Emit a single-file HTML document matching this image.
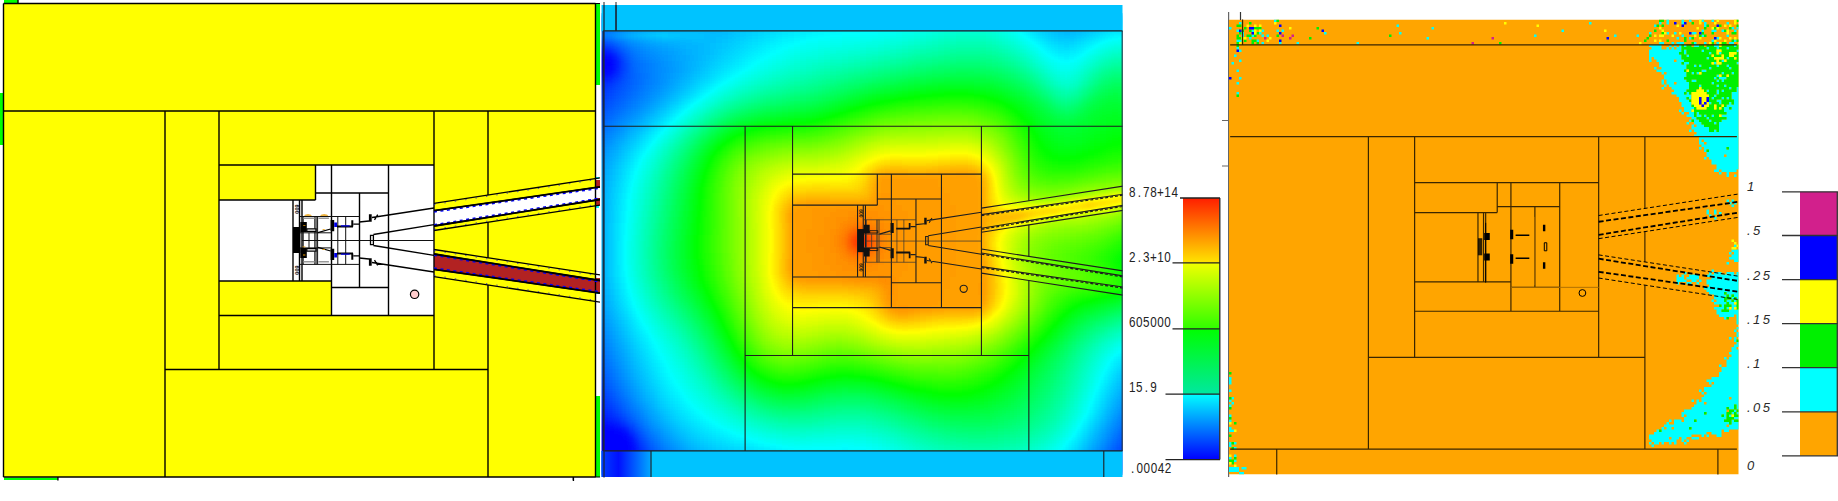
<!DOCTYPE html><html><head><meta charset="utf-8"><style>html,body{margin:0;padding:0;background:#fff;overflow:hidden}svg{display:block}.t{font-family:"Liberation Sans",sans-serif;font-size:14.6px;fill:#222}.i{font-family:"Liberation Sans",sans-serif;font-style:italic;font-size:13px;letter-spacing:2.4px;fill:#2a2a2a}.nv{vector-effect:non-scaling-stroke}</style></head><body>
<svg width="1838" height="501" viewBox="0 0 1838 501">
<defs>
<path id="gM" class="nv" d="M3.5,3.5H595.5 M3.5,111H595.5 M165,111V477 M219,111V369.5 M434,111V369.5 M488,111V195.1 M488,222.2V257.8 M488,284.9V477 M165,369.5H488 M219,165H434 M219,315.5H434 M315.5,165V200 M219,200H315.5 M219,281H331.5 M331.5,165V315.5 M388.5,165V315.5 M315.5,193H388.5 M359.5,193V287.5 M331.5,287.5H388.5 M293,200V281 M299.5,200V281 M302,200V281 M3.5,477H595.5 M18,-40V3.5 M57.9,477V520 M573.3,477V520"/>
<path id="gF" class="nv" d="M3.5,3.5V477M595.5,3.5V477"/>
<path id="gC" class="nv" d="M300,216.5H359.5 M300,264.4H359.5 M300,232.8H331.5 M300,247.9H331.5 M302,240.5H434 M337.8,216.5V264.4 M345.7,216.5V264.4 M314.8,216.5V264.4 M316.1,216.5V264.4 M317.6,216.5V264.4 M309,232.8V247.9 M303.2,216.5V264.4"/>
<path id="gT" class="nv" d="M434,249.5L600,274.89 M434,230.5L600,205.11 M434,254L600,280.52 M434,226L600,199.48 M434,269.3L600,293.04 M434,210.7L600,186.96 M434,276.6L600,302.19 M434,203.4L600,177.81"/>
<path id="gTw" class="nv" d="M434,254L600,280.52 M434,226L600,199.48 M434,269.3L600,293.04 M434,210.7L600,186.96"/>
<path id="gTb" class="nv" d="M434,249.5L600,274.89 M434,230.5L600,205.11 M434,276.6L600,302.19 M434,203.4L600,177.81"/>
<path id="gB" class="nv" d="M317.9,232.7L330.6,229 M317.9,247.3L330.6,251.0 M353.3,224.2H359.3 M353.3,255.8H359.3 M359.3,222L369,221 M359.3,258.0L369,259.0 M372,217.5L434,208 M372,262.5L434,272.0 M373.4,234.5L434,224.7 M373.4,245.5L434,255.3 M370.5,235.3V244.7H373.4V235.3Z M370.5,244.7V235.3H373.4V244.7Z M374.5,219.8L377.7,214.6 M374.5,260.2L377.7,265.4"/>
<g id="gK"><rect x="293" y="227" width="7.3" height="26" fill="#000"/><path d="M300.3,222H306.8V232H300.3Z M300.3,248H306.8V258H300.3Z" fill="#000"/><path d="M306.8,228.8H316V231.4H306.8Z M306.8,248.6H316V251.2H306.8Z" fill="#fff" stroke="#000" stroke-width="1.3"/><path d="M330.6,220H334.2V231.3H330.6Z M330.6,248.7H334.2V260H330.6Z M337,225.6H353V227.6H337Z M337,252.4H353V254.4H337Z M351.3,220.2H353.3V226.5H351.3Z M351.3,253.5H353.3V259.8H351.3Z M368.9,214.2H371.7V221.8H368.9Z M368.9,258.2H371.7V265.8H368.9Z" fill="#000"/><path d="M334.2,222.6H337V227H334.2Z M334.2,253H337V257.4H334.2Z M341,225.3H349.7V226.5H341Z M341,253.5H349.7V254.7H341Z" fill="#0000e8"/><path d="M303.4,217.6h11.2v1.4h-11.2z M318.4,217.6h10.5v1.4h-10.5z M303.4,261h11.2v1.4h-11.2z M318.4,261h10.5v1.4h-10.5z" fill="#999"/><path d="M304.3,215.8a3.7,1.6 0 0 1 7.4,0z M320.3,215.8a3.9,1.6 0 0 1 7.8,0z" fill="#e89a00"/><path d="M303.2,224.9h2.2v0.8h-2.2z M302.5,246.5h2.9v0.8h-2.9z M303,254.6h2.4v0.8h-2.4z M322.6,229.2h2.2v0.9h-2.2z M322.6,249h2.2v0.9h-2.2z" fill="#e89a00"/><text transform="translate(295.2,204.5) rotate(90)" style="font-family:Liberation Sans,sans-serif;font-size:5.6px;font-weight:bold" fill="#111">600</text><text transform="translate(295.2,265.5) rotate(90)" style="font-family:Liberation Sans,sans-serif;font-size:5.6px;font-weight:bold" fill="#111">600</text></g>
<g id="gKb"><rect x="293" y="227" width="7.3" height="26" fill="#111"/><path d="M300.3,222H306.8V232H300.3Z M300.3,248H306.8V258H300.3Z" fill="#111"/><path d="M306.8,228.8H316V231.4H306.8Z M306.8,248.6H316V251.2H306.8Z" fill="none" stroke="#111" stroke-width="1"/><path d="M330.6,220H334.2V231.3H330.6Z M330.6,248.7H334.2V260H330.6Z M337,225.6H353V227.6H337Z M337,252.4H353V254.4H337Z M351.3,220.2H353.3V226.5H351.3Z M351.3,253.5H353.3V259.8H351.3Z M368.9,214.2H371.7V221.8H368.9Z M368.9,258.2H371.7V265.8H368.9Z" fill="#111"/><text transform="translate(295.2,204.5) rotate(90)" style="font-family:Liberation Sans,sans-serif;font-size:5.6px;font-weight:bold" fill="#111">600</text><text transform="translate(295.2,265.5) rotate(90)" style="font-family:Liberation Sans,sans-serif;font-size:5.6px;font-weight:bold" fill="#111">600</text></g>
<clipPath id="cL"><rect x="0" y="0" width="600" height="480.5"/></clipPath>
<clipPath id="cM"><rect x="601.5" y="5" width="521" height="472"/></clipPath>
<clipPath id="cR"><rect x="1229" y="19.5" width="509.5" height="455"/></clipPath>
<filter id="cmap" x="0" y="0" width="1" height="1" color-interpolation-filters="sRGB"><feGaussianBlur stdDeviation="3"/><feComponentTransfer><feFuncR type="table" tableValues="0 0 0 1 1"/><feFuncG type="table" tableValues="0 1 1 1 0"/><feFuncB type="table" tableValues="1 1 0 0 0"/></feComponentTransfer></filter>
</defs>
<g clip-path="url(#cL)">
<rect x="3.5" y="3.5" width="592" height="473.5" fill="#ff0"/>
<rect x="4" y="0" width="14" height="3.5" fill="#0f0"/>
<rect x="0" y="93" width="3.5" height="52" fill="#0f0"/>
<rect x="596" y="4" width="4" height="81" fill="#0f0"/>
<rect x="596" y="396" width="4" height="81" fill="#0f0"/>
<rect x="4" y="477.5" width="53.5" height="2.5" fill="#0f0"/>
<path d="M315.5,165H434V315.5H331.5V281H219V200H315.5Z" fill="#fff"/>
<path d="M434,226L600,199.48L600,186.96L434,210.7Z" fill="#fff"/>
<path d="M434,254L600,280.52L600,293.04L434,269.3Z" fill="#b22222"/>
<rect x="596" y="180" width="4" height="8" fill="#b22222"/><rect x="596" y="198" width="4" height="7" fill="#b22222"/>
<rect x="596" y="177" width="3" height="2" fill="#0ff"/><rect x="596" y="206" width="3" height="2" fill="#0ff"/>
<rect x="596" y="278" width="4" height="13" fill="#b22222"/><rect x="596" y="292" width="3" height="2" fill="#0ff"/>
<use href="#gM" fill="none" stroke="#000" stroke-width="1.4"/>
<use href="#gF" fill="none" stroke="#000" stroke-width="1.4"/>
<use href="#gC" fill="none" stroke="#111" stroke-width="1"/>
<use href="#gT" fill="none" stroke="#000" stroke-width="1.3"/>
<path d="M434,212.00L600,188.26 M434,224.70L600,198.18 M434,255.30L600,281.82 M434,268.00L600,291.74" fill="none" stroke="#0000ff" stroke-width="1.5" stroke-dasharray="3 3.5"/>
<path d="M434,204.60L600,179.01 M434,229.30L600,203.91 M434,250.70L600,276.09 M434,275.40L600,300.99" fill="none" stroke="#0000ff" stroke-width="1" stroke-dasharray="1.5 9" opacity="0.6"/>
<path d="M434,210.70L600,186.96 M434,226.00L600,199.48 M434,254.00L600,280.52 M434,269.30L600,293.04" fill="none" stroke="#000" stroke-width="1.8"/>
<use href="#gB" fill="none" stroke="#000" stroke-width="1.3"/>
<use href="#gK"/>
<circle cx="414.6" cy="294.3" r="4.2" fill="#fcc" stroke="#000" stroke-width="1.2"/>
</g>
<path d="M573.5,477V481M595,3.5H600M595,477H600" stroke="#000" stroke-width="1.2"/>
<g clip-path="url(#cM)">
<g filter="url(#cmap)">
<path fill="#000000" d="M596 55h12v6h-12zM590 61h24v6h-24zM596 67h12v6h-12zM584 415h6v6h-6zM584 421h12v6h-12zM584 427h30v6h-30zM584 433h42v6h-42zM584 439h48v6h-48zM584 445h48v6h-48zM584 451h48v6h-48zM584 457h48v6h-48zM584 463h48v6h-48zM584 469h54v6h-54zM1136 469h6v6h-6z"/>
<path fill="#010101" d="M608 55h6v6h-6zM590 67h6v6h-6zM608 67h6v6h-6zM584 409h6v6h-6zM590 415h6v6h-6zM596 421h6v6h-6zM614 427h6v6h-6zM1136 463h6v6h-6z"/>
<path fill="#020202" d="M590 55h6v6h-6zM584 61h6v6h-6zM602 421h6v6h-6zM632 463h6v6h-6z"/>
<path fill="#030303" d="M584 67h6v6h-6zM596 73h12v6h-12zM584 403h6v6h-6zM590 409h6v6h-6zM620 427h6v6h-6zM626 433h6v6h-6zM632 451h6v6h-6zM632 457h6v6h-6zM1136 457h6v6h-6zM638 469h6v6h-6zM1130 469h6v6h-6z"/>
<path fill="#040404" d="M584 55h6v6h-6zM584 73h12v6h-12zM596 415h6v6h-6zM632 445h6v6h-6z"/>
<path fill="#050505" d="M596 49h12v6h-12zM584 397h6v6h-6zM608 421h6v6h-6zM1136 451h6v6h-6zM1130 463h6v6h-6z"/>
<path fill="#060606" d="M590 49h6v6h-6zM614 61h6v6h-6zM608 73h6v6h-6zM584 79h6v6h-6zM590 403h6v6h-6zM596 409h6v6h-6zM638 463h6v6h-6z"/>
<path fill="#070707" d="M584 49h6v6h-6zM590 79h6v6h-6zM584 85h6v6h-6zM584 391h6v6h-6zM602 415h6v6h-6zM614 421h6v6h-6zM632 439h6v6h-6zM1136 445h6v6h-6zM1130 457h6v6h-6zM644 469h6v6h-6zM1124 469h6v6h-6z"/>
<path fill="#080808" d="M614 67h6v6h-6zM596 79h6v6h-6zM590 397h6v6h-6zM638 457h6v6h-6z"/>
<path fill="#090909" d="M608 49h6v6h-6zM614 55h6v6h-6zM602 79h6v6h-6zM590 85h6v6h-6zM584 91h6v6h-6zM584 385h6v6h-6zM596 403h6v6h-6zM1130 451h6v6h-6zM1124 463h6v6h-6z"/>
<path fill="#0a0a0a" d="M584 97h6v6h-6zM590 391h6v6h-6zM602 409h6v6h-6zM608 415h6v6h-6zM626 427h6v6h-6zM1136 439h6v6h-6zM638 451h6v6h-6zM644 463h6v6h-6z"/>
<path fill="#0b0b0b" d="M596 85h6v6h-6zM590 91h6v6h-6zM584 379h6v6h-6zM596 397h6v6h-6zM1130 445h6v6h-6zM1124 457h6v6h-6zM650 469h6v6h-6zM1118 469h6v6h-6z"/>
<path fill="#0c0c0c" d="M590 43h6v6h-6zM614 73h6v6h-6zM608 79h6v6h-6zM584 103h6v6h-6zM620 421h6v6h-6zM632 433h6v6h-6zM1136 433h6v6h-6z"/>
<path fill="#0d0d0d" d="M584 43h6v6h-6zM596 43h6v6h-6zM602 85h6v6h-6zM596 91h6v6h-6zM590 97h6v6h-6zM584 373h6v6h-6zM590 385h6v6h-6zM602 403h6v6h-6zM608 409h6v6h-6zM614 415h6v6h-6zM638 445h6v6h-6zM1124 451h6v6h-6zM644 457h6v6h-6zM1118 463h6v6h-6z"/>
<path fill="#0e0e0e" d="M584 109h6v6h-6zM596 391h6v6h-6zM1130 439h6v6h-6zM650 463h6v6h-6zM656 469h6v6h-6z"/>
<path fill="#0f0f0f" d="M584 19h6v6h-6zM584 25h6v6h-6zM602 43h6v6h-6zM614 49h6v6h-6zM620 61h6v6h-6zM596 97h6v6h-6zM590 103h6v6h-6zM584 367h6v6h-6zM590 379h6v6h-6zM602 397h6v6h-6zM1136 427h6v6h-6zM1118 457h6v6h-6zM1112 469h6v6h-6z"/>
<path fill="#101010" d="M584 13h6v6h-6zM590 25h6v6h-6zM620 67h6v6h-6zM614 79h6v6h-6zM608 85h6v6h-6zM602 91h6v6h-6zM584 115h6v6h-6zM590 373h6v6h-6zM596 385h6v6h-6zM608 403h6v6h-6zM1130 433h6v6h-6zM638 439h6v6h-6zM1124 445h6v6h-6zM644 451h6v6h-6z"/>
<path fill="#111111" d="M590 13h6v6h-6zM590 19h6v6h-6zM596 103h6v6h-6zM590 109h6v6h-6zM584 361h6v6h-6zM602 391h6v6h-6zM614 409h6v6h-6zM620 415h6v6h-6zM626 421h6v6h-6zM632 427h6v6h-6zM650 457h6v6h-6zM1112 463h6v6h-6z"/>
<path fill="#121212" d="M596 19h6v6h-6zM596 25h6v6h-6zM608 43h6v6h-6zM620 55h6v6h-6zM620 73h6v6h-6zM608 91h6v6h-6zM602 97h6v6h-6zM584 121h6v6h-6zM584 355h6v6h-6zM590 367h6v6h-6zM596 379h6v6h-6zM1136 421h6v6h-6zM1124 439h6v6h-6zM1118 451h6v6h-6zM656 463h6v6h-6zM662 469h6v6h-6z"/>
<path fill="#131313" d="M596 13h6v6h-6zM602 25h6v6h-6zM614 85h6v6h-6zM596 109h6v6h-6zM590 115h6v6h-6zM608 397h6v6h-6zM1130 427h6v6h-6zM644 445h6v6h-6zM1112 457h6v6h-6zM1106 469h6v6h-6z"/>
<path fill="#141414" d="M602 13h6v6h-6zM602 19h12v6h-12zM608 25h6v6h-6zM584 37h6v6h-6zM620 79h6v6h-6zM608 97h6v6h-6zM602 103h6v6h-6zM584 127h6v6h-6zM584 349h6v6h-6zM590 361h6v6h-6zM596 373h6v6h-6zM602 385h6v6h-6zM614 403h6v6h-6zM638 433h6v6h-6zM1118 445h6v6h-6zM650 451h6v6h-6z"/>
<path fill="#151515" d="M608 13h12v6h-12zM590 37h12v6h-12zM614 91h6v6h-6zM590 121h6v6h-6zM584 343h6v6h-6zM608 391h6v6h-6zM620 409h6v6h-6zM1136 415h6v6h-6zM1124 433h6v6h-6zM656 457h6v6h-6zM662 463h6v6h-6zM1106 463h6v6h-6zM668 469h6v6h-6z"/>
<path fill="#161616" d="M620 13h6v6h-6zM614 19h6v6h-6zM620 49h6v6h-6zM626 61h6v6h-6zM626 67h6v6h-6zM626 73h6v6h-6zM620 85h6v6h-6zM608 103h6v6h-6zM602 109h6v6h-6zM596 115h6v6h-6zM590 355h6v6h-6zM596 367h6v6h-6zM602 379h6v6h-6zM626 415h6v6h-6zM1130 421h6v6h-6zM644 439h6v6h-6zM1112 451h6v6h-6z"/>
<path fill="#171717" d="M614 25h6v6h-6zM614 43h6v6h-6zM626 79h6v6h-6zM620 91h6v6h-6zM614 97h6v6h-6zM590 127h6v6h-6zM584 133h6v6h-6zM584 337h6v6h-6zM590 349h6v6h-6zM596 361h6v6h-6zM614 397h6v6h-6zM1136 409h6v6h-6zM632 421h6v6h-6zM1124 427h6v6h-6zM1118 439h6v6h-6zM1100 469h6v6h-6z"/>
<path fill="#181818" d="M626 13h6v6h-6zM620 19h6v6h-6zM602 37h6v6h-6zM626 55h6v6h-6zM626 85h6v6h-6zM602 115h6v6h-6zM596 121h6v6h-6zM584 139h6v6h-6zM584 331h6v6h-6zM602 373h6v6h-6zM608 385h6v6h-6zM620 403h6v6h-6zM638 427h6v6h-6zM650 445h6v6h-6zM1112 445h6v6h-6zM656 451h6v6h-6zM1106 457h6v6h-6zM674 469h6v6h-6z"/>
<path fill="#191919" d="M620 97h6v6h-6zM614 103h6v6h-6zM608 109h6v6h-6zM584 325h6v6h-6zM590 343h6v6h-6zM596 355h6v6h-6zM614 391h6v6h-6zM1130 415h6v6h-6zM1118 433h6v6h-6zM662 457h6v6h-6zM668 463h6v6h-6z"/>
<path fill="#1a1a1a" d="M632 13h6v6h-6zM620 25h6v6h-6zM632 67h6v6h-6zM632 73h6v6h-6zM632 79h6v6h-6zM626 91h6v6h-6zM596 127h6v6h-6zM590 133h6v6h-6zM584 145h6v6h-6zM590 337h6v6h-6zM602 367h6v6h-6zM608 379h6v6h-6zM1136 403h6v6h-6zM626 409h6v6h-6zM1124 421h6v6h-6zM644 433h6v6h-6zM1106 451h6v6h-6zM1100 463h6v6h-6z"/>
<path fill="#1b1b1b" d="M626 19h6v6h-6zM608 37h6v6h-6zM620 43h6v6h-6zM626 49h6v6h-6zM632 61h6v6h-6zM632 85h6v6h-6zM620 103h6v6h-6zM614 109h6v6h-6zM608 115h6v6h-6zM602 121h6v6h-6zM584 319h6v6h-6zM590 331h6v6h-6zM596 349h6v6h-6zM602 361h6v6h-6zM620 397h6v6h-6zM1130 409h6v6h-6zM632 415h6v6h-6zM650 439h6v6h-6zM1112 439h6v6h-6zM680 469h6v6h-6zM1094 469h6v6h-6z"/>
<path fill="#1c1c1c" d="M638 13h6v6h-6zM632 19h6v6h-6zM626 25h6v6h-6zM632 55h6v6h-6zM638 73h6v6h-6zM638 79h6v6h-6zM632 91h6v6h-6zM626 97h6v6h-6zM590 139h6v6h-6zM584 151h6v6h-6zM584 313h6v6h-6zM596 343h6v6h-6zM608 373h6v6h-6zM614 385h6v6h-6zM638 421h6v6h-6zM1118 427h6v6h-6zM656 445h6v6h-6zM662 451h6v6h-6zM668 457h6v6h-6zM1100 457h6v6h-6zM674 463h6v6h-6z"/>
<path fill="#1d1d1d" d="M644 13h6v6h-6zM638 61h6v6h-6zM638 67h6v6h-6zM638 85h6v6h-6zM602 127h6v6h-6zM596 133h6v6h-6zM590 145h6v6h-6zM584 157h6v6h-6zM584 307h6v6h-6zM590 325h6v6h-6zM602 355h6v6h-6zM608 367h6v6h-6zM1136 397h6v6h-6zM626 403h6v6h-6zM1124 415h6v6h-6zM644 427h6v6h-6zM1106 445h6v6h-6z"/>
<path fill="#1e1e1e" d="M650 13h6v6h-6zM638 19h6v6h-6zM632 25h6v6h-6zM644 73h6v6h-6zM632 97h6v6h-6zM626 103h6v6h-6zM620 109h6v6h-6zM614 115h6v6h-6zM608 121h6v6h-6zM584 163h6v6h-6zM584 301h6v6h-6zM590 319h6v6h-6zM596 337h6v6h-6zM602 349h6v6h-6zM614 379h6v6h-6zM620 391h6v6h-6zM1130 403h6v6h-6zM632 409h6v6h-6zM650 433h6v6h-6zM1112 433h6v6h-6zM1094 463h6v6h-6zM686 469h6v6h-6z"/>
<path fill="#1f1f1f" d="M644 19h6v6h-6zM638 25h6v6h-6zM614 37h6v6h-6zM626 43h6v6h-6zM632 49h6v6h-6zM638 55h6v6h-6zM644 61h6v6h-6zM644 67h6v6h-6zM644 79h6v6h-6zM638 91h6v6h-6zM596 139h6v6h-6zM590 151h6v6h-6zM584 169h6v6h-6zM584 295h6v6h-6zM590 313h6v6h-6zM596 331h6v6h-6zM608 361h6v6h-6zM626 397h6v6h-6zM638 415h6v6h-6zM1118 421h6v6h-6zM656 439h6v6h-6zM1100 451h6v6h-6zM680 463h6v6h-6zM1088 469h6v6h-6z"/>
<path fill="#202020" d="M656 13h12v6h-12zM584 31h6v6h-6zM644 85h6v6h-6zM632 103h6v6h-6zM608 127h6v6h-6zM602 133h6v6h-6zM584 175h6v6h-6zM584 283h6v6h-6zM584 289h6v6h-6zM596 325h6v6h-6zM602 343h6v6h-6zM614 373h6v6h-6zM620 385h6v6h-6zM1136 391h6v6h-6zM1124 409h6v6h-6zM1106 439h6v6h-6zM662 445h6v6h-6zM668 451h6v6h-6zM674 457h6v6h-6zM692 469h6v6h-6z"/>
<path fill="#212121" d="M668 13h6v6h-6zM650 19h6v6h-6zM644 25h6v6h-6zM590 31h6v6h-6zM638 49h6v6h-6zM644 55h6v6h-6zM650 61h6v6h-6zM650 67h6v6h-6zM650 73h6v6h-6zM650 79h6v6h-6zM644 91h6v6h-6zM638 97h6v6h-6zM626 109h6v6h-6zM620 115h6v6h-6zM614 121h6v6h-6zM596 145h6v6h-6zM590 157h6v6h-6zM584 181h6v6h-6zM584 187h6v6h-6zM584 193h6v6h-6zM584 199h6v6h-6zM584 265h6v6h-6zM584 271h6v6h-6zM584 277h6v6h-6zM590 307h6v6h-6zM602 337h6v6h-6zM608 355h6v6h-6zM614 367h6v6h-6zM1130 397h6v6h-6zM632 403h6v6h-6zM1118 415h6v6h-6zM644 421h6v6h-6zM1112 427h6v6h-6zM1094 457h6v6h-6z"/>
<path fill="#222222" d="M674 13h6v6h-6zM656 19h6v6h-6zM650 25h6v6h-6zM596 31h6v6h-6zM620 37h6v6h-6zM632 43h6v6h-6zM650 85h6v6h-6zM602 139h6v6h-6zM590 163h6v6h-6zM584 205h6v6h-6zM584 211h6v6h-6zM584 217h6v6h-6zM584 223h6v6h-6zM584 229h6v6h-6zM584 235h6v6h-6zM584 241h6v6h-6zM584 247h6v6h-6zM584 253h6v6h-6zM584 259h6v6h-6zM590 301h6v6h-6zM596 319h6v6h-6zM608 349h6v6h-6zM620 379h6v6h-6zM1136 385h6v6h-6zM626 391h6v6h-6zM1124 403h6v6h-6zM638 409h6v6h-6zM650 427h6v6h-6zM656 433h6v6h-6zM1100 445h6v6h-6zM686 463h6v6h-6zM1088 463h6v6h-6zM698 469h6v6h-6z"/>
<path fill="#232323" d="M680 13h6v6h-6zM662 19h6v6h-6zM656 25h6v6h-6zM602 31h6v6h-6zM644 49h6v6h-6zM650 55h6v6h-6zM656 61h6v6h-6zM656 67h6v6h-6zM656 73h6v6h-6zM656 79h6v6h-6zM644 97h6v6h-6zM638 103h6v6h-6zM632 109h6v6h-6zM626 115h6v6h-6zM614 127h6v6h-6zM608 133h6v6h-6zM596 151h6v6h-6zM590 169h6v6h-6zM590 295h6v6h-6zM596 313h6v6h-6zM602 331h6v6h-6zM614 361h6v6h-6zM1130 391h6v6h-6zM1112 421h6v6h-6zM1106 433h6v6h-6zM662 439h6v6h-6zM668 445h6v6h-6zM674 451h6v6h-6zM680 457h6v6h-6zM1082 469h6v6h-6z"/>
<path fill="#242424" d="M686 13h6v6h-6zM668 19h6v6h-6zM662 25h6v6h-6zM638 43h6v6h-6zM650 49h6v6h-6zM656 55h6v6h-6zM662 67h6v6h-6zM656 85h6v6h-6zM650 91h6v6h-6zM620 121h6v6h-6zM602 145h6v6h-6zM596 157h6v6h-6zM590 175h6v6h-6zM590 181h6v6h-6zM590 283h6v6h-6zM590 289h6v6h-6zM596 307h6v6h-6zM602 325h6v6h-6zM608 343h6v6h-6zM620 373h6v6h-6zM626 385h6v6h-6zM632 397h6v6h-6zM1118 409h6v6h-6zM644 415h6v6h-6zM1094 451h6v6h-6zM692 463h6v6h-6zM704 469h6v6h-6z"/>
<path fill="#252525" d="M692 13h6v6h-6zM1058 13h24v6h-24zM674 19h12v6h-12zM668 25h6v6h-6zM626 37h6v6h-6zM662 61h6v6h-6zM662 73h6v6h-6zM662 79h6v6h-6zM608 139h6v6h-6zM596 163h6v6h-6zM590 187h6v6h-6zM590 193h6v6h-6zM590 199h6v6h-6zM590 205h6v6h-6zM590 211h6v6h-6zM590 265h6v6h-6zM590 271h6v6h-6zM590 277h6v6h-6zM608 337h6v6h-6zM614 355h6v6h-6zM620 367h6v6h-6zM1136 379h6v6h-6zM1124 397h6v6h-6zM638 403h6v6h-6zM650 421h6v6h-6zM656 427h6v6h-6zM1106 427h6v6h-6zM1100 439h6v6h-6zM686 457h6v6h-6zM1088 457h6v6h-6zM710 469h6v6h-6z"/>
<path fill="#262626" d="M698 13h6v6h-6zM1082 13h6v6h-6zM686 19h6v6h-6zM674 25h6v6h-6zM608 31h6v6h-6zM644 43h6v6h-6zM656 49h6v6h-6zM662 55h6v6h-6zM668 61h6v6h-6zM668 67h6v6h-6zM656 91h6v6h-6zM650 97h6v6h-6zM644 103h6v6h-6zM638 109h6v6h-6zM632 115h6v6h-6zM620 127h6v6h-6zM614 133h6v6h-6zM602 151h6v6h-6zM596 169h6v6h-6zM590 217h6v6h-6zM590 223h6v6h-6zM590 229h6v6h-6zM590 235h6v6h-6zM590 241h6v6h-6zM590 247h6v6h-6zM590 253h6v6h-6zM590 259h6v6h-6zM596 301h6v6h-6zM602 319h6v6h-6zM614 349h6v6h-6zM626 379h6v6h-6zM1130 385h6v6h-6zM632 391h6v6h-6zM1112 415h6v6h-6zM662 433h6v6h-6zM668 439h6v6h-6zM674 445h6v6h-6zM680 451h6v6h-6zM698 463h6v6h-6zM1082 463h6v6h-6z"/>
<path fill="#272727" d="M704 13h6v6h-6zM1052 13h6v6h-6zM1088 13h6v6h-6zM692 19h6v6h-6zM680 25h6v6h-6zM632 37h6v6h-6zM650 43h6v6h-6zM662 49h6v6h-6zM668 55h6v6h-6zM668 73h6v6h-6zM662 85h6v6h-6zM626 121h6v6h-6zM596 175h6v6h-6zM596 295h6v6h-6zM602 313h6v6h-6zM608 331h6v6h-6zM620 361h6v6h-6zM1124 391h6v6h-6zM1118 403h6v6h-6zM644 409h6v6h-6zM1094 445h6v6h-6zM692 457h6v6h-6zM716 469h6v6h-6zM1076 469h6v6h-6z"/>
<path fill="#282828" d="M710 13h6v6h-6zM1046 13h6v6h-6zM1094 13h6v6h-6zM698 19h6v6h-6zM1064 19h12v6h-12zM686 25h6v6h-6zM656 43h6v6h-6zM668 49h6v6h-6zM674 61h6v6h-6zM674 67h6v6h-6zM668 79h6v6h-6zM608 145h6v6h-6zM602 157h6v6h-6zM596 181h6v6h-6zM596 187h6v6h-6zM596 283h6v6h-6zM596 289h6v6h-6zM608 325h6v6h-6zM614 343h6v6h-6zM620 355h6v6h-6zM626 373h6v6h-6zM1136 373h6v6h-6zM1130 379h6v6h-6zM632 385h6v6h-6zM638 397h6v6h-6zM650 415h6v6h-6zM1106 421h6v6h-6zM1100 433h6v6h-6zM1088 451h6v6h-6zM704 463h6v6h-6zM722 469h6v6h-6z"/>
<path fill="#292929" d="M716 13h6v6h-6zM1136 13h6v6h-6zM704 19h6v6h-6zM1058 19h6v6h-6zM1076 19h6v6h-6zM692 25h6v6h-6zM614 31h6v6h-6zM638 37h6v6h-6zM662 43h6v6h-6zM674 49h6v6h-6zM674 55h6v6h-6zM674 73h6v6h-6zM668 85h6v6h-6zM662 91h6v6h-6zM656 97h6v6h-6zM650 103h6v6h-6zM644 109h6v6h-6zM638 115h6v6h-6zM620 133h6v6h-6zM614 139h6v6h-6zM602 163h6v6h-6zM596 193h6v6h-6zM596 199h6v6h-6zM596 205h6v6h-6zM596 211h6v6h-6zM596 271h6v6h-6zM596 277h6v6h-6zM602 307h6v6h-6zM614 337h6v6h-6zM626 367h6v6h-6zM1118 397h6v6h-6zM644 403h6v6h-6zM1112 409h6v6h-6zM656 421h6v6h-6zM662 427h6v6h-6zM668 433h6v6h-6zM674 439h6v6h-6zM680 445h6v6h-6zM686 451h6v6h-6zM698 457h6v6h-6zM1082 457h6v6h-6zM710 463h6v6h-6zM728 469h12v6h-12z"/>
<path fill="#2a2a2a" d="M722 13h12v6h-12zM1100 13h6v6h-6zM710 19h6v6h-6zM1052 19h6v6h-6zM1082 19h6v6h-6zM698 25h6v6h-6zM644 37h6v6h-6zM668 43h6v6h-6zM680 55h6v6h-6zM680 61h6v6h-6zM680 67h6v6h-6zM674 79h6v6h-6zM632 121h6v6h-6zM626 127h6v6h-6zM608 151h6v6h-6zM602 169h6v6h-6zM596 217h6v6h-6zM596 223h6v6h-6zM596 229h6v6h-6zM596 235h6v6h-6zM596 241h6v6h-6zM596 247h6v6h-6zM596 253h6v6h-6zM596 259h6v6h-6zM596 265h6v6h-6zM602 301h6v6h-6zM608 319h6v6h-6zM620 349h6v6h-6zM632 379h6v6h-6zM1124 385h6v6h-6zM638 391h6v6h-6zM650 409h6v6h-6zM1100 427h6v6h-6zM1094 439h6v6h-6zM716 463h6v6h-6zM1076 463h6v6h-6zM740 469h6v6h-6zM1070 469h6v6h-6z"/>
<path fill="#2b2b2b" d="M734 13h6v6h-6zM1040 13h6v6h-6zM1106 13h6v6h-6zM1130 13h6v6h-6zM716 19h6v6h-6zM1088 19h6v6h-6zM704 25h6v6h-6zM674 43h6v6h-6zM680 49h6v6h-6zM686 55h6v6h-6zM680 73h6v6h-6zM614 145h6v6h-6zM608 157h6v6h-6zM602 175h6v6h-6zM602 295h6v6h-6zM608 313h6v6h-6zM614 331h6v6h-6zM620 343h6v6h-6zM626 361h6v6h-6zM1136 367h6v6h-6zM1130 373h6v6h-6zM1118 391h6v6h-6zM1112 403h6v6h-6zM656 415h6v6h-6zM1106 415h6v6h-6zM1088 445h6v6h-6zM692 451h6v6h-6zM704 457h6v6h-6zM722 463h6v6h-6zM746 469h12v6h-12z"/>
<path fill="#2c2c2c" d="M740 13h6v6h-6zM1112 13h18v6h-18zM722 19h6v6h-6zM1046 19h6v6h-6zM710 25h6v6h-6zM1058 25h18v6h-18zM620 31h6v6h-6zM650 37h6v6h-6zM680 43h6v6h-6zM686 49h6v6h-6zM686 61h6v6h-6zM686 67h6v6h-6zM674 85h6v6h-6zM668 91h6v6h-6zM662 97h6v6h-6zM656 103h6v6h-6zM650 109h6v6h-6zM620 139h6v6h-6zM602 181h6v6h-6zM602 187h6v6h-6zM602 289h6v6h-6zM614 325h6v6h-6zM626 355h6v6h-6zM632 373h6v6h-6zM1124 379h6v6h-6zM638 385h6v6h-6zM644 397h6v6h-6zM662 421h6v6h-6zM668 427h6v6h-6zM1094 433h6v6h-6zM680 439h6v6h-6zM686 445h6v6h-6zM710 457h6v6h-6zM728 463h6v6h-6zM758 469h6v6h-6z"/>
<path fill="#2d2d2d" d="M746 13h6v6h-6zM1034 13h6v6h-6zM728 19h6v6h-6zM1094 19h6v6h-6zM716 25h6v6h-6zM1052 25h6v6h-6zM1076 25h6v6h-6zM656 37h6v6h-6zM686 43h12v6h-12zM692 49h6v6h-6zM692 55h6v6h-6zM692 61h6v6h-6zM686 73h6v6h-6zM680 79h6v6h-6zM644 115h6v6h-6zM638 121h6v6h-6zM632 127h6v6h-6zM626 133h6v6h-6zM614 151h6v6h-6zM608 163h6v6h-6zM602 193h6v6h-6zM602 199h6v6h-6zM602 205h6v6h-6zM602 277h6v6h-6zM602 283h6v6h-6zM608 307h6v6h-6zM620 337h6v6h-6zM632 367h6v6h-6zM1112 397h6v6h-6zM650 403h6v6h-6zM1106 409h6v6h-6zM1100 421h6v6h-6zM674 433h6v6h-6zM698 451h6v6h-6zM1082 451h6v6h-6zM734 463h6v6h-6zM764 469h6v6h-6z"/>
<path fill="#2e2e2e" d="M752 13h6v6h-6zM734 19h6v6h-6zM1040 19h6v6h-6zM1100 19h6v6h-6zM1136 19h6v6h-6zM722 25h6v6h-6zM1082 25h6v6h-6zM662 37h30v6h-30zM698 43h6v6h-6zM698 49h6v6h-6zM698 55h6v6h-6zM692 67h6v6h-6zM608 169h6v6h-6zM602 211h6v6h-6zM602 217h6v6h-6zM602 223h6v6h-6zM602 229h6v6h-6zM602 235h6v6h-6zM602 241h6v6h-6zM602 247h6v6h-6zM602 253h6v6h-6zM602 259h6v6h-6zM602 265h6v6h-6zM602 271h6v6h-6zM608 301h6v6h-6zM614 319h6v6h-6zM626 349h6v6h-6zM1136 361h6v6h-6zM1130 367h6v6h-6zM638 379h6v6h-6zM1118 385h6v6h-6zM644 391h6v6h-6zM656 409h6v6h-6zM1088 439h6v6h-6zM692 445h6v6h-6zM704 451h6v6h-6zM716 457h6v6h-6zM1076 457h6v6h-6zM740 463h12v6h-12zM1070 463h6v6h-6zM770 469h12v6h-12zM1064 469h6v6h-6z"/>
<path fill="#2f2f2f" d="M758 13h6v6h-6zM740 19h6v6h-6zM728 25h6v6h-6zM1046 25h6v6h-6zM626 31h6v6h-6zM710 31h18v6h-18zM1064 31h6v6h-6zM692 37h24v6h-24zM704 43h6v6h-6zM704 49h6v6h-6zM698 61h6v6h-6zM686 79h6v6h-6zM680 85h6v6h-6zM674 91h6v6h-6zM668 97h6v6h-6zM662 103h6v6h-6zM620 145h6v6h-6zM614 157h6v6h-6zM608 175h6v6h-6zM608 295h6v6h-6zM620 331h6v6h-6zM626 343h6v6h-6zM632 361h6v6h-6zM638 373h6v6h-6zM1124 373h6v6h-6zM650 397h6v6h-6zM662 415h6v6h-6zM668 421h6v6h-6zM674 427h6v6h-6zM1094 427h6v6h-6zM680 433h6v6h-6zM686 439h6v6h-6zM722 457h6v6h-6zM752 463h6v6h-6zM782 469h6v6h-6z"/>
<path fill="#303030" d="M764 13h6v6h-6zM1028 13h6v6h-6zM746 19h6v6h-6zM1106 19h6v6h-6zM1130 19h6v6h-6zM734 25h6v6h-6zM1088 25h6v6h-6zM704 31h6v6h-6zM728 31h6v6h-6zM1058 31h6v6h-6zM1070 31h6v6h-6zM716 37h6v6h-6zM710 43h6v6h-6zM710 49h6v6h-6zM704 55h6v6h-6zM698 67h6v6h-6zM692 73h6v6h-6zM656 109h6v6h-6zM650 115h6v6h-6zM644 121h6v6h-6zM638 127h6v6h-6zM632 133h6v6h-6zM626 139h6v6h-6zM608 181h6v6h-6zM608 289h6v6h-6zM614 313h6v6h-6zM620 325h6v6h-6zM632 355h6v6h-6zM1118 379h6v6h-6zM644 385h6v6h-6zM1112 391h6v6h-6zM1106 403h6v6h-6zM1100 415h6v6h-6zM698 445h6v6h-6zM1082 445h6v6h-6zM710 451h6v6h-6zM728 457h12v6h-12zM758 463h6v6h-6zM788 469h12v6h-12z"/>
<path fill="#313131" d="M770 13h6v6h-6zM752 19h6v6h-6zM1034 19h6v6h-6zM1112 19h18v6h-18zM740 25h6v6h-6zM632 31h6v6h-6zM698 31h6v6h-6zM1052 31h6v6h-6zM1076 31h6v6h-6zM722 37h6v6h-6zM716 43h6v6h-6zM710 55h6v6h-6zM704 61h6v6h-6zM620 151h6v6h-6zM614 163h6v6h-6zM608 187h6v6h-6zM608 193h6v6h-6zM608 283h6v6h-6zM614 307h6v6h-6zM626 337h6v6h-6zM1130 361h6v6h-6zM638 367h6v6h-6zM1124 367h6v6h-6zM644 379h6v6h-6zM650 391h6v6h-6zM656 403h6v6h-6zM662 409h6v6h-6zM1088 433h6v6h-6zM692 439h6v6h-6zM704 445h6v6h-6zM716 451h6v6h-6zM1076 451h6v6h-6zM740 457h6v6h-6zM764 463h12v6h-12zM800 469h24v6h-24zM1058 469h6v6h-6z"/>
<path fill="#323232" d="M776 13h6v6h-6zM758 19h6v6h-6zM746 25h6v6h-6zM1040 25h6v6h-6zM1094 25h6v6h-6zM638 31h6v6h-6zM692 31h6v6h-6zM734 31h6v6h-6zM1082 31h6v6h-6zM728 37h6v6h-6zM722 43h6v6h-6zM716 49h6v6h-6zM704 67h6v6h-6zM698 73h6v6h-6zM692 79h6v6h-6zM686 85h6v6h-6zM680 91h6v6h-6zM674 97h6v6h-6zM626 145h6v6h-6zM614 169h6v6h-6zM608 199h6v6h-6zM608 205h6v6h-6zM608 211h6v6h-6zM608 217h6v6h-6zM608 277h6v6h-6zM620 319h6v6h-6zM632 349h6v6h-6zM1136 355h6v6h-6zM638 361h6v6h-6zM1118 373h6v6h-6zM1112 385h6v6h-6zM1106 397h6v6h-6zM1100 409h6v6h-6zM668 415h6v6h-6zM674 421h6v6h-6zM1094 421h6v6h-6zM680 427h6v6h-6zM686 433h6v6h-6zM722 451h6v6h-6zM746 457h6v6h-6zM1070 457h6v6h-6zM776 463h6v6h-6zM1064 463h6v6h-6zM824 469h24v6h-24z"/>
<path fill="#333333" d="M782 13h12v6h-12zM1022 13h6v6h-6zM764 19h12v6h-12zM1028 19h6v6h-6zM752 25h6v6h-6zM1100 25h6v6h-6zM1136 25h6v6h-6zM680 31h12v6h-12zM740 31h6v6h-6zM1046 31h6v6h-6zM734 37h6v6h-6zM1058 37h18v6h-18zM728 43h6v6h-6zM722 49h6v6h-6zM716 55h6v6h-6zM710 61h6v6h-6zM668 103h6v6h-6zM662 109h6v6h-6zM656 115h6v6h-6zM632 139h6v6h-6zM620 157h6v6h-6zM614 175h6v6h-6zM608 223h6v6h-6zM608 229h6v6h-6zM608 235h6v6h-6zM608 241h6v6h-6zM608 247h6v6h-6zM608 253h6v6h-6zM608 259h6v6h-6zM608 265h6v6h-6zM608 271h6v6h-6zM614 301h6v6h-6zM626 331h6v6h-6zM632 343h6v6h-6zM644 373h6v6h-6zM650 385h6v6h-6zM656 397h6v6h-6zM698 439h6v6h-6zM1082 439h6v6h-6zM710 445h6v6h-6zM728 451h6v6h-6zM752 457h6v6h-6zM782 463h12v6h-12zM848 469h12v6h-12z"/>
<path fill="#343434" d="M794 13h6v6h-6zM776 19h6v6h-6zM758 25h6v6h-6zM1034 25h6v6h-6zM644 31h6v6h-6zM674 31h6v6h-6zM746 31h6v6h-6zM1088 31h6v6h-6zM740 37h6v6h-6zM1052 37h6v6h-6zM704 73h6v6h-6zM650 121h6v6h-6zM644 127h6v6h-6zM638 133h6v6h-6zM614 181h6v6h-6zM614 295h6v6h-6zM620 313h6v6h-6zM626 325h6v6h-6zM638 355h6v6h-6zM1124 361h6v6h-6zM644 367h6v6h-6zM1112 379h6v6h-6zM1106 391h6v6h-6zM662 403h6v6h-6zM668 409h6v6h-6zM686 427h6v6h-6zM1088 427h6v6h-6zM692 433h6v6h-6zM704 439h6v6h-6zM716 445h6v6h-6zM734 451h6v6h-6zM758 457h12v6h-12zM794 463h18v6h-18zM860 469h12v6h-12zM1052 469h6v6h-6z"/>
<path fill="#353535" d="M800 13h12v6h-12zM1016 13h6v6h-6zM782 19h6v6h-6zM764 25h6v6h-6zM1106 25h6v6h-6zM1130 25h6v6h-6zM650 31h6v6h-6zM668 31h6v6h-6zM752 31h6v6h-6zM1040 31h6v6h-6zM1076 37h6v6h-6zM734 43h6v6h-6zM728 49h6v6h-6zM722 55h6v6h-6zM716 61h6v6h-6zM710 67h6v6h-6zM698 79h6v6h-6zM692 85h6v6h-6zM686 91h6v6h-6zM626 151h6v6h-6zM620 163h6v6h-6zM614 187h6v6h-6zM614 289h6v6h-6zM632 337h6v6h-6zM638 349h6v6h-6zM1130 355h6v6h-6zM1118 367h6v6h-6zM650 379h6v6h-6zM656 391h6v6h-6zM1100 403h6v6h-6zM674 415h6v6h-6zM1094 415h6v6h-6zM680 421h6v6h-6zM722 445h6v6h-6zM1076 445h6v6h-6zM740 451h6v6h-6zM1070 451h6v6h-6zM770 457h6v6h-6zM1064 457h6v6h-6zM812 463h36v6h-36zM1058 463h6v6h-6zM872 469h6v6h-6z"/>
<path fill="#363636" d="M812 13h12v6h-12zM788 19h6v6h-6zM1022 19h6v6h-6zM770 25h6v6h-6zM1112 25h18v6h-18zM656 31h12v6h-12zM758 31h6v6h-6zM1094 31h6v6h-6zM746 37h6v6h-6zM1046 37h6v6h-6zM740 43h6v6h-6zM1064 43h6v6h-6zM734 49h6v6h-6zM728 55h6v6h-6zM680 97h6v6h-6zM674 103h6v6h-6zM632 145h6v6h-6zM620 169h6v6h-6zM614 193h6v6h-6zM614 199h6v6h-6zM614 283h6v6h-6zM620 307h6v6h-6zM626 319h6v6h-6zM1136 349h6v6h-6zM644 361h6v6h-6zM650 373h6v6h-6zM1112 373h6v6h-6zM656 385h6v6h-6zM1106 385h6v6h-6zM662 397h6v6h-6zM698 433h6v6h-6zM1082 433h6v6h-6zM710 439h6v6h-6zM728 445h6v6h-6zM746 451h6v6h-6zM776 457h12v6h-12zM848 463h12v6h-12zM878 469h6v6h-6zM1046 469h6v6h-6z"/>
<path fill="#373737" d="M824 13h18v6h-18zM794 19h12v6h-12zM776 25h6v6h-6zM1028 25h6v6h-6zM764 31h6v6h-6zM752 37h6v6h-6zM1082 37h6v6h-6zM1058 43h6v6h-6zM1070 43h6v6h-6zM722 61h6v6h-6zM716 67h6v6h-6zM710 73h6v6h-6zM704 79h6v6h-6zM668 109h6v6h-6zM662 115h6v6h-6zM638 139h6v6h-6zM626 157h6v6h-6zM620 175h6v6h-6zM614 205h6v6h-6zM614 211h6v6h-6zM614 217h6v6h-6zM614 277h6v6h-6zM620 301h6v6h-6zM632 331h6v6h-6zM638 343h6v6h-6zM644 355h6v6h-6zM1100 397h6v6h-6zM668 403h6v6h-6zM674 409h6v6h-6zM680 415h6v6h-6zM686 421h6v6h-6zM1088 421h6v6h-6zM692 427h6v6h-6zM704 433h6v6h-6zM716 439h6v6h-6zM734 445h6v6h-6zM752 451h12v6h-12zM788 457h12v6h-12zM860 463h12v6h-12zM884 469h6v6h-6z"/>
<path fill="#383838" d="M842 13h18v6h-18zM1010 13h6v6h-6zM806 19h12v6h-12zM782 25h12v6h-12zM770 31h6v6h-6zM1034 31h6v6h-6zM1100 31h6v6h-6zM1136 31h6v6h-6zM758 37h6v6h-6zM746 43h6v6h-6zM1052 43h6v6h-6zM740 49h6v6h-6zM734 55h6v6h-6zM728 61h6v6h-6zM698 85h6v6h-6zM692 91h6v6h-6zM656 121h6v6h-6zM650 127h6v6h-6zM644 133h6v6h-6zM614 223h6v6h-6zM614 229h6v6h-6zM614 235h6v6h-6zM614 241h6v6h-6zM614 247h6v6h-6zM614 253h6v6h-6zM614 259h6v6h-6zM614 265h6v6h-6zM614 271h6v6h-6zM626 313h6v6h-6zM1124 355h6v6h-6zM1118 361h6v6h-6zM650 367h6v6h-6zM656 379h6v6h-6zM662 391h6v6h-6zM1094 409h6v6h-6zM698 427h6v6h-6zM722 439h6v6h-6zM1076 439h6v6h-6zM740 445h6v6h-6zM764 451h6v6h-6zM800 457h48v6h-48zM872 463h6v6h-6zM1052 463h6v6h-6zM890 469h6v6h-6z"/>
<path fill="#393939" d="M860 13h18v6h-18zM818 19h12v6h-12zM1016 19h6v6h-6zM794 25h6v6h-6zM776 31h6v6h-6zM764 37h6v6h-6zM1040 37h6v6h-6zM1088 37h6v6h-6zM752 43h6v6h-6zM1076 43h6v6h-6zM746 49h6v6h-6zM722 67h6v6h-6zM716 73h6v6h-6zM686 97h6v6h-6zM632 151h6v6h-6zM626 163h6v6h-6zM620 181h6v6h-6zM620 187h6v6h-6zM620 295h6v6h-6zM632 325h6v6h-6zM638 337h6v6h-6zM644 349h6v6h-6zM1130 349h6v6h-6zM650 361h6v6h-6zM1112 367h6v6h-6zM1106 379h6v6h-6zM1100 391h6v6h-6zM668 397h6v6h-6zM674 403h6v6h-6zM692 421h6v6h-6zM1082 427h6v6h-6zM710 433h6v6h-6zM746 445h6v6h-6zM1070 445h6v6h-6zM770 451h6v6h-6zM1064 451h6v6h-6zM848 457h12v6h-12zM1058 457h6v6h-6zM878 463h6v6h-6zM1040 469h6v6h-6z"/>
<path fill="#3a3a3a" d="M878 13h12v6h-12zM1004 13h6v6h-6zM830 19h18v6h-18zM800 25h12v6h-12zM1022 25h6v6h-6zM782 31h6v6h-6zM1106 31h6v6h-6zM1130 31h6v6h-6zM770 37h6v6h-6zM758 43h6v6h-6zM1046 43h6v6h-6zM1058 49h12v6h-12zM740 55h6v6h-6zM734 61h6v6h-6zM710 79h6v6h-6zM680 103h6v6h-6zM638 145h6v6h-6zM620 193h6v6h-6zM620 289h6v6h-6zM626 307h6v6h-6zM632 319h6v6h-6zM638 331h6v6h-6zM644 343h6v6h-6zM656 373h6v6h-6zM662 385h6v6h-6zM1094 403h6v6h-6zM680 409h6v6h-6zM686 415h6v6h-6zM1088 415h6v6h-6zM704 427h6v6h-6zM716 433h6v6h-6zM728 439h6v6h-6zM776 451h6v6h-6zM860 457h12v6h-12zM884 463h6v6h-6zM896 469h6v6h-6z"/>
<path fill="#3b3b3b" d="M890 13h12v6h-12zM848 19h24v6h-24zM812 25h6v6h-6zM788 31h6v6h-6zM1028 31h6v6h-6zM1112 31h6v6h-6zM1124 31h6v6h-6zM1094 37h6v6h-6zM1082 43h6v6h-6zM752 49h6v6h-6zM1052 49h6v6h-6zM1070 49h6v6h-6zM728 67h6v6h-6zM704 85h6v6h-6zM674 109h6v6h-6zM668 115h6v6h-6zM644 139h6v6h-6zM632 157h6v6h-6zM626 169h6v6h-6zM620 199h6v6h-6zM620 205h6v6h-6zM620 283h6v6h-6zM1136 343h6v6h-6zM650 355h6v6h-6zM1118 355h6v6h-6zM1112 361h6v6h-6zM656 367h6v6h-6zM1106 373h6v6h-6zM662 379h6v6h-6zM1100 385h6v6h-6zM668 391h6v6h-6zM674 397h6v6h-6zM698 421h6v6h-6zM1076 433h6v6h-6zM734 439h6v6h-6zM752 445h6v6h-6zM782 451h12v6h-12zM872 457h6v6h-6zM1046 463h6v6h-6zM902 469h6v6h-6zM1034 469h6v6h-6z"/>
<path fill="#3c3c3c" d="M902 13h12v6h-12zM998 13h6v6h-6zM872 19h12v6h-12zM1010 19h6v6h-6zM818 25h18v6h-18zM794 31h12v6h-12zM1118 31h6v6h-6zM776 37h6v6h-6zM1034 37h6v6h-6zM764 43h6v6h-6zM758 49h6v6h-6zM1076 49h6v6h-6zM746 55h6v6h-6zM740 61h6v6h-6zM722 73h6v6h-6zM698 91h6v6h-6zM662 121h6v6h-6zM656 127h6v6h-6zM650 133h6v6h-6zM626 175h6v6h-6zM620 211h6v6h-6zM620 217h6v6h-6zM620 277h6v6h-6zM626 301h6v6h-6zM644 337h6v6h-6zM650 349h6v6h-6zM1124 349h6v6h-6zM656 361h6v6h-6zM668 385h6v6h-6zM1094 397h6v6h-6zM680 403h6v6h-6zM686 409h6v6h-6zM692 415h6v6h-6zM1082 421h6v6h-6zM710 427h6v6h-6zM722 433h6v6h-6zM740 439h6v6h-6zM1070 439h6v6h-6zM758 445h6v6h-6zM794 451h66v6h-66zM878 457h6v6h-6zM1052 457h6v6h-6zM890 463h6v6h-6zM908 469h6v6h-6z"/>
<path fill="#3d3d3d" d="M914 13h6v6h-6zM884 19h12v6h-12zM836 25h24v6h-24zM1016 25h6v6h-6zM806 31h6v6h-6zM782 37h12v6h-12zM1136 37h6v6h-6zM770 43h6v6h-6zM1040 43h6v6h-6zM1088 43h6v6h-6zM752 55h6v6h-6zM1064 55h6v6h-6zM734 67h6v6h-6zM716 79h6v6h-6zM692 97h6v6h-6zM638 151h6v6h-6zM632 163h6v6h-6zM626 181h6v6h-6zM620 223h6v6h-6zM620 229h6v6h-6zM620 235h6v6h-6zM620 265h6v6h-6zM620 271h6v6h-6zM626 295h6v6h-6zM632 313h6v6h-6zM638 325h6v6h-6zM1130 343h6v6h-6zM1106 367h6v6h-6zM662 373h6v6h-6zM1100 379h6v6h-6zM674 391h6v6h-6zM1088 409h6v6h-6zM704 421h6v6h-6zM716 427h6v6h-6zM728 433h6v6h-6zM746 439h6v6h-6zM764 445h12v6h-12zM1064 445h6v6h-6zM860 451h6v6h-6zM1058 451h6v6h-6zM896 463h6v6h-6zM1040 463h6v6h-6zM1028 469h6v6h-6z"/>
<path fill="#3e3e3e" d="M920 13h6v6h-6zM992 13h6v6h-6zM896 19h12v6h-12zM1004 19h6v6h-6zM860 25h18v6h-18zM812 31h12v6h-12zM1022 31h6v6h-6zM794 37h6v6h-6zM1100 37h6v6h-6zM776 43h6v6h-6zM764 49h6v6h-6zM1046 49h6v6h-6zM1058 55h6v6h-6zM1070 55h6v6h-6zM746 61h6v6h-6zM728 73h6v6h-6zM710 85h6v6h-6zM686 103h6v6h-6zM644 145h6v6h-6zM626 187h6v6h-6zM620 241h6v6h-6zM620 247h6v6h-6zM620 253h6v6h-6zM620 259h6v6h-6zM644 331h6v6h-6zM650 343h6v6h-6zM656 355h6v6h-6zM1112 355h6v6h-6zM662 367h6v6h-6zM668 379h6v6h-6zM1094 391h6v6h-6zM680 397h6v6h-6zM686 403h6v6h-6zM692 409h6v6h-6zM698 415h6v6h-6zM1076 427h6v6h-6zM776 445h6v6h-6zM866 451h6v6h-6zM884 457h6v6h-6zM902 463h6v6h-6zM914 469h6v6h-6zM1022 469h6v6h-6z"/>
<path fill="#3f3f3f" d="M926 13h12v6h-12zM986 13h6v6h-6zM908 19h6v6h-6zM878 25h12v6h-12zM824 31h18v6h-18zM800 37h6v6h-6zM1028 37h6v6h-6zM1106 37h6v6h-6zM782 43h6v6h-6zM770 49h6v6h-6zM1082 49h6v6h-6zM758 55h6v6h-6zM1052 55h6v6h-6zM740 67h6v6h-6zM722 79h6v6h-6zM704 91h6v6h-6zM680 109h6v6h-6zM674 115h6v6h-6zM650 139h6v6h-6zM632 169h6v6h-6zM626 193h6v6h-6zM626 289h6v6h-6zM632 307h6v6h-6zM638 319h6v6h-6zM1118 349h6v6h-6zM662 361h6v6h-6zM1106 361h6v6h-6zM1100 373h6v6h-6zM674 385h6v6h-6zM1088 403h6v6h-6zM1082 415h6v6h-6zM710 421h6v6h-6zM722 427h6v6h-6zM734 433h6v6h-6zM752 439h6v6h-6zM782 445h6v6h-6zM842 445h6v6h-6zM872 451h6v6h-6zM890 457h6v6h-6zM1046 457h6v6h-6zM1034 463h6v6h-6zM920 469h6v6h-6z"/>
<path fill="#404040" d="M938 13h6v6h-6zM914 19h6v6h-6zM998 19h6v6h-6zM890 25h6v6h-6zM1010 25h6v6h-6zM842 31h18v6h-18zM806 37h12v6h-12zM1130 37h6v6h-6zM788 43h6v6h-6zM1034 43h6v6h-6zM1094 43h6v6h-6zM776 49h6v6h-6zM1040 49h6v6h-6zM764 55h6v6h-6zM1076 55h6v6h-6zM752 61h6v6h-6zM734 73h6v6h-6zM698 97h6v6h-6zM668 121h6v6h-6zM662 127h6v6h-6zM656 133h6v6h-6zM638 157h6v6h-6zM632 175h6v6h-6zM626 199h6v6h-6zM626 205h6v6h-6zM626 283h6v6h-6zM644 325h6v6h-6zM650 337h6v6h-6zM1136 337h6v6h-6zM1124 343h6v6h-6zM656 349h6v6h-6zM668 373h6v6h-6zM1094 385h6v6h-6zM680 391h6v6h-6zM698 409h6v6h-6zM704 415h6v6h-6zM740 433h6v6h-6zM1070 433h6v6h-6zM758 439h6v6h-6zM1064 439h6v6h-6zM788 445h54v6h-54zM848 445h18v6h-18zM878 451h6v6h-6zM1052 451h6v6h-6zM896 457h6v6h-6zM908 463h6v6h-6zM926 469h6v6h-6zM1016 469h6v6h-6z"/>
<path fill="#414141" d="M944 13h18v6h-18zM974 13h12v6h-12zM920 19h6v6h-6zM896 25h12v6h-12zM860 31h18v6h-18zM1016 31h6v6h-6zM818 37h12v6h-12zM1112 37h18v6h-18zM794 43h6v6h-6zM1046 55h6v6h-6zM1058 61h12v6h-12zM746 67h6v6h-6zM716 85h6v6h-6zM644 151h6v6h-6zM626 211h6v6h-6zM626 217h6v6h-6zM626 277h6v6h-6zM632 301h6v6h-6zM638 313h6v6h-6zM656 343h6v6h-6zM662 355h6v6h-6zM668 367h6v6h-6zM1100 367h6v6h-6zM674 379h6v6h-6zM686 397h6v6h-6zM1088 397h6v6h-6zM692 403h6v6h-6zM716 421h6v6h-6zM1076 421h6v6h-6zM728 427h6v6h-6zM764 439h6v6h-6zM866 445h6v6h-6zM1058 445h6v6h-6zM884 451h6v6h-6zM914 463h6v6h-6zM1028 463h6v6h-6zM932 469h6v6h-6zM1010 469h6v6h-6z"/>
<path fill="#424242" d="M962 13h12v6h-12zM926 19h12v6h-12zM992 19h6v6h-6zM908 25h6v6h-6zM1004 25h6v6h-6zM878 31h12v6h-12zM830 37h12v6h-12zM1022 37h6v6h-6zM800 43h6v6h-6zM1136 43h6v6h-6zM782 49h6v6h-6zM1088 49h6v6h-6zM770 55h6v6h-6zM758 61h6v6h-6zM1070 61h6v6h-6zM728 79h6v6h-6zM710 91h6v6h-6zM692 103h6v6h-6zM638 163h6v6h-6zM632 181h6v6h-6zM626 223h6v6h-6zM626 229h6v6h-6zM626 271h6v6h-6zM632 295h6v6h-6zM650 331h6v6h-6zM1112 349h6v6h-6zM1106 355h6v6h-6zM674 373h6v6h-6zM1094 379h6v6h-6zM680 385h6v6h-6zM1082 409h6v6h-6zM710 415h6v6h-6zM746 433h6v6h-6zM770 439h6v6h-6zM872 445h6v6h-6zM890 451h6v6h-6zM902 457h6v6h-6zM1040 457h6v6h-6zM920 463h6v6h-6zM938 469h12v6h-12zM1004 469h6v6h-6z"/>
<path fill="#434343" d="M938 19h6v6h-6zM986 19h6v6h-6zM914 25h6v6h-6zM890 31h6v6h-6zM842 37h18v6h-18zM806 43h12v6h-12zM1028 43h6v6h-6zM1100 43h6v6h-6zM788 49h6v6h-6zM776 55h6v6h-6zM1082 55h6v6h-6zM764 61h6v6h-6zM1052 61h6v6h-6zM752 67h6v6h-6zM740 73h6v6h-6zM686 109h6v6h-6zM650 145h6v6h-6zM632 187h6v6h-6zM626 235h6v6h-6zM626 241h6v6h-6zM626 247h6v6h-6zM626 253h6v6h-6zM626 259h6v6h-6zM626 265h6v6h-6zM638 307h6v6h-6zM644 319h6v6h-6zM656 337h6v6h-6zM1130 337h6v6h-6zM1118 343h6v6h-6zM662 349h6v6h-6zM668 361h6v6h-6zM686 391h6v6h-6zM1088 391h6v6h-6zM692 397h6v6h-6zM698 403h6v6h-6zM704 409h6v6h-6zM722 421h6v6h-6zM734 427h6v6h-6zM1070 427h6v6h-6zM752 433h6v6h-6zM776 439h6v6h-6zM836 439h18v6h-18zM878 445h6v6h-6zM1046 451h6v6h-6zM908 457h6v6h-6zM1022 463h6v6h-6zM950 469h12v6h-12zM992 469h12v6h-12z"/>
<path fill="#444444" d="M944 19h12v6h-12zM980 19h6v6h-6zM920 25h6v6h-6zM998 25h6v6h-6zM896 31h6v6h-6zM1010 31h6v6h-6zM860 37h12v6h-12zM818 43h12v6h-12zM794 49h6v6h-6zM1034 49h6v6h-6zM782 55h6v6h-6zM1040 55h6v6h-6zM1076 61h6v6h-6zM1058 67h12v6h-12zM734 79h6v6h-6zM722 85h6v6h-6zM704 97h6v6h-6zM680 115h6v6h-6zM674 121h6v6h-6zM662 133h6v6h-6zM656 139h6v6h-6zM644 157h6v6h-6zM638 169h6v6h-6zM632 193h6v6h-6zM632 289h6v6h-6zM650 325h6v6h-6zM668 355h6v6h-6zM1100 361h6v6h-6zM674 367h6v6h-6zM1094 373h6v6h-6zM680 379h6v6h-6zM1082 403h6v6h-6zM716 415h6v6h-6zM1076 415h6v6h-6zM740 427h6v6h-6zM758 433h6v6h-6zM1064 433h6v6h-6zM782 439h12v6h-12zM812 439h24v6h-24zM854 439h12v6h-12zM1058 439h6v6h-6zM1052 445h6v6h-6zM896 451h6v6h-6zM1034 457h6v6h-6zM926 463h6v6h-6zM1016 463h6v6h-6zM962 469h30v6h-30z"/>
<path fill="#454545" d="M956 19h24v6h-24zM926 25h6v6h-6zM902 31h12v6h-12zM872 37h12v6h-12zM1016 37h6v6h-6zM830 43h12v6h-12zM1106 43h6v6h-6zM1130 43h6v6h-6zM800 49h12v6h-12zM1094 49h6v6h-6zM770 61h6v6h-6zM1046 61h6v6h-6zM758 67h6v6h-6zM1070 67h6v6h-6zM746 73h6v6h-6zM668 127h6v6h-6zM638 175h6v6h-6zM632 199h6v6h-6zM632 205h6v6h-6zM632 283h6v6h-6zM638 301h6v6h-6zM644 313h6v6h-6zM1124 337h6v6h-6zM662 343h6v6h-6zM680 373h6v6h-6zM686 385h6v6h-6zM1088 385h6v6h-6zM692 391h6v6h-6zM710 409h6v6h-6zM728 421h6v6h-6zM794 439h18v6h-18zM866 439h6v6h-6zM884 445h6v6h-6zM914 457h6v6h-6zM932 463h6v6h-6z"/>
<path fill="#464646" d="M932 25h12v6h-12zM992 25h6v6h-6zM914 31h6v6h-6zM1004 31h6v6h-6zM884 37h6v6h-6zM842 43h12v6h-12zM1022 43h6v6h-6zM1112 43h6v6h-6zM1124 43h6v6h-6zM812 49h6v6h-6zM788 55h6v6h-6zM776 61h6v6h-6zM764 67h6v6h-6zM1052 67h6v6h-6zM728 85h6v6h-6zM716 91h6v6h-6zM698 103h6v6h-6zM650 151h6v6h-6zM644 163h6v6h-6zM632 211h6v6h-6zM656 331h6v6h-6zM1136 331h6v6h-6zM1112 343h6v6h-6zM668 349h6v6h-6zM1106 349h6v6h-6zM1100 355h6v6h-6zM674 361h6v6h-6zM1094 367h6v6h-6zM698 397h6v6h-6zM1082 397h6v6h-6zM704 403h6v6h-6zM722 415h6v6h-6zM1070 421h6v6h-6zM746 427h6v6h-6zM764 433h6v6h-6zM872 439h6v6h-6zM890 445h6v6h-6zM902 451h6v6h-6zM1040 451h6v6h-6zM920 457h6v6h-6zM1028 457h6v6h-6zM938 463h12v6h-12zM1004 463h12v6h-12z"/>
<path fill="#474747" d="M944 25h6v6h-6zM986 25h6v6h-6zM920 31h6v6h-6zM890 37h12v6h-12zM854 43h12v6h-12zM1118 43h6v6h-6zM818 49h6v6h-6zM1028 49h6v6h-6zM794 55h6v6h-6zM1088 55h6v6h-6zM782 61h6v6h-6zM752 73h6v6h-6zM1064 73h6v6h-6zM740 79h6v6h-6zM692 109h6v6h-6zM638 181h6v6h-6zM632 217h6v6h-6zM632 223h6v6h-6zM632 277h6v6h-6zM638 295h6v6h-6zM650 319h6v6h-6zM662 337h6v6h-6zM680 367h6v6h-6zM686 379h6v6h-6zM1088 379h6v6h-6zM716 409h6v6h-6zM1076 409h6v6h-6zM734 421h6v6h-6zM1064 427h6v6h-6zM770 433h6v6h-6zM878 439h6v6h-6zM1046 445h6v6h-6zM908 451h6v6h-6zM1022 457h6v6h-6zM950 463h6v6h-6zM998 463h6v6h-6z"/>
<path fill="#484848" d="M950 25h12v6h-12zM974 25h12v6h-12zM926 31h6v6h-6zM998 31h6v6h-6zM902 37h6v6h-6zM1010 37h6v6h-6zM866 43h12v6h-12zM824 49h12v6h-12zM1100 49h6v6h-6zM1136 49h6v6h-6zM800 55h6v6h-6zM1034 55h6v6h-6zM1082 61h6v6h-6zM770 67h6v6h-6zM1076 67h6v6h-6zM758 73h6v6h-6zM1058 73h6v6h-6zM710 97h6v6h-6zM686 115h6v6h-6zM656 145h6v6h-6zM644 169h6v6h-6zM638 187h6v6h-6zM632 229h6v6h-6zM632 235h6v6h-6zM632 265h6v6h-6zM632 271h6v6h-6zM644 307h6v6h-6zM656 325h6v6h-6zM1118 337h6v6h-6zM668 343h6v6h-6zM674 355h6v6h-6zM1094 361h6v6h-6zM692 385h6v6h-6zM698 391h6v6h-6zM1082 391h6v6h-6zM704 397h6v6h-6zM710 403h6v6h-6zM752 427h6v6h-6zM776 433h6v6h-6zM824 433h42v6h-42zM1058 433h6v6h-6zM1052 439h6v6h-6zM896 445h6v6h-6zM1034 451h6v6h-6zM926 457h6v6h-6zM956 463h42v6h-42z"/>
<path fill="#494949" d="M962 25h12v6h-12zM932 31h6v6h-6zM908 37h6v6h-6zM878 43h6v6h-6zM1016 43h6v6h-6zM836 49h12v6h-12zM806 55h12v6h-12zM788 61h6v6h-6zM1040 61h6v6h-6zM776 67h6v6h-6zM1046 67h6v6h-6zM1070 73h6v6h-6zM746 79h6v6h-6zM734 85h6v6h-6zM722 91h6v6h-6zM680 121h6v6h-6zM674 127h6v6h-6zM668 133h6v6h-6zM662 139h6v6h-6zM650 157h6v6h-6zM638 193h6v6h-6zM632 241h6v6h-6zM632 247h6v6h-6zM632 253h6v6h-6zM632 259h6v6h-6zM638 289h6v6h-6zM650 313h6v6h-6zM662 331h6v6h-6zM1130 331h6v6h-6zM680 361h6v6h-6zM686 373h6v6h-6zM1088 373h6v6h-6zM1076 403h6v6h-6zM728 415h6v6h-6zM1070 415h6v6h-6zM740 421h6v6h-6zM758 427h6v6h-6zM782 433h18v6h-18zM806 433h18v6h-18zM866 433h6v6h-6zM884 439h6v6h-6zM902 445h6v6h-6zM914 451h6v6h-6zM932 457h6v6h-6zM1016 457h6v6h-6z"/>
<path fill="#4a4a4a" d="M938 31h6v6h-6zM992 31h6v6h-6zM914 37h6v6h-6zM1004 37h6v6h-6zM884 43h12v6h-12zM848 49h12v6h-12zM1106 49h6v6h-6zM1130 49h6v6h-6zM818 55h6v6h-6zM1094 55h6v6h-6zM794 61h6v6h-6zM764 73h6v6h-6zM1052 73h6v6h-6zM704 103h6v6h-6zM644 175h6v6h-6zM638 199h6v6h-6zM644 301h6v6h-6zM1106 343h6v6h-6zM674 349h6v6h-6zM1100 349h6v6h-6zM1088 367h6v6h-6zM692 379h6v6h-6zM1082 385h6v6h-6zM722 409h6v6h-6zM1064 421h6v6h-6zM800 433h6v6h-6zM872 433h6v6h-6zM890 439h6v6h-6zM1040 445h6v6h-6zM920 451h6v6h-6zM1028 451h6v6h-6zM938 457h6v6h-6zM1010 457h6v6h-6z"/>
<path fill="#4b4b4b" d="M944 31h12v6h-12zM986 31h6v6h-6zM920 37h6v6h-6zM896 43h6v6h-6zM860 49h6v6h-6zM1022 49h6v6h-6zM824 55h6v6h-6zM800 61h6v6h-6zM1088 61h6v6h-6zM782 67h6v6h-6zM752 79h6v6h-6zM1058 79h12v6h-12zM716 97h6v6h-6zM656 151h6v6h-6zM650 163h6v6h-6zM638 205h6v6h-6zM638 211h6v6h-6zM638 283h6v6h-6zM656 319h6v6h-6zM1124 331h6v6h-6zM668 337h6v6h-6zM1112 337h6v6h-6zM680 355h6v6h-6zM1094 355h6v6h-6zM686 367h6v6h-6zM698 385h6v6h-6zM704 391h6v6h-6zM710 397h6v6h-6zM1076 397h6v6h-6zM716 403h6v6h-6zM1070 409h6v6h-6zM734 415h6v6h-6zM746 421h6v6h-6zM764 427h6v6h-6zM1058 427h6v6h-6zM878 433h6v6h-6zM1052 433h6v6h-6zM1046 439h6v6h-6zM908 445h6v6h-6zM944 457h12v6h-12zM1004 457h6v6h-6z"/>
<path fill="#4c4c4c" d="M956 31h30v6h-30zM926 37h6v6h-6zM998 37h6v6h-6zM902 43h6v6h-6zM1010 43h6v6h-6zM866 49h12v6h-12zM1112 49h18v6h-18zM830 55h12v6h-12zM1028 55h6v6h-6zM806 61h6v6h-6zM1034 61h6v6h-6zM788 67h6v6h-6zM1082 67h6v6h-6zM770 73h6v6h-6zM1076 73h6v6h-6zM1070 79h6v6h-6zM740 85h6v6h-6zM728 91h6v6h-6zM698 109h6v6h-6zM644 181h6v6h-6zM638 217h6v6h-6zM638 277h6v6h-6zM644 295h6v6h-6zM650 307h6v6h-6zM662 325h6v6h-6zM674 343h6v6h-6zM692 373h6v6h-6zM1082 379h6v6h-6zM770 427h6v6h-6zM836 427h24v6h-24zM896 439h6v6h-6zM1034 445h6v6h-6zM926 451h6v6h-6zM1022 451h6v6h-6zM956 457h12v6h-12zM992 457h12v6h-12z"/>
<path fill="#4d4d4d" d="M932 37h6v6h-6zM908 43h6v6h-6zM878 49h6v6h-6zM842 55h6v6h-6zM1100 55h6v6h-6zM1136 55h6v6h-6zM812 61h6v6h-6zM794 67h6v6h-6zM1040 67h6v6h-6zM776 73h6v6h-6zM758 79h6v6h-6zM692 115h6v6h-6zM662 145h6v6h-6zM650 169h6v6h-6zM644 187h6v6h-6zM638 223h6v6h-6zM638 229h6v6h-6zM638 271h6v6h-6zM1136 325h6v6h-6zM668 331h6v6h-6zM1100 343h6v6h-6zM680 349h6v6h-6zM686 361h6v6h-6zM1088 361h6v6h-6zM1082 373h6v6h-6zM698 379h6v6h-6zM1076 391h6v6h-6zM1070 403h6v6h-6zM728 409h6v6h-6zM740 415h6v6h-6zM1064 415h6v6h-6zM752 421h6v6h-6zM776 427h6v6h-6zM824 427h12v6h-12zM860 427h6v6h-6zM884 433h6v6h-6zM914 445h6v6h-6zM932 451h6v6h-6zM1016 451h6v6h-6zM968 457h24v6h-24z"/>
<path fill="#4e4e4e" d="M938 37h6v6h-6zM992 37h6v6h-6zM914 43h6v6h-6zM1004 43h6v6h-6zM884 49h6v6h-6zM1016 49h6v6h-6zM848 55h6v6h-6zM818 61h6v6h-6zM800 67h6v6h-6zM782 73h6v6h-6zM1046 73h6v6h-6zM764 79h6v6h-6zM1052 79h6v6h-6zM746 85h6v6h-6zM710 103h6v6h-6zM686 121h6v6h-6zM680 127h6v6h-6zM674 133h6v6h-6zM668 139h6v6h-6zM656 157h6v6h-6zM644 193h6v6h-6zM638 235h6v6h-6zM638 241h6v6h-6zM638 259h6v6h-6zM638 265h6v6h-6zM644 289h6v6h-6zM656 313h6v6h-6zM1118 331h6v6h-6zM674 337h6v6h-6zM1106 337h6v6h-6zM1094 349h6v6h-6zM692 367h6v6h-6zM704 385h6v6h-6zM722 403h6v6h-6zM1058 421h6v6h-6zM782 427h6v6h-6zM812 427h12v6h-12zM866 427h6v6h-6zM890 433h6v6h-6zM902 439h6v6h-6zM1040 439h6v6h-6zM920 445h6v6h-6zM1028 445h6v6h-6zM938 451h6v6h-6z"/>
<path fill="#4f4f4f" d="M944 37h12v6h-12zM986 37h6v6h-6zM920 43h6v6h-6zM890 49h6v6h-6zM854 55h12v6h-12zM1022 55h6v6h-6zM1130 55h6v6h-6zM824 61h6v6h-6zM1094 61h6v6h-6zM806 67h6v6h-6zM1076 79h6v6h-6zM1064 85h6v6h-6zM734 91h6v6h-6zM722 97h6v6h-6zM650 175h6v6h-6zM644 199h6v6h-6zM638 247h6v6h-6zM638 253h6v6h-6zM650 301h6v6h-6zM662 319h6v6h-6zM1130 325h6v6h-6zM686 355h6v6h-6zM1088 355h6v6h-6zM1082 367h6v6h-6zM1076 385h6v6h-6zM710 391h6v6h-6zM716 397h6v6h-6zM1070 397h6v6h-6zM1064 409h6v6h-6zM758 421h6v6h-6zM788 427h24v6h-24zM872 427h6v6h-6zM1052 427h6v6h-6zM1046 433h6v6h-6zM908 439h6v6h-6zM944 451h6v6h-6zM1004 451h12v6h-12z"/>
<path fill="#505050" d="M956 37h30v6h-30zM926 43h6v6h-6zM998 43h6v6h-6zM896 49h6v6h-6zM1010 49h6v6h-6zM866 55h6v6h-6zM1106 55h6v6h-6zM830 61h12v6h-12zM1028 61h6v6h-6zM812 67h6v6h-6zM1088 67h6v6h-6zM788 73h6v6h-6zM1082 73h6v6h-6zM770 79h6v6h-6zM752 85h6v6h-6zM1058 85h6v6h-6zM1070 85h6v6h-6zM704 109h6v6h-6zM662 151h6v6h-6zM656 163h6v6h-6zM644 205h6v6h-6zM644 283h6v6h-6zM656 307h6v6h-6zM668 325h6v6h-6zM680 343h6v6h-6zM698 373h6v6h-6zM1076 379h6v6h-6zM734 409h6v6h-6zM746 415h6v6h-6zM764 421h6v6h-6zM878 427h6v6h-6zM896 433h6v6h-6zM1034 439h6v6h-6zM926 445h6v6h-6zM1022 445h6v6h-6zM950 451h12v6h-12zM998 451h6v6h-6z"/>
<path fill="#515151" d="M932 43h6v6h-6zM902 49h6v6h-6zM872 55h6v6h-6zM1112 55h6v6h-6zM1124 55h6v6h-6zM842 61h6v6h-6zM1136 61h6v6h-6zM1034 67h6v6h-6zM794 73h6v6h-6zM776 79h6v6h-6zM740 91h6v6h-6zM650 181h6v6h-6zM644 211h6v6h-6zM644 277h6v6h-6zM650 295h6v6h-6zM1124 325h6v6h-6zM674 331h6v6h-6zM1112 331h6v6h-6zM1094 343h6v6h-6zM686 349h6v6h-6zM692 361h6v6h-6zM1082 361h6v6h-6zM704 379h6v6h-6zM1070 391h6v6h-6zM728 403h6v6h-6zM1058 415h6v6h-6zM830 421h36v6h-36zM884 427h6v6h-6zM1040 433h6v6h-6zM914 439h6v6h-6zM932 445h6v6h-6zM962 451h36v6h-36z"/>
<path fill="#525252" d="M938 43h6v6h-6zM992 43h6v6h-6zM908 49h6v6h-6zM878 55h6v6h-6zM1016 55h6v6h-6zM1118 55h6v6h-6zM848 61h6v6h-6zM818 67h6v6h-6zM800 73h6v6h-6zM1040 73h6v6h-6zM1046 79h6v6h-6zM758 85h6v6h-6zM728 97h6v6h-6zM716 103h6v6h-6zM698 115h6v6h-6zM668 145h6v6h-6zM650 187h6v6h-6zM644 217h6v6h-6zM644 223h6v6h-6zM662 313h6v6h-6zM680 337h6v6h-6zM1100 337h6v6h-6zM1088 349h6v6h-6zM1076 373h6v6h-6zM710 385h6v6h-6zM716 391h6v6h-6zM722 397h6v6h-6zM1064 403h6v6h-6zM752 415h6v6h-6zM770 421h6v6h-6zM824 421h6v6h-6zM866 421h6v6h-6zM1052 421h6v6h-6zM1046 427h6v6h-6zM902 433h6v6h-6zM1028 439h6v6h-6zM938 445h6v6h-6zM1016 445h6v6h-6z"/>
<path fill="#535353" d="M944 43h12v6h-12zM986 43h6v6h-6zM914 49h6v6h-6zM1004 49h6v6h-6zM884 55h12v6h-12zM854 61h6v6h-6zM1100 61h6v6h-6zM824 67h6v6h-6zM806 73h6v6h-6zM782 79h6v6h-6zM764 85h6v6h-6zM1052 85h6v6h-6zM746 91h6v6h-6zM692 121h6v6h-6zM674 139h6v6h-6zM662 157h6v6h-6zM656 169h6v6h-6zM650 193h6v6h-6zM644 229h6v6h-6zM644 265h6v6h-6zM644 271h6v6h-6zM650 289h6v6h-6zM656 301h6v6h-6zM668 319h6v6h-6zM692 355h6v6h-6zM698 367h6v6h-6zM1070 385h6v6h-6zM740 409h6v6h-6zM1058 409h6v6h-6zM776 421h6v6h-6zM812 421h12v6h-12zM872 421h6v6h-6zM890 427h6v6h-6zM920 439h6v6h-6zM944 445h6v6h-6zM1010 445h6v6h-6z"/>
<path fill="#545454" d="M956 43h30v6h-30zM920 49h6v6h-6zM896 55h6v6h-6zM860 61h6v6h-6zM1022 61h6v6h-6zM1130 61h6v6h-6zM830 67h6v6h-6zM1094 67h6v6h-6zM812 73h6v6h-6zM788 79h6v6h-6zM1082 79h6v6h-6zM1076 85h6v6h-6zM710 109h6v6h-6zM686 127h6v6h-6zM680 133h6v6h-6zM650 199h6v6h-6zM644 235h6v6h-6zM644 241h6v6h-6zM644 247h6v6h-6zM644 253h6v6h-6zM644 259h6v6h-6zM1136 319h6v6h-6zM674 325h6v6h-6zM1118 325h6v6h-6zM1106 331h6v6h-6zM686 343h6v6h-6zM1082 355h6v6h-6zM1076 367h6v6h-6zM704 373h6v6h-6zM1064 397h6v6h-6zM734 403h6v6h-6zM758 415h6v6h-6zM782 421h30v6h-30zM908 433h6v6h-6zM1034 433h6v6h-6zM926 439h6v6h-6zM1022 439h6v6h-6zM950 445h6v6h-6zM1004 445h6v6h-6z"/>
<path fill="#555555" d="M926 49h12v6h-12zM998 49h6v6h-6zM902 55h6v6h-6zM1010 55h6v6h-6zM866 61h6v6h-6zM1106 61h6v6h-6zM836 67h6v6h-6zM1028 67h6v6h-6zM1088 73h6v6h-6zM794 79h6v6h-6zM770 85h6v6h-6zM752 91h6v6h-6zM1064 91h6v6h-6zM734 97h6v6h-6zM722 103h6v6h-6zM668 151h6v6h-6zM656 175h6v6h-6zM650 205h6v6h-6zM650 283h6v6h-6zM662 307h6v6h-6zM680 331h6v6h-6zM1088 343h6v6h-6zM698 361h6v6h-6zM710 379h6v6h-6zM1070 379h6v6h-6zM746 409h6v6h-6zM1052 415h6v6h-6zM878 421h6v6h-6zM1046 421h6v6h-6zM896 427h6v6h-6zM1040 427h6v6h-6zM956 445h12v6h-12zM992 445h12v6h-12z"/>
<path fill="#565656" d="M938 49h6v6h-6zM992 49h6v6h-6zM908 55h6v6h-6zM872 61h6v6h-6zM1124 61h6v6h-6zM842 67h6v6h-6zM1136 67h6v6h-6zM818 73h6v6h-6zM1034 73h6v6h-6zM800 79h6v6h-6zM776 85h6v6h-6zM1058 91h6v6h-6zM704 115h6v6h-6zM662 163h6v6h-6zM656 181h6v6h-6zM650 211h6v6h-6zM656 295h6v6h-6zM668 313h6v6h-6zM1130 319h6v6h-6zM1094 337h6v6h-6zM692 349h6v6h-6zM1082 349h6v6h-6zM1076 361h6v6h-6zM1070 373h6v6h-6zM716 385h6v6h-6zM722 391h6v6h-6zM1064 391h6v6h-6zM728 397h6v6h-6zM1058 403h6v6h-6zM764 415h6v6h-6zM836 415h30v6h-30zM884 421h6v6h-6zM914 433h6v6h-6zM1028 433h6v6h-6zM932 439h6v6h-6zM1016 439h6v6h-6zM968 445h24v6h-24z"/>
<path fill="#575757" d="M944 49h6v6h-6zM986 49h6v6h-6zM1004 55h6v6h-6zM878 61h6v6h-6zM1016 61h6v6h-6zM1112 61h12v6h-12zM848 67h6v6h-6zM824 73h6v6h-6zM1040 79h6v6h-6zM782 85h6v6h-6zM1046 85h6v6h-6zM758 91h6v6h-6zM1070 91h6v6h-6zM740 97h6v6h-6zM674 145h6v6h-6zM656 187h6v6h-6zM650 217h6v6h-6zM650 277h6v6h-6zM674 319h6v6h-6zM1112 325h6v6h-6zM1100 331h6v6h-6zM686 337h6v6h-6zM704 367h6v6h-6zM1064 385h6v6h-6zM1052 409h6v6h-6zM824 415h12v6h-12zM866 415h6v6h-6zM902 427h6v6h-6zM1034 427h6v6h-6zM920 433h6v6h-6zM938 439h6v6h-6zM1010 439h6v6h-6z"/>
<path fill="#585858" d="M950 49h36v6h-36zM914 55h6v6h-6zM884 61h6v6h-6zM854 67h6v6h-6zM1100 67h6v6h-6zM830 73h6v6h-6zM806 79h6v6h-6zM728 103h6v6h-6zM716 109h6v6h-6zM698 121h6v6h-6zM680 139h6v6h-6zM662 169h6v6h-6zM650 223h6v6h-6zM650 271h6v6h-6zM656 289h6v6h-6zM662 301h6v6h-6zM1124 319h6v6h-6zM680 325h6v6h-6zM698 355h6v6h-6zM1076 355h6v6h-6zM1070 367h6v6h-6zM1058 397h6v6h-6zM740 403h6v6h-6zM752 409h6v6h-6zM770 415h6v6h-6zM818 415h6v6h-6zM872 415h6v6h-6zM1046 415h6v6h-6zM890 421h6v6h-6zM1040 421h6v6h-6zM1022 433h6v6h-6zM944 439h6v6h-6zM1004 439h6v6h-6z"/>
<path fill="#595959" d="M920 55h12v6h-12zM998 55h6v6h-6zM890 61h6v6h-6zM860 67h6v6h-6zM1022 67h6v6h-6zM1130 67h6v6h-6zM836 73h6v6h-6zM1094 73h6v6h-6zM812 79h6v6h-6zM1088 79h6v6h-6zM788 85h6v6h-6zM1082 85h6v6h-6zM764 91h6v6h-6zM1052 91h6v6h-6zM692 127h6v6h-6zM686 133h6v6h-6zM668 157h6v6h-6zM656 193h6v6h-6zM650 229h6v6h-6zM650 235h6v6h-6zM650 259h6v6h-6zM650 265h6v6h-6zM668 307h6v6h-6zM692 343h6v6h-6zM710 373h6v6h-6zM1064 379h6v6h-6zM1052 403h6v6h-6zM776 415h6v6h-6zM812 415h6v6h-6zM908 427h6v6h-6zM926 433h6v6h-6zM950 439h12v6h-12zM998 439h6v6h-6z"/>
<path fill="#5a5a5a" d="M932 55h6v6h-6zM896 61h6v6h-6zM1010 61h6v6h-6zM866 67h6v6h-6zM1106 67h6v6h-6zM1028 73h6v6h-6zM818 79h6v6h-6zM794 85h6v6h-6zM770 91h6v6h-6zM1076 91h6v6h-6zM746 97h6v6h-6zM662 175h6v6h-6zM656 199h6v6h-6zM650 241h6v6h-6zM650 247h6v6h-6zM650 253h6v6h-6zM656 283h6v6h-6zM662 295h6v6h-6zM1106 325h6v6h-6zM686 331h6v6h-6zM1094 331h6v6h-6zM1088 337h6v6h-6zM1082 343h6v6h-6zM704 361h6v6h-6zM1070 361h6v6h-6zM716 379h6v6h-6zM728 391h6v6h-6zM1058 391h6v6h-6zM734 397h6v6h-6zM758 409h6v6h-6zM1046 409h6v6h-6zM782 415h30v6h-30zM878 415h6v6h-6zM896 421h6v6h-6zM914 427h6v6h-6zM1028 427h6v6h-6zM932 433h6v6h-6zM1016 433h6v6h-6zM962 439h36v6h-36z"/>
<path fill="#5b5b5b" d="M938 55h6v6h-6zM992 55h6v6h-6zM902 61h6v6h-6zM872 67h6v6h-6zM1124 67h6v6h-6zM842 73h6v6h-6zM1136 73h6v6h-6zM1034 79h6v6h-6zM800 85h6v6h-6zM776 91h6v6h-6zM1064 97h6v6h-6zM734 103h6v6h-6zM710 115h6v6h-6zM674 151h6v6h-6zM668 163h6v6h-6zM656 205h6v6h-6zM674 313h6v6h-6zM1136 313h6v6h-6zM1118 319h6v6h-6zM698 349h6v6h-6zM1076 349h6v6h-6zM1064 373h6v6h-6zM722 385h6v6h-6zM1058 385h6v6h-6zM1052 397h6v6h-6zM746 403h6v6h-6zM836 409h24v6h-24zM884 415h6v6h-6zM1040 415h6v6h-6zM1034 421h6v6h-6zM938 433h6v6h-6zM1010 433h6v6h-6z"/>
<path fill="#5c5c5c" d="M944 55h12v6h-12zM980 55h12v6h-12zM908 61h6v6h-6zM1004 61h6v6h-6zM878 67h6v6h-6zM1016 67h6v6h-6zM1112 67h12v6h-12zM848 73h6v6h-6zM824 79h6v6h-6zM806 85h6v6h-6zM1040 85h6v6h-6zM752 97h6v6h-6zM1058 97h6v6h-6zM722 109h6v6h-6zM662 181h6v6h-6zM656 211h6v6h-6zM656 217h6v6h-6zM656 277h6v6h-6zM668 301h6v6h-6zM680 319h6v6h-6zM692 337h6v6h-6zM710 367h6v6h-6zM830 409h6v6h-6zM860 409h12v6h-12zM902 421h6v6h-6zM920 427h6v6h-6zM1022 427h6v6h-6zM1004 433h6v6h-6z"/>
<path fill="#5d5d5d" d="M956 55h24v6h-24zM914 61h6v6h-6zM884 67h6v6h-6zM854 73h6v6h-6zM1100 73h6v6h-6zM830 79h6v6h-6zM782 91h6v6h-6zM1046 91h6v6h-6zM758 97h6v6h-6zM1070 97h6v6h-6zM704 121h6v6h-6zM680 145h6v6h-6zM662 187h6v6h-6zM656 223h6v6h-6zM656 271h6v6h-6zM662 289h6v6h-6zM1130 313h6v6h-6zM1112 319h6v6h-6zM686 325h6v6h-6zM1100 325h6v6h-6zM704 355h6v6h-6zM1070 355h6v6h-6zM1064 367h6v6h-6zM1058 379h6v6h-6zM1052 391h6v6h-6zM740 397h6v6h-6zM1046 403h6v6h-6zM764 409h6v6h-6zM824 409h6v6h-6zM1040 409h6v6h-6zM890 415h6v6h-6zM1034 415h6v6h-6zM908 421h6v6h-6zM1028 421h6v6h-6zM1016 427h6v6h-6zM944 433h12v6h-12zM998 433h6v6h-6z"/>
<path fill="#5e5e5e" d="M920 61h6v6h-6zM998 61h6v6h-6zM890 67h6v6h-6zM860 73h6v6h-6zM1022 73h6v6h-6zM1130 73h6v6h-6zM836 79h6v6h-6zM1094 79h6v6h-6zM812 85h6v6h-6zM1088 85h6v6h-6zM788 91h6v6h-6zM740 103h6v6h-6zM698 127h6v6h-6zM686 139h6v6h-6zM674 157h6v6h-6zM668 169h6v6h-6zM662 193h6v6h-6zM656 229h6v6h-6zM656 265h6v6h-6zM674 307h6v6h-6zM1088 331h6v6h-6zM1082 337h6v6h-6zM698 343h6v6h-6zM1076 343h6v6h-6zM716 373h6v6h-6zM752 403h6v6h-6zM770 409h6v6h-6zM818 409h6v6h-6zM872 409h6v6h-6zM926 427h6v6h-6zM956 433h12v6h-12zM986 433h12v6h-12z"/>
<path fill="#5f5f5f" d="M926 61h6v6h-6zM992 61h6v6h-6zM896 67h6v6h-6zM1010 67h6v6h-6zM1136 79h6v6h-6zM818 85h6v6h-6zM794 91h6v6h-6zM1082 91h6v6h-6zM764 97h6v6h-6zM1052 97h6v6h-6zM716 115h6v6h-6zM692 133h6v6h-6zM662 199h6v6h-6zM656 235h6v6h-6zM656 241h6v6h-6zM656 247h6v6h-6zM656 253h6v6h-6zM656 259h6v6h-6zM662 283h6v6h-6zM668 295h6v6h-6zM680 313h6v6h-6zM692 331h6v6h-6zM710 361h6v6h-6zM1064 361h6v6h-6zM1058 373h6v6h-6zM722 379h6v6h-6zM728 385h6v6h-6zM1052 385h6v6h-6zM734 391h6v6h-6zM1046 397h6v6h-6zM806 409h12v6h-12zM878 409h6v6h-6zM896 415h6v6h-6zM914 421h6v6h-6zM1022 421h6v6h-6zM932 427h6v6h-6zM1010 427h6v6h-6zM968 433h18v6h-18z"/>
<path fill="#606060" d="M932 61h12v6h-12zM986 61h6v6h-6zM902 67h6v6h-6zM866 73h6v6h-6zM1106 73h6v6h-6zM1124 73h6v6h-6zM842 79h6v6h-6zM1028 79h6v6h-6zM800 91h6v6h-6zM770 97h6v6h-6zM1076 97h6v6h-6zM746 103h6v6h-6zM728 109h6v6h-6zM668 175h6v6h-6zM662 205h6v6h-6zM1124 313h6v6h-6zM686 319h6v6h-6zM1106 319h6v6h-6zM1094 325h6v6h-6zM704 349h6v6h-6zM1070 349h6v6h-6zM842 403h18v6h-18zM1040 403h6v6h-6zM776 409h12v6h-12zM800 409h6v6h-6zM1034 409h6v6h-6zM1028 415h6v6h-6zM938 427h6v6h-6zM1004 427h6v6h-6z"/>
<path fill="#616161" d="M944 61h12v6h-12zM980 61h6v6h-6zM1004 67h6v6h-6zM872 73h6v6h-6zM1016 73h6v6h-6zM1112 73h12v6h-12zM848 79h6v6h-6zM824 85h6v6h-6zM1034 85h6v6h-6zM806 91h6v6h-6zM776 97h6v6h-6zM1064 103h6v6h-6zM680 151h6v6h-6zM674 163h6v6h-6zM668 181h6v6h-6zM662 211h6v6h-6zM662 277h6v6h-6zM674 301h6v6h-6zM698 337h6v6h-6zM1064 355h6v6h-6zM716 367h6v6h-6zM1058 367h6v6h-6zM1052 379h6v6h-6zM1046 391h6v6h-6zM746 397h6v6h-6zM758 403h6v6h-6zM830 403h12v6h-12zM860 403h6v6h-6zM788 409h12v6h-12zM884 409h6v6h-6zM902 415h6v6h-6zM920 421h6v6h-6zM1016 421h6v6h-6zM944 427h6v6h-6zM998 427h6v6h-6z"/>
<path fill="#626262" d="M956 61h24v6h-24zM908 67h6v6h-6zM878 73h6v6h-6zM1100 79h6v6h-6zM1130 79h6v6h-6zM830 85h6v6h-6zM1040 91h6v6h-6zM782 97h6v6h-6zM752 103h6v6h-6zM1058 103h6v6h-6zM1070 103h6v6h-6zM710 121h6v6h-6zM662 217h6v6h-6zM662 271h6v6h-6zM668 289h6v6h-6zM680 307h6v6h-6zM1118 313h6v6h-6zM692 325h6v6h-6zM1082 331h6v6h-6zM1076 337h6v6h-6zM1040 397h6v6h-6zM824 403h6v6h-6zM866 403h6v6h-6zM890 409h6v6h-6zM1022 415h6v6h-6zM1010 421h6v6h-6zM950 427h6v6h-6zM986 427h12v6h-12z"/>
<path fill="#636363" d="M914 67h12v6h-12zM998 67h6v6h-6zM884 73h6v6h-6zM854 79h6v6h-6zM1022 79h6v6h-6zM1094 85h6v6h-6zM1136 85h6v6h-6zM812 91h6v6h-6zM734 109h6v6h-6zM722 115h6v6h-6zM704 127h6v6h-6zM686 145h6v6h-6zM674 169h6v6h-6zM668 187h6v6h-6zM662 223h6v6h-6zM662 229h6v6h-6zM1136 307h6v6h-6zM1100 319h6v6h-6zM1088 325h6v6h-6zM704 343h6v6h-6zM1070 343h6v6h-6zM710 355h6v6h-6zM1058 361h6v6h-6zM722 373h6v6h-6zM1052 373h6v6h-6zM1046 385h6v6h-6zM740 391h6v6h-6zM764 403h6v6h-6zM818 403h6v6h-6zM872 403h6v6h-6zM1034 403h6v6h-6zM1028 409h6v6h-6zM908 415h6v6h-6zM926 421h6v6h-6zM956 427h30v6h-30z"/>
<path fill="#646464" d="M926 67h6v6h-6zM992 67h6v6h-6zM890 73h6v6h-6zM1010 73h6v6h-6zM860 79h6v6h-6zM1106 79h6v6h-6zM1124 79h6v6h-6zM836 85h6v6h-6zM818 91h6v6h-6zM1088 91h6v6h-6zM788 97h6v6h-6zM1046 97h6v6h-6zM758 103h6v6h-6zM698 133h6v6h-6zM692 139h6v6h-6zM680 157h6v6h-6zM668 193h6v6h-6zM662 235h6v6h-6zM662 241h6v6h-6zM662 259h6v6h-6zM662 265h6v6h-6zM668 283h6v6h-6zM674 295h6v6h-6zM686 313h6v6h-6zM1112 313h6v6h-6zM698 331h6v6h-6zM1064 349h6v6h-6zM728 379h6v6h-6zM734 385h6v6h-6zM1040 391h6v6h-6zM752 397h6v6h-6zM896 409h6v6h-6zM914 415h6v6h-6zM1016 415h6v6h-6zM932 421h6v6h-6zM1004 421h6v6h-6z"/>
<path fill="#656565" d="M932 67h6v6h-6zM986 67h6v6h-6zM896 73h6v6h-6zM1028 85h6v6h-6zM794 97h6v6h-6zM1082 97h6v6h-6zM1052 103h6v6h-6zM740 109h6v6h-6zM674 175h6v6h-6zM668 199h6v6h-6zM662 247h6v6h-6zM662 253h6v6h-6zM1130 307h6v6h-6zM692 319h6v6h-6zM716 361h6v6h-6zM1052 367h6v6h-6zM1046 379h6v6h-6zM1034 397h6v6h-6zM770 403h6v6h-6zM812 403h6v6h-6zM878 403h6v6h-6zM1028 403h6v6h-6zM1022 409h6v6h-6zM938 421h6v6h-6zM998 421h6v6h-6z"/>
<path fill="#666666" d="M938 67h12v6h-12zM980 67h6v6h-6zM1004 73h6v6h-6zM866 79h6v6h-6zM1016 79h6v6h-6zM1112 79h12v6h-12zM842 85h6v6h-6zM1130 85h6v6h-6zM824 91h6v6h-6zM1136 91h6v6h-6zM800 97h6v6h-6zM764 103h6v6h-6zM1076 103h6v6h-6zM1064 109h6v6h-6zM716 121h6v6h-6zM668 205h6v6h-6zM668 211h6v6h-6zM668 277h6v6h-6zM680 301h6v6h-6zM1094 319h6v6h-6zM1076 331h6v6h-6zM704 337h6v6h-6zM710 349h6v6h-6zM1058 355h6v6h-6zM1040 385h6v6h-6zM836 397h24v6h-24zM776 403h6v6h-6zM800 403h12v6h-12zM884 403h6v6h-6zM902 409h6v6h-6zM920 415h6v6h-6zM1010 415h6v6h-6zM944 421h6v6h-6zM992 421h6v6h-6z"/>
<path fill="#676767" d="M950 67h30v6h-30zM902 73h6v6h-6zM872 79h6v6h-6zM848 85h6v6h-6zM1100 85h6v6h-6zM1034 91h6v6h-6zM806 97h6v6h-6zM770 103h6v6h-6zM728 115h6v6h-6zM686 151h6v6h-6zM680 163h6v6h-6zM674 181h6v6h-6zM668 217h6v6h-6zM674 289h6v6h-6zM686 307h6v6h-6zM1124 307h6v6h-6zM1106 313h6v6h-6zM698 325h6v6h-6zM1082 325h6v6h-6zM1070 337h6v6h-6zM1064 343h6v6h-6zM1052 361h6v6h-6zM722 367h6v6h-6zM1046 373h6v6h-6zM746 391h6v6h-6zM1034 391h6v6h-6zM758 397h6v6h-6zM830 397h6v6h-6zM860 397h6v6h-6zM782 403h18v6h-18zM1022 403h6v6h-6zM1016 409h6v6h-6zM1004 415h6v6h-6zM950 421h12v6h-12zM980 421h12v6h-12z"/>
<path fill="#686868" d="M908 73h6v6h-6zM998 73h6v6h-6zM878 79h6v6h-6zM1124 85h6v6h-6zM830 91h6v6h-6zM1094 91h6v6h-6zM1040 97h6v6h-6zM776 103h6v6h-6zM746 109h6v6h-6zM1058 109h6v6h-6zM1070 109h6v6h-6zM710 127h6v6h-6zM674 187h6v6h-6zM668 223h6v6h-6zM668 271h6v6h-6zM716 355h6v6h-6zM728 373h6v6h-6zM1040 379h6v6h-6zM740 385h6v6h-6zM824 397h6v6h-6zM866 397h6v6h-6zM1028 397h6v6h-6zM890 403h6v6h-6zM908 409h6v6h-6zM926 415h6v6h-6zM998 415h6v6h-6zM962 421h18v6h-18z"/>
<path fill="#696969" d="M914 73h12v6h-12zM992 73h6v6h-6zM1010 79h6v6h-6zM854 85h6v6h-6zM1022 85h6v6h-6zM1106 85h6v6h-6zM812 97h6v6h-6zM1088 97h6v6h-6zM782 103h6v6h-6zM1046 103h6v6h-6zM692 145h6v6h-6zM680 169h6v6h-6zM674 193h6v6h-6zM668 229h6v6h-6zM668 235h6v6h-6zM668 259h6v6h-6zM668 265h6v6h-6zM674 283h6v6h-6zM680 295h6v6h-6zM692 313h6v6h-6zM1088 319h6v6h-6zM710 343h6v6h-6zM1058 349h6v6h-6zM1046 367h6v6h-6zM734 379h6v6h-6zM1034 385h6v6h-6zM818 397h6v6h-6zM872 397h6v6h-6zM1010 409h6v6h-6zM932 415h6v6h-6z"/>
<path fill="#6a6a6a" d="M926 73h6v6h-6zM884 79h6v6h-6zM860 85h6v6h-6zM1112 85h12v6h-12zM836 91h6v6h-6zM1028 91h6v6h-6zM1130 91h6v6h-6zM818 97h6v6h-6zM1136 97h6v6h-6zM788 103h6v6h-6zM1082 103h6v6h-6zM752 109h6v6h-6zM1052 109h6v6h-6zM734 115h6v6h-6zM704 133h6v6h-6zM698 139h6v6h-6zM686 157h6v6h-6zM674 199h6v6h-6zM668 241h6v6h-6zM668 247h6v6h-6zM668 253h6v6h-6zM686 301h6v6h-6zM1118 307h6v6h-6zM1100 313h6v6h-6zM704 331h6v6h-6zM1052 355h6v6h-6zM1040 373h6v6h-6zM752 391h6v6h-6zM1028 391h6v6h-6zM764 397h6v6h-6zM1022 397h6v6h-6zM896 403h6v6h-6zM1016 403h6v6h-6zM914 409h6v6h-6zM1004 409h6v6h-6zM938 415h6v6h-6zM992 415h6v6h-6z"/>
<path fill="#6b6b6b" d="M932 73h6v6h-6zM980 73h12v6h-12zM890 79h6v6h-6zM1004 79h6v6h-6zM1100 91h6v6h-6zM794 103h6v6h-6zM758 109h6v6h-6zM1076 109h6v6h-6zM722 121h6v6h-6zM680 175h6v6h-6zM674 205h6v6h-6zM674 277h6v6h-6zM680 289h6v6h-6zM1136 301h6v6h-6zM698 319h6v6h-6zM1076 325h6v6h-6zM1070 331h6v6h-6zM1064 337h6v6h-6zM722 361h6v6h-6zM1046 361h6v6h-6zM1034 379h6v6h-6zM812 397h6v6h-6zM878 397h6v6h-6zM944 415h6v6h-6zM980 415h12v6h-12z"/>
<path fill="#6c6c6c" d="M938 73h12v6h-12zM974 73h6v6h-6zM896 79h6v6h-6zM866 85h6v6h-6zM1016 85h6v6h-6zM842 91h6v6h-6zM1124 91h6v6h-6zM824 97h6v6h-6zM1034 97h6v6h-6zM800 103h6v6h-6zM1064 115h6v6h-6zM674 211h6v6h-6zM692 307h6v6h-6zM1112 307h6v6h-6zM1094 313h6v6h-6zM1082 319h6v6h-6zM710 337h6v6h-6zM1058 343h6v6h-6zM716 349h6v6h-6zM1028 385h6v6h-6zM836 391h24v6h-24zM770 397h6v6h-6zM806 397h6v6h-6zM884 397h6v6h-6zM1016 397h6v6h-6zM902 403h6v6h-6zM1010 403h6v6h-6zM920 409h6v6h-6zM998 409h6v6h-6zM950 415h30v6h-30z"/>
<path fill="#6d6d6d" d="M950 73h24v6h-24zM902 79h6v6h-6zM998 79h6v6h-6zM872 85h6v6h-6zM848 91h6v6h-6zM1106 91h6v6h-6zM1118 91h6v6h-6zM1094 97h6v6h-6zM1130 97h6v6h-6zM806 103h6v6h-6zM1040 103h6v6h-6zM1136 103h6v6h-6zM764 109h6v6h-6zM740 115h6v6h-6zM1058 115h6v6h-6zM1070 115h6v6h-6zM716 127h6v6h-6zM692 151h6v6h-6zM686 163h6v6h-6zM680 181h6v6h-6zM674 217h6v6h-6zM674 223h6v6h-6zM674 271h6v6h-6zM1130 301h6v6h-6zM704 325h6v6h-6zM1052 349h6v6h-6zM728 367h6v6h-6zM1040 367h6v6h-6zM746 385h6v6h-6zM830 391h6v6h-6zM860 391h6v6h-6zM1022 391h6v6h-6zM776 397h6v6h-6zM800 397h6v6h-6zM926 409h6v6h-6zM992 409h6v6h-6z"/>
<path fill="#6e6e6e" d="M908 79h6v6h-6zM1010 85h6v6h-6zM1022 91h6v6h-6zM1112 91h6v6h-6zM830 97h6v6h-6zM1088 103h6v6h-6zM770 109h6v6h-6zM1046 109h6v6h-6zM1082 109h6v6h-6zM728 121h6v6h-6zM680 187h6v6h-6zM674 229h6v6h-6zM674 235h6v6h-6zM674 265h6v6h-6zM680 283h6v6h-6zM686 295h6v6h-6zM1106 307h6v6h-6zM698 313h6v6h-6zM1046 355h6v6h-6zM734 373h6v6h-6zM1034 373h6v6h-6zM740 379h6v6h-6zM758 391h6v6h-6zM824 391h6v6h-6zM866 391h6v6h-6zM782 397h18v6h-18zM890 397h6v6h-6zM908 403h6v6h-6zM1004 403h6v6h-6zM932 409h6v6h-6z"/>
<path fill="#6f6f6f" d="M914 79h6v6h-6zM992 79h6v6h-6zM878 85h6v6h-6zM854 91h6v6h-6zM1028 97h6v6h-6zM1100 97h6v6h-6zM1124 97h6v6h-6zM812 103h6v6h-6zM776 109h6v6h-6zM746 115h6v6h-6zM1052 115h6v6h-6zM1076 115h6v6h-6zM710 133h6v6h-6zM704 139h6v6h-6zM698 145h6v6h-6zM686 169h6v6h-6zM680 193h6v6h-6zM674 241h6v6h-6zM674 247h6v6h-6zM674 253h6v6h-6zM674 259h6v6h-6zM692 301h6v6h-6zM1124 301h6v6h-6zM1088 313h6v6h-6zM1070 325h6v6h-6zM1064 331h6v6h-6zM716 343h6v6h-6zM722 355h6v6h-6zM1040 361h6v6h-6zM1028 379h6v6h-6zM1022 385h6v6h-6zM872 391h6v6h-6zM1016 391h6v6h-6zM1010 397h6v6h-6zM998 403h6v6h-6zM938 409h6v6h-6zM980 409h12v6h-12z"/>
<path fill="#707070" d="M920 79h6v6h-6zM986 79h6v6h-6zM884 85h6v6h-6zM836 97h6v6h-6zM1118 97h6v6h-6zM818 103h6v6h-6zM1034 103h6v6h-6zM1094 103h6v6h-6zM1130 103h6v6h-6zM782 109h6v6h-6zM1136 109h6v6h-6zM692 157h6v6h-6zM680 199h6v6h-6zM680 205h6v6h-6zM680 277h6v6h-6zM686 289h6v6h-6zM704 319h6v6h-6zM1076 319h6v6h-6zM710 331h6v6h-6zM1058 337h6v6h-6zM1034 367h6v6h-6zM764 391h6v6h-6zM818 391h6v6h-6zM896 397h6v6h-6zM914 403h6v6h-6zM944 409h6v6h-6zM974 409h6v6h-6z"/>
<path fill="#717171" d="M926 79h12v6h-12zM980 79h6v6h-6zM890 85h6v6h-6zM1004 85h6v6h-6zM860 91h6v6h-6zM1016 91h6v6h-6zM1106 97h12v6h-12zM788 109h6v6h-6zM1040 109h6v6h-6zM1088 109h6v6h-6zM752 115h6v6h-6zM1082 115h6v6h-6zM1058 121h18v6h-18zM686 175h6v6h-6zM680 211h6v6h-6zM680 271h6v6h-6zM1118 301h6v6h-6zM698 307h6v6h-6zM1100 307h6v6h-6zM1052 343h6v6h-6zM728 361h6v6h-6zM1028 373h6v6h-6zM752 385h6v6h-6zM812 391h6v6h-6zM878 391h6v6h-6zM1004 397h6v6h-6zM920 403h6v6h-6zM992 403h6v6h-6zM950 409h24v6h-24z"/>
<path fill="#727272" d="M938 79h12v6h-12zM968 79h12v6h-12zM842 97h6v6h-6zM824 103h6v6h-6zM1100 103h6v6h-6zM1124 103h6v6h-6zM794 109h6v6h-6zM1130 109h6v6h-6zM1046 115h6v6h-6zM1136 115h6v6h-6zM734 121h6v6h-6zM722 127h6v6h-6zM680 217h6v6h-6zM680 223h6v6h-6zM692 295h6v6h-6zM1082 313h6v6h-6zM722 349h6v6h-6zM1046 349h6v6h-6zM1022 379h6v6h-6zM842 385h18v6h-18zM1016 385h6v6h-6zM770 391h6v6h-6zM806 391h6v6h-6zM1010 391h6v6h-6zM902 397h6v6h-6zM986 403h6v6h-6z"/>
<path fill="#737373" d="M950 79h18v6h-18zM896 85h6v6h-6zM998 85h6v6h-6zM866 91h6v6h-6zM1010 91h6v6h-6zM1022 97h6v6h-6zM1106 103h18v6h-18zM800 109h6v6h-6zM1094 109h6v6h-6zM758 115h6v6h-6zM1052 121h6v6h-6zM1076 121h6v6h-6zM698 151h6v6h-6zM692 163h6v6h-6zM686 181h6v6h-6zM680 229h6v6h-6zM680 259h6v6h-6zM680 265h6v6h-6zM686 283h6v6h-6zM1136 295h6v6h-6zM1094 307h6v6h-6zM710 325h6v6h-6zM716 337h6v6h-6zM1040 355h6v6h-6zM1034 361h6v6h-6zM734 367h6v6h-6zM740 373h6v6h-6zM746 379h6v6h-6zM830 385h12v6h-12zM860 385h6v6h-6zM884 391h6v6h-6zM998 397h6v6h-6zM926 403h6v6h-6z"/>
<path fill="#747474" d="M902 85h6v6h-6zM992 85h6v6h-6zM872 91h6v6h-6zM848 97h6v6h-6zM830 103h6v6h-6zM1028 103h6v6h-6zM806 109h6v6h-6zM1034 109h6v6h-6zM1124 109h6v6h-6zM764 115h6v6h-6zM1040 115h6v6h-6zM1088 115h6v6h-6zM1046 121h6v6h-6zM1082 121h6v6h-6zM1058 127h18v6h-18zM716 133h6v6h-6zM704 145h6v6h-6zM686 187h6v6h-6zM680 235h6v6h-6zM680 241h6v6h-6zM680 247h6v6h-6zM680 253h6v6h-6zM1136 259h6v6h-6zM1136 265h6v6h-6zM1112 301h6v6h-6zM704 313h6v6h-6zM1070 319h6v6h-6zM1064 325h6v6h-6zM1058 331h6v6h-6zM1028 367h6v6h-6zM758 385h6v6h-6zM824 385h6v6h-6zM866 385h6v6h-6zM776 391h6v6h-6zM794 391h12v6h-12zM890 391h6v6h-6zM1004 391h6v6h-6zM908 397h6v6h-6zM932 403h6v6h-6zM980 403h6v6h-6z"/>
<path fill="#757575" d="M908 85h6v6h-6zM812 109h6v6h-6zM1100 109h12v6h-12zM1118 109h6v6h-6zM770 115h6v6h-6zM1094 115h6v6h-6zM1130 115h6v6h-6zM740 121h6v6h-6zM1088 121h6v6h-6zM1136 121h6v6h-6zM1052 127h6v6h-6zM1076 127h6v6h-6zM1064 133h6v6h-6zM710 139h6v6h-6zM686 193h6v6h-6zM686 199h6v6h-6zM686 277h6v6h-6zM692 289h6v6h-6zM1130 295h6v6h-6zM698 301h6v6h-6zM1088 307h6v6h-6zM1076 313h6v6h-6zM1052 337h6v6h-6zM1046 343h6v6h-6zM728 355h6v6h-6zM1022 373h6v6h-6zM1016 379h6v6h-6zM1010 385h6v6h-6zM782 391h12v6h-12zM914 397h6v6h-6zM992 397h6v6h-6zM938 403h12v6h-12zM968 403h12v6h-12z"/>
<path fill="#767676" d="M914 85h12v6h-12zM986 85h6v6h-6zM878 91h6v6h-6zM1004 91h6v6h-6zM854 97h6v6h-6zM1016 97h6v6h-6zM836 103h6v6h-6zM1112 109h6v6h-6zM776 115h6v6h-6zM1100 115h6v6h-6zM1124 115h6v6h-6zM728 127h6v6h-6zM1082 127h6v6h-6zM1058 133h6v6h-6zM1070 133h12v6h-12zM692 169h6v6h-6zM686 205h6v6h-6zM1136 253h6v6h-6zM686 271h6v6h-6zM1106 301h6v6h-6zM710 319h6v6h-6zM716 331h6v6h-6zM722 343h6v6h-6zM1040 349h6v6h-6zM818 385h6v6h-6zM872 385h6v6h-6zM896 391h6v6h-6zM998 391h6v6h-6zM986 397h6v6h-6zM950 403h18v6h-18z"/>
<path fill="#777777" d="M926 85h6v6h-6zM980 85h6v6h-6zM884 91h6v6h-6zM1022 103h6v6h-6zM818 109h6v6h-6zM1028 109h6v6h-6zM782 115h6v6h-6zM1034 115h6v6h-6zM1106 115h18v6h-18zM746 121h6v6h-6zM1040 121h6v6h-6zM1094 121h6v6h-6zM1130 121h6v6h-6zM1046 127h6v6h-6zM1088 127h6v6h-6zM1052 133h6v6h-6zM1082 133h6v6h-6zM1064 139h6v6h-6zM698 157h6v6h-6zM692 175h6v6h-6zM686 211h6v6h-6zM686 217h6v6h-6zM1124 295h6v6h-6zM704 307h6v6h-6zM1034 355h6v6h-6zM734 361h6v6h-6zM1028 361h6v6h-6zM752 379h6v6h-6zM764 385h6v6h-6zM812 385h6v6h-6zM878 385h6v6h-6zM1004 385h6v6h-6zM920 397h6v6h-6z"/>
<path fill="#787878" d="M932 85h12v6h-12zM974 85h6v6h-6zM890 91h6v6h-6zM998 91h6v6h-6zM860 97h6v6h-6zM1010 97h6v6h-6zM842 103h6v6h-6zM788 115h6v6h-6zM1100 121h6v6h-6zM1124 121h6v6h-6zM1094 127h6v6h-6zM1136 127h6v6h-6zM722 133h6v6h-6zM1058 139h6v6h-6zM1070 139h12v6h-12zM686 223h6v6h-6zM686 229h6v6h-6zM686 259h6v6h-6zM1130 259h6v6h-6zM686 265h6v6h-6zM1130 265h6v6h-6zM1136 271h6v6h-6zM692 283h6v6h-6zM698 295h6v6h-6zM1100 301h6v6h-6zM1082 307h6v6h-6zM1064 319h6v6h-6zM1058 325h6v6h-6zM740 367h6v6h-6zM1022 367h6v6h-6zM746 373h6v6h-6zM1016 373h6v6h-6zM842 379h6v6h-6zM1010 379h6v6h-6zM902 391h6v6h-6zM992 391h6v6h-6zM926 397h6v6h-6zM980 397h6v6h-6z"/>
<path fill="#797979" d="M944 85h30v6h-30zM896 91h6v6h-6zM824 109h6v6h-6zM794 115h6v6h-6zM752 121h6v6h-6zM1106 121h18v6h-18zM734 127h6v6h-6zM1040 127h6v6h-6zM1100 127h6v6h-6zM1130 127h6v6h-6zM1046 133h6v6h-6zM1088 133h6v6h-6zM1052 139h6v6h-6zM1082 139h6v6h-6zM704 151h6v6h-6zM698 163h6v6h-6zM692 181h6v6h-6zM686 235h6v6h-6zM686 241h6v6h-6zM686 247h6v6h-6zM1136 247h6v6h-6zM686 253h6v6h-6zM1118 295h6v6h-6zM1070 313h6v6h-6zM716 325h6v6h-6zM1052 331h6v6h-6zM722 337h6v6h-6zM728 349h6v6h-6zM836 379h6v6h-6zM848 379h12v6h-12zM770 385h6v6h-6zM806 385h6v6h-6zM884 385h6v6h-6zM932 397h6v6h-6zM974 397h6v6h-6z"/>
<path fill="#7a7a7a" d="M902 91h6v6h-6zM992 91h6v6h-6zM866 97h6v6h-6zM1016 103h6v6h-6zM800 115h6v6h-6zM1034 121h6v6h-6zM1106 127h6v6h-6zM1124 127h6v6h-6zM1094 133h6v6h-6zM1136 133h6v6h-6zM716 139h6v6h-6zM710 145h6v6h-6zM1058 145h18v6h-18zM692 187h6v6h-6zM692 193h6v6h-6zM1130 253h6v6h-6zM692 277h6v6h-6zM698 289h6v6h-6zM704 301h6v6h-6zM1094 301h6v6h-6zM710 313h6v6h-6zM1046 337h6v6h-6zM1040 343h6v6h-6zM830 379h6v6h-6zM860 379h6v6h-6zM800 385h6v6h-6zM998 385h6v6h-6zM908 391h6v6h-6zM986 391h6v6h-6zM938 397h6v6h-6zM968 397h6v6h-6z"/>
<path fill="#7b7b7b" d="M908 91h6v6h-6zM872 97h6v6h-6zM1004 97h6v6h-6zM848 103h6v6h-6zM830 109h6v6h-6zM1022 109h6v6h-6zM806 115h6v6h-6zM1028 115h6v6h-6zM758 121h6v6h-6zM1112 127h12v6h-12zM1040 133h6v6h-6zM1100 133h6v6h-6zM1046 139h6v6h-6zM1088 139h6v6h-6zM1052 145h6v6h-6zM1076 145h6v6h-6zM692 199h6v6h-6zM692 205h6v6h-6zM1124 259h6v6h-6zM692 271h6v6h-6zM1136 289h6v6h-6zM1112 295h6v6h-6zM1076 307h6v6h-6zM1034 349h6v6h-6zM734 355h6v6h-6zM1028 355h6v6h-6zM1022 361h6v6h-6zM1016 367h6v6h-6zM1010 373h6v6h-6zM758 379h6v6h-6zM824 379h6v6h-6zM866 379h6v6h-6zM1004 379h6v6h-6zM776 385h6v6h-6zM794 385h6v6h-6zM890 385h6v6h-6zM914 391h6v6h-6zM944 397h24v6h-24z"/>
<path fill="#7c7c7c" d="M914 91h6v6h-6zM986 91h6v6h-6zM812 115h6v6h-6zM764 121h6v6h-6zM740 127h6v6h-6zM1034 127h6v6h-6zM1106 133h6v6h-6zM1130 133h6v6h-6zM1094 139h6v6h-6zM1082 145h6v6h-6zM698 169h6v6h-6zM692 211h6v6h-6zM692 217h6v6h-6zM692 265h6v6h-6zM1124 265h6v6h-6zM1130 271h6v6h-6zM1088 301h6v6h-6zM818 379h6v6h-6zM782 385h12v6h-12zM992 385h6v6h-6zM980 391h6v6h-6z"/>
<path fill="#7d7d7d" d="M920 91h6v6h-6zM980 91h6v6h-6zM878 97h6v6h-6zM854 103h6v6h-6zM1010 103h6v6h-6zM836 109h6v6h-6zM770 121h6v6h-6zM728 133h6v6h-6zM1112 133h18v6h-18zM1040 139h6v6h-6zM1100 139h6v6h-6zM1136 139h6v6h-6zM1046 145h6v6h-6zM1088 145h6v6h-6zM1058 151h18v6h-18zM704 157h6v6h-6zM698 175h6v6h-6zM692 223h6v6h-6zM692 229h6v6h-6zM1136 241h6v6h-6zM1130 247h6v6h-6zM1124 253h6v6h-6zM692 259h6v6h-6zM698 283h6v6h-6zM1130 289h6v6h-6zM704 295h6v6h-6zM1106 295h6v6h-6zM710 307h6v6h-6zM1064 313h6v6h-6zM716 319h6v6h-6zM1058 319h6v6h-6zM1052 325h6v6h-6zM722 331h6v6h-6zM728 343h6v6h-6zM740 361h6v6h-6zM752 373h6v6h-6zM872 379h6v6h-6zM896 385h6v6h-6zM920 391h6v6h-6zM974 391h6v6h-6z"/>
<path fill="#7e7e7e" d="M926 91h12v6h-12zM974 91h6v6h-6zM884 97h6v6h-6zM998 97h6v6h-6zM1016 109h6v6h-6zM818 115h6v6h-6zM1022 115h6v6h-6zM776 121h6v6h-6zM1028 121h6v6h-6zM1106 139h6v6h-6zM1130 139h6v6h-6zM1094 145h6v6h-6zM1052 151h6v6h-6zM1076 151h6v6h-6zM692 235h6v6h-6zM692 241h6v6h-6zM692 247h6v6h-6zM692 253h6v6h-6zM1136 277h6v6h-6zM1082 301h6v6h-6zM1070 307h6v6h-6zM1046 331h6v6h-6zM746 367h6v6h-6zM1004 373h6v6h-6zM764 379h6v6h-6zM812 379h6v6h-6zM878 379h6v6h-6zM998 379h6v6h-6zM902 385h6v6h-6zM986 385h6v6h-6zM926 391h6v6h-6z"/>
<path fill="#7f7f7f" d="M938 91h36v6h-36zM890 97h6v6h-6zM860 103h6v6h-6zM842 109h6v6h-6zM782 121h12v6h-12zM746 127h6v6h-6zM1034 133h6v6h-6zM722 139h6v6h-6zM1112 139h18v6h-18zM716 145h6v6h-6zM1040 145h6v6h-6zM1100 145h6v6h-6zM710 151h6v6h-6zM1046 151h6v6h-6zM1082 151h6v6h-6zM704 163h6v6h-6zM698 181h6v6h-6zM1118 259h6v6h-6zM698 277h6v6h-6zM704 289h6v6h-6zM1124 289h6v6h-6zM1100 295h6v6h-6zM1040 337h6v6h-6zM1034 343h6v6h-6zM1028 349h6v6h-6zM1022 355h6v6h-6zM1016 361h6v6h-6zM1010 367h6v6h-6zM836 373h18v6h-18zM806 379h6v6h-6zM932 391h6v6h-6zM962 391h12v6h-12z"/>
<path fill="#808080" d="M992 97h6v6h-6zM1004 103h6v6h-6zM824 115h6v6h-6zM794 121h6v6h-6zM1028 127h6v6h-6zM734 133h6v6h-6zM1136 145h6v6h-6zM1088 151h6v6h-6zM1058 157h12v6h-12zM698 187h6v6h-6zM698 193h6v6h-6zM1124 247h6v6h-6zM1118 253h6v6h-6zM1118 265h6v6h-6zM698 271h6v6h-6zM1124 271h6v6h-6zM1136 283h6v6h-6zM710 301h6v6h-6zM716 313h6v6h-6zM722 325h6v6h-6zM728 337h6v6h-6zM734 349h6v6h-6zM830 373h6v6h-6zM854 373h6v6h-6zM770 379h6v6h-6zM884 379h6v6h-6zM992 379h6v6h-6zM908 385h6v6h-6zM980 385h6v6h-6zM938 391h24v6h-24z"/>
<path fill="#818181" d="M896 97h12v6h-12zM866 103h6v6h-6zM800 121h6v6h-6zM752 127h6v6h-6zM1034 139h6v6h-6zM1106 145h12v6h-12zM1130 145h6v6h-6zM1094 151h6v6h-6zM1052 157h6v6h-6zM1070 157h12v6h-12zM698 199h6v6h-6zM698 205h6v6h-6zM698 211h6v6h-6zM1130 241h6v6h-6zM698 265h6v6h-6zM1118 289h6v6h-6zM1094 295h6v6h-6zM1076 301h6v6h-6zM1058 313h6v6h-6zM758 373h6v6h-6zM824 373h6v6h-6zM860 373h6v6h-6zM998 373h6v6h-6zM800 379h6v6h-6z"/>
<path fill="#828282" d="M908 97h6v6h-6zM986 97h6v6h-6zM872 103h6v6h-6zM848 109h6v6h-6zM1010 109h6v6h-6zM830 115h6v6h-6zM1016 115h6v6h-6zM806 121h6v6h-6zM1022 121h6v6h-6zM758 127h6v6h-6zM1118 145h12v6h-12zM1040 151h6v6h-6zM710 157h6v6h-6zM1046 157h6v6h-6zM704 169h6v6h-6zM698 217h6v6h-6zM698 223h6v6h-6zM698 229h6v6h-6zM1136 235h6v6h-6zM698 259h6v6h-6zM1112 259h6v6h-6zM1130 277h6v6h-6zM704 283h6v6h-6zM710 295h6v6h-6zM1064 307h6v6h-6zM1052 319h6v6h-6zM1046 325h6v6h-6zM740 355h6v6h-6zM1004 367h6v6h-6zM866 373h6v6h-6zM776 379h24v6h-24zM890 379h6v6h-6zM914 385h6v6h-6zM974 385h6v6h-6z"/>
<path fill="#838383" d="M914 97h6v6h-6zM980 97h6v6h-6zM998 103h6v6h-6zM812 121h6v6h-6zM740 133h6v6h-6zM1028 133h6v6h-6zM728 139h6v6h-6zM1034 145h6v6h-6zM1100 151h6v6h-6zM1082 157h6v6h-6zM704 175h6v6h-6zM698 235h6v6h-6zM698 241h6v6h-6zM698 247h6v6h-6zM698 253h6v6h-6zM1112 265h6v6h-6zM1130 283h6v6h-6zM1112 289h6v6h-6zM1088 295h6v6h-6zM1070 301h6v6h-6zM716 307h6v6h-6zM722 319h6v6h-6zM728 331h6v6h-6zM1040 331h6v6h-6zM1034 337h6v6h-6zM734 343h6v6h-6zM1016 355h6v6h-6zM746 361h6v6h-6zM1010 361h6v6h-6zM752 367h6v6h-6zM818 373h6v6h-6zM896 379h6v6h-6zM986 379h6v6h-6zM920 385h6v6h-6zM968 385h6v6h-6z"/>
<path fill="#848484" d="M920 97h12v6h-12zM974 97h6v6h-6zM878 103h6v6h-6zM854 109h6v6h-6zM836 115h6v6h-6zM764 127h6v6h-6zM722 145h6v6h-6zM716 151h6v6h-6zM1106 151h6v6h-6zM1136 151h6v6h-6zM1088 157h6v6h-6zM1058 163h12v6h-12zM1124 241h6v6h-6zM1118 247h6v6h-6zM1112 253h6v6h-6zM1118 271h6v6h-6zM704 277h6v6h-6zM1082 295h6v6h-6zM1028 343h6v6h-6zM1022 349h6v6h-6zM764 373h6v6h-6zM812 373h6v6h-6zM872 373h6v6h-6zM992 373h6v6h-6zM926 385h6v6h-6zM962 385h6v6h-6z"/>
<path fill="#858585" d="M932 97h12v6h-12zM968 97h6v6h-6zM884 103h6v6h-6zM1004 109h6v6h-6zM818 121h6v6h-6zM770 127h6v6h-6zM1022 127h6v6h-6zM1028 139h6v6h-6zM1034 151h6v6h-6zM1112 151h24v6h-24zM1040 157h6v6h-6zM1094 157h6v6h-6zM710 163h6v6h-6zM1052 163h6v6h-6zM1070 163h6v6h-6zM704 181h6v6h-6zM704 187h6v6h-6zM1106 259h6v6h-6zM704 271h6v6h-6zM710 289h6v6h-6zM1106 289h6v6h-6zM716 301h6v6h-6zM878 373h6v6h-6zM902 379h6v6h-6zM980 379h6v6h-6zM932 385h30v6h-30z"/>
<path fill="#868686" d="M944 97h24v6h-24zM992 103h6v6h-6zM860 109h6v6h-6zM842 115h6v6h-6zM1010 115h6v6h-6zM1016 121h6v6h-6zM776 127h12v6h-12zM746 133h6v6h-6zM1100 157h6v6h-6zM1046 163h6v6h-6zM1076 163h6v6h-6zM704 193h6v6h-6zM704 199h6v6h-6zM704 205h6v6h-6zM1130 235h6v6h-6zM1106 253h6v6h-6zM704 265h6v6h-6zM1124 277h6v6h-6zM1124 283h6v6h-6zM1100 289h6v6h-6zM1076 295h6v6h-6zM1064 301h6v6h-6zM1058 307h6v6h-6zM722 313h6v6h-6zM1052 313h6v6h-6zM740 349h6v6h-6zM836 367h18v6h-18zM998 367h6v6h-6zM806 373h6v6h-6z"/>
<path fill="#878787" d="M890 103h6v6h-6zM824 121h6v6h-6zM788 127h6v6h-6zM734 139h6v6h-6zM1028 145h6v6h-6zM1082 163h6v6h-6zM704 211h6v6h-6zM704 217h6v6h-6zM704 223h6v6h-6zM704 229h6v6h-6zM1118 241h6v6h-6zM1112 247h6v6h-6zM704 253h6v6h-6zM704 259h6v6h-6zM1106 265h6v6h-6zM710 283h6v6h-6zM1046 319h6v6h-6zM728 325h6v6h-6zM734 337h6v6h-6zM1004 361h6v6h-6zM758 367h6v6h-6zM830 367h6v6h-6zM854 367h6v6h-6zM770 373h6v6h-6zM800 373h6v6h-6zM884 373h6v6h-6zM986 373h6v6h-6zM908 379h6v6h-6zM974 379h6v6h-6z"/>
<path fill="#888888" d="M896 103h6v6h-6zM986 103h6v6h-6zM866 109h6v6h-6zM794 127h12v6h-12zM752 133h6v6h-6zM1022 133h6v6h-6zM716 157h6v6h-6zM1034 157h6v6h-6zM1106 157h12v6h-12zM1136 157h6v6h-6zM1040 163h6v6h-6zM710 169h6v6h-6zM1136 229h6v6h-6zM704 235h6v6h-6zM704 241h6v6h-6zM704 247h6v6h-6zM1100 259h6v6h-6zM1112 271h6v6h-6zM1118 283h6v6h-6zM1094 289h6v6h-6zM716 295h6v6h-6zM1070 295h6v6h-6zM1040 325h6v6h-6zM1034 331h6v6h-6zM1028 337h6v6h-6zM1022 343h6v6h-6zM1016 349h6v6h-6zM746 355h6v6h-6zM1010 355h6v6h-6zM752 361h6v6h-6zM824 367h6v6h-6zM860 367h6v6h-6zM776 373h6v6h-6zM914 379h6v6h-6zM968 379h6v6h-6z"/>
<path fill="#898989" d="M902 103h12v6h-12zM998 109h6v6h-6zM848 115h6v6h-6zM830 121h6v6h-6zM806 127h6v6h-6zM728 145h6v6h-6zM722 151h6v6h-6zM1118 157h18v6h-18zM1088 163h6v6h-6zM1052 169h18v6h-18zM710 175h6v6h-6zM1124 235h6v6h-6zM1106 247h6v6h-6zM1100 253h6v6h-6zM710 277h6v6h-6zM1118 277h6v6h-6zM1088 289h6v6h-6zM722 307h6v6h-6zM818 367h6v6h-6zM866 367h6v6h-6zM992 367h6v6h-6zM782 373h18v6h-18zM890 373h6v6h-6zM980 373h6v6h-6zM920 379h6v6h-6zM962 379h6v6h-6z"/>
<path fill="#8a8a8a" d="M914 103h6v6h-6zM980 103h6v6h-6zM872 109h6v6h-6zM1004 115h6v6h-6zM1016 127h6v6h-6zM758 133h6v6h-6zM740 139h6v6h-6zM1022 139h6v6h-6zM1028 151h6v6h-6zM1094 163h6v6h-6zM1046 169h6v6h-6zM1070 169h6v6h-6zM710 181h6v6h-6zM1112 241h6v6h-6zM1100 265h6v6h-6zM710 271h6v6h-6zM1112 283h6v6h-6zM716 289h6v6h-6zM1058 301h6v6h-6zM1052 307h6v6h-6zM728 319h6v6h-6zM734 331h6v6h-6zM740 343h6v6h-6zM998 361h6v6h-6zM764 367h6v6h-6zM896 373h6v6h-6zM926 379h12v6h-12zM956 379h6v6h-6z"/>
<path fill="#8b8b8b" d="M920 103h12v6h-12zM974 103h6v6h-6zM878 109h6v6h-6zM992 109h6v6h-6zM854 115h6v6h-6zM836 121h6v6h-6zM1010 121h6v6h-6zM812 127h6v6h-6zM764 133h6v6h-6zM716 163h6v6h-6zM1034 163h6v6h-6zM1100 163h6v6h-6zM1076 169h6v6h-6zM710 187h6v6h-6zM1130 229h6v6h-6zM1094 253h6v6h-6zM1094 259h6v6h-6zM710 265h6v6h-6zM1106 271h6v6h-6zM1082 289h6v6h-6zM1064 295h6v6h-6zM722 301h6v6h-6zM1046 313h6v6h-6zM1004 355h6v6h-6zM812 367h6v6h-6zM872 367h6v6h-6zM974 373h6v6h-6zM938 379h18v6h-18z"/>
<path fill="#8c8c8c" d="M932 103h18v6h-18zM962 103h12v6h-12zM818 127h6v6h-6zM770 133h6v6h-6zM1028 157h6v6h-6zM1106 163h6v6h-6zM1040 169h6v6h-6zM710 193h6v6h-6zM710 199h6v6h-6zM710 205h6v6h-6zM710 211h6v6h-6zM710 217h6v6h-6zM710 223h6v6h-6zM710 229h6v6h-6zM1118 235h6v6h-6zM1100 247h6v6h-6zM710 253h6v6h-6zM710 259h6v6h-6zM1112 277h6v6h-6zM716 283h6v6h-6zM1106 283h6v6h-6zM1076 289h6v6h-6zM728 313h6v6h-6zM1040 319h6v6h-6zM746 349h6v6h-6zM1010 349h6v6h-6zM758 361h6v6h-6zM836 361h12v6h-12zM806 367h6v6h-6zM986 367h6v6h-6zM902 373h6v6h-6z"/>
<path fill="#8d8d8d" d="M950 103h12v6h-12zM884 109h6v6h-6zM860 115h6v6h-6zM842 121h6v6h-6zM776 133h6v6h-6zM1016 133h6v6h-6zM746 139h6v6h-6zM734 145h6v6h-6zM1022 145h6v6h-6zM722 157h6v6h-6zM1112 163h6v6h-6zM1136 163h6v6h-6zM716 169h6v6h-6zM1082 169h6v6h-6zM1136 223h6v6h-6zM710 235h6v6h-6zM710 241h6v6h-6zM1106 241h6v6h-6zM710 247h6v6h-6zM1088 259h6v6h-6zM1094 265h6v6h-6zM1100 283h6v6h-6zM734 325h6v6h-6zM1034 325h6v6h-6zM1028 331h6v6h-6zM1022 337h6v6h-6zM1016 343h6v6h-6zM752 355h6v6h-6zM830 361h6v6h-6zM848 361h6v6h-6zM770 367h6v6h-6zM878 367h6v6h-6zM908 373h6v6h-6zM968 373h6v6h-6z"/>
<path fill="#8e8e8e" d="M890 109h6v6h-6zM986 109h6v6h-6zM998 115h6v6h-6zM824 127h6v6h-6zM782 133h6v6h-6zM728 151h6v6h-6zM1118 163h18v6h-18zM1034 169h6v6h-6zM1088 169h6v6h-6zM1124 229h6v6h-6zM1094 247h6v6h-6zM1088 253h6v6h-6zM1100 271h6v6h-6zM716 277h6v6h-6zM1106 277h6v6h-6zM1070 289h6v6h-6zM722 295h6v6h-6zM1058 295h6v6h-6zM1052 301h6v6h-6zM740 337h6v6h-6zM824 361h6v6h-6zM854 361h6v6h-6zM992 361h6v6h-6zM800 367h6v6h-6zM884 367h6v6h-6zM980 367h6v6h-6zM914 373h6v6h-6zM962 373h6v6h-6z"/>
<path fill="#8f8f8f" d="M896 109h6v6h-6zM866 115h6v6h-6zM1004 121h6v6h-6zM1010 127h6v6h-6zM788 133h12v6h-12zM752 139h6v6h-6zM1022 151h6v6h-6zM1028 163h6v6h-6zM1094 169h6v6h-6zM716 175h6v6h-6zM1046 175h24v6h-24zM1112 235h6v6h-6zM1100 241h6v6h-6zM1082 253h6v6h-6zM1082 259h6v6h-6zM1088 265h6v6h-6zM716 271h6v6h-6zM1094 283h6v6h-6zM728 307h6v6h-6zM1046 307h6v6h-6zM998 355h6v6h-6zM818 361h6v6h-6zM860 361h6v6h-6zM776 367h12v6h-12zM794 367h6v6h-6zM920 373h6v6h-6zM956 373h6v6h-6z"/>
<path fill="#909090" d="M902 109h12v6h-12zM980 109h6v6h-6zM848 121h6v6h-6zM830 127h6v6h-6zM800 133h6v6h-6zM1016 139h6v6h-6zM740 145h6v6h-6zM722 163h6v6h-6zM1040 175h6v6h-6zM1070 175h6v6h-6zM716 181h6v6h-6zM1088 247h6v6h-6zM716 265h6v6h-6zM1088 283h6v6h-6zM722 289h6v6h-6zM1064 289h6v6h-6zM1040 313h6v6h-6zM734 319h6v6h-6zM746 343h6v6h-6zM764 361h6v6h-6zM866 361h6v6h-6zM788 367h6v6h-6zM890 367h6v6h-6zM974 367h6v6h-6zM926 373h12v6h-12zM944 373h12v6h-12z"/>
<path fill="#919191" d="M914 109h12v6h-12zM974 109h6v6h-6zM872 115h6v6h-6zM992 115h6v6h-6zM806 133h6v6h-6zM758 139h6v6h-6zM1022 157h6v6h-6zM1100 169h6v6h-6zM716 187h6v6h-6zM716 193h6v6h-6zM716 199h6v6h-6zM716 205h6v6h-6zM716 211h6v6h-6zM716 217h6v6h-6zM716 223h6v6h-6zM1130 223h6v6h-6zM1118 229h6v6h-6zM1106 235h6v6h-6zM716 253h6v6h-6zM1076 253h6v6h-6zM716 259h6v6h-6zM1076 259h6v6h-6zM1082 265h6v6h-6zM1094 271h6v6h-6zM1100 277h6v6h-6zM1082 283h6v6h-6zM1052 295h6v6h-6zM740 331h6v6h-6zM752 349h6v6h-6zM1004 349h6v6h-6zM812 361h6v6h-6zM986 361h6v6h-6zM896 367h6v6h-6zM938 373h6v6h-6z"/>
<path fill="#929292" d="M926 109h12v6h-12zM968 109h6v6h-6zM854 121h6v6h-6zM836 127h6v6h-6zM812 133h6v6h-6zM1010 133h6v6h-6zM734 151h6v6h-6zM728 157h6v6h-6zM1028 169h6v6h-6zM1106 169h12v6h-12zM1076 175h6v6h-6zM716 229h6v6h-6zM716 235h6v6h-6zM716 241h6v6h-6zM1094 241h6v6h-6zM716 247h6v6h-6zM1082 247h6v6h-6zM722 283h6v6h-6zM1076 283h6v6h-6zM1058 289h6v6h-6zM728 301h6v6h-6zM1046 301h6v6h-6zM1034 319h6v6h-6zM1028 325h6v6h-6zM1016 337h6v6h-6zM1010 343h6v6h-6zM758 355h6v6h-6zM872 361h6v6h-6zM968 367h6v6h-6z"/>
<path fill="#939393" d="M938 109h30v6h-30zM878 115h6v6h-6zM998 121h6v6h-6zM1004 127h6v6h-6zM818 133h6v6h-6zM764 139h6v6h-6zM746 145h6v6h-6zM1016 145h6v6h-6zM722 169h6v6h-6zM1118 169h24v6h-24zM1034 175h6v6h-6zM1082 175h6v6h-6zM1088 241h6v6h-6zM1076 247h6v6h-6zM1070 253h6v6h-6zM1070 259h6v6h-6zM1088 271h6v6h-6zM722 277h6v6h-6zM1094 277h6v6h-6zM1070 283h6v6h-6zM734 313h6v6h-6zM1022 331h6v6h-6zM830 355h24v6h-24zM992 355h6v6h-6zM770 361h6v6h-6zM806 361h6v6h-6zM980 361h6v6h-6zM902 367h6v6h-6z"/>
<path fill="#949494" d="M884 115h6v6h-6zM986 115h6v6h-6zM860 121h6v6h-6zM842 127h6v6h-6zM770 139h6v6h-6zM1022 163h6v6h-6zM722 175h6v6h-6zM1088 175h6v6h-6zM1136 217h6v6h-6zM1124 223h6v6h-6zM1112 229h6v6h-6zM1100 235h6v6h-6zM1070 247h6v6h-6zM1064 253h6v6h-6zM1064 259h6v6h-6zM1076 265h6v6h-6zM722 271h6v6h-6zM1088 277h6v6h-6zM1064 283h6v6h-6zM728 295h6v6h-6zM1040 307h6v6h-6zM740 325h6v6h-6zM746 337h6v6h-6zM824 355h6v6h-6zM854 355h6v6h-6zM800 361h6v6h-6zM878 361h6v6h-6zM908 367h6v6h-6zM962 367h6v6h-6z"/>
<path fill="#959595" d="M890 115h6v6h-6zM824 133h6v6h-6zM776 139h6v6h-6zM1016 151h6v6h-6zM728 163h6v6h-6zM1046 181h18v6h-18zM1082 241h6v6h-6zM1064 247h6v6h-6zM722 265h6v6h-6zM1082 271h6v6h-6zM1052 289h6v6h-6zM1046 295h6v6h-6zM734 307h6v6h-6zM998 349h6v6h-6zM764 355h6v6h-6zM776 361h6v6h-6zM794 361h6v6h-6zM914 367h6v6h-6zM956 367h6v6h-6z"/>
<path fill="#969696" d="M896 115h12v6h-12zM980 115h6v6h-6zM866 121h6v6h-6zM782 139h12v6h-12zM1010 139h6v6h-6zM752 145h6v6h-6zM740 151h6v6h-6zM734 157h6v6h-6zM1028 175h6v6h-6zM1094 175h6v6h-6zM722 181h6v6h-6zM1040 181h6v6h-6zM1064 181h6v6h-6zM722 187h6v6h-6zM1094 235h6v6h-6zM1076 241h6v6h-6zM722 253h6v6h-6zM1058 253h6v6h-6zM722 259h6v6h-6zM1058 259h6v6h-6zM1070 265h6v6h-6zM1082 277h6v6h-6zM1058 283h6v6h-6zM728 289h6v6h-6zM1034 313h6v6h-6zM752 343h6v6h-6zM1004 343h6v6h-6zM758 349h6v6h-6zM818 355h6v6h-6zM860 355h6v6h-6zM986 355h6v6h-6zM782 361h12v6h-12zM884 361h6v6h-6zM974 361h6v6h-6zM920 367h36v6h-36z"/>
<path fill="#979797" d="M908 115h6v6h-6zM992 121h6v6h-6zM848 127h6v6h-6zM830 133h6v6h-6zM794 139h6v6h-6zM1022 169h6v6h-6zM1100 175h6v6h-6zM1034 181h6v6h-6zM1070 181h6v6h-6zM722 193h6v6h-6zM722 199h6v6h-6zM722 205h6v6h-6zM722 211h6v6h-6zM722 217h6v6h-6zM1130 217h6v6h-6zM722 223h6v6h-6zM1118 223h6v6h-6zM722 229h6v6h-6zM1106 229h6v6h-6zM722 235h6v6h-6zM1088 235h6v6h-6zM722 241h6v6h-6zM1070 241h6v6h-6zM722 247h6v6h-6zM1058 247h6v6h-6zM1052 253h6v6h-6zM1076 271h6v6h-6zM1076 277h6v6h-6zM728 283h6v6h-6zM1040 301h6v6h-6zM740 319h6v6h-6zM1028 319h6v6h-6zM746 331h6v6h-6zM1010 337h6v6h-6zM812 355h6v6h-6zM890 361h6v6h-6zM968 361h6v6h-6z"/>
<path fill="#989898" d="M914 115h18v6h-18zM974 115h6v6h-6zM872 121h6v6h-6zM998 127h6v6h-6zM1004 133h6v6h-6zM800 139h12v6h-12zM758 145h6v6h-6zM1016 157h6v6h-6zM728 169h6v6h-6zM1106 175h6v6h-6zM1064 241h6v6h-6zM1052 247h6v6h-6zM1052 259h6v6h-6zM1064 265h6v6h-6zM1070 277h6v6h-6zM1052 283h6v6h-6zM1046 289h6v6h-6zM734 301h6v6h-6zM1022 325h6v6h-6zM1016 331h6v6h-6zM992 349h6v6h-6zM770 355h6v6h-6zM866 355h6v6h-6z"/>
<path fill="#999999" d="M932 115h18v6h-18zM962 115h12v6h-12zM854 127h6v6h-6zM836 133h6v6h-6zM812 139h6v6h-6zM1010 145h6v6h-6zM746 151h6v6h-6zM1112 175h30v6h-30zM1076 181h6v6h-6zM1100 229h6v6h-6zM1082 235h6v6h-6zM1058 241h6v6h-6zM1046 253h6v6h-6zM1058 265h6v6h-6zM1070 271h6v6h-6zM728 277h6v6h-6zM1064 277h6v6h-6zM740 313h6v6h-6zM752 337h6v6h-6zM836 349h12v6h-12zM806 355h6v6h-6zM872 355h6v6h-6zM980 355h6v6h-6zM896 361h6v6h-6zM962 361h6v6h-6z"/>
<path fill="#9a9a9a" d="M950 115h12v6h-12zM878 121h6v6h-6zM986 121h6v6h-6zM818 139h6v6h-6zM764 145h6v6h-6zM740 157h6v6h-6zM734 163h6v6h-6zM1016 163h6v6h-6zM728 175h6v6h-6zM1022 175h6v6h-6zM1028 181h6v6h-6zM1082 181h6v6h-6zM1124 217h6v6h-6zM1112 223h6v6h-6zM1076 235h6v6h-6zM1052 241h6v6h-6zM1046 247h6v6h-6zM728 271h6v6h-6zM1064 271h6v6h-6zM1058 277h6v6h-6zM734 295h6v6h-6zM1040 295h6v6h-6zM1034 307h6v6h-6zM746 325h6v6h-6zM998 343h6v6h-6zM764 349h6v6h-6zM824 349h12v6h-12zM848 349h6v6h-6zM776 355h6v6h-6zM800 355h6v6h-6zM902 361h6v6h-6zM956 361h6v6h-6z"/>
<path fill="#9b9b9b" d="M884 121h6v6h-6zM860 127h6v6h-6zM842 133h6v6h-6zM770 145h6v6h-6zM728 181h6v6h-6zM1046 187h12v6h-12zM1136 211h6v6h-6zM1094 229h6v6h-6zM1070 235h6v6h-6zM728 253h6v6h-6zM728 259h6v6h-6zM1046 259h6v6h-6zM728 265h6v6h-6zM1052 265h6v6h-6zM1052 277h6v6h-6zM1046 283h6v6h-6zM734 289h6v6h-6zM758 343h6v6h-6zM854 349h6v6h-6zM986 349h6v6h-6zM782 355h6v6h-6zM794 355h6v6h-6zM878 355h6v6h-6zM974 355h6v6h-6zM908 361h12v6h-12zM950 361h6v6h-6z"/>
<path fill="#9c9c9c" d="M890 121h6v6h-6zM980 121h6v6h-6zM992 127h6v6h-6zM824 139h6v6h-6zM1004 139h6v6h-6zM776 145h6v6h-6zM752 151h6v6h-6zM1010 151h6v6h-6zM1016 169h6v6h-6zM1088 181h6v6h-6zM728 187h6v6h-6zM1040 187h6v6h-6zM1058 187h6v6h-6zM728 193h6v6h-6zM728 199h6v6h-6zM728 205h6v6h-6zM728 211h6v6h-6zM728 217h6v6h-6zM728 223h6v6h-6zM1106 223h6v6h-6zM728 229h6v6h-6zM1088 229h6v6h-6zM728 235h6v6h-6zM1064 235h6v6h-6zM728 241h6v6h-6zM1046 241h6v6h-6zM728 247h6v6h-6zM1040 247h6v6h-6zM1040 253h6v6h-6zM1058 271h6v6h-6zM1040 289h6v6h-6zM740 307h6v6h-6zM1028 313h6v6h-6zM1004 337h6v6h-6zM818 349h6v6h-6zM788 355h6v6h-6zM920 361h30v6h-30z"/>
<path fill="#9d9d9d" d="M896 121h12v6h-12zM866 127h6v6h-6zM998 133h6v6h-6zM830 139h6v6h-6zM782 145h6v6h-6zM734 169h6v6h-6zM1094 181h6v6h-6zM1034 187h6v6h-6zM1064 187h6v6h-6zM1118 217h6v6h-6zM1082 229h6v6h-6zM1058 235h6v6h-6zM1040 259h6v6h-6zM1052 271h6v6h-6zM1046 277h6v6h-6zM734 283h6v6h-6zM1034 301h6v6h-6zM746 319h6v6h-6zM1022 319h6v6h-6zM1016 325h6v6h-6zM752 331h6v6h-6zM1010 331h6v6h-6zM770 349h6v6h-6zM812 349h6v6h-6zM860 349h6v6h-6zM884 355h6v6h-6zM968 355h6v6h-6z"/>
<path fill="#9e9e9e" d="M908 121h18v6h-18zM974 121h6v6h-6zM848 133h6v6h-6zM788 145h12v6h-12zM758 151h6v6h-6zM746 157h6v6h-6zM740 163h6v6h-6zM1022 181h6v6h-6zM1100 181h6v6h-6zM1130 211h6v6h-6zM1100 223h6v6h-6zM1076 229h6v6h-6zM1052 235h6v6h-6zM1040 241h6v6h-6zM1046 265h6v6h-6zM734 277h6v6h-6zM1040 283h6v6h-6zM740 301h6v6h-6zM992 343h6v6h-6zM980 349h6v6h-6z"/>
<path fill="#9f9f9f" d="M926 121h12v6h-12zM968 121h6v6h-6zM872 127h6v6h-6zM986 127h6v6h-6zM836 139h6v6h-6zM800 145h12v6h-12zM1004 145h6v6h-6zM1010 157h6v6h-6zM734 175h6v6h-6zM1016 175h6v6h-6zM1106 181h6v6h-6zM1028 187h6v6h-6zM1070 187h6v6h-6zM1070 229h6v6h-6zM1046 235h6v6h-6zM1034 247h6v6h-6zM1034 253h6v6h-6zM734 271h6v6h-6zM1046 271h6v6h-6zM1034 295h6v6h-6zM758 337h6v6h-6zM764 343h6v6h-6zM836 343h6v6h-6zM806 349h6v6h-6zM866 349h6v6h-6zM890 355h6v6h-6zM962 355h6v6h-6z"/>
<path fill="#a0a0a0" d="M938 121h30v6h-30zM854 133h6v6h-6zM812 145h6v6h-6zM764 151h6v6h-6zM734 181h6v6h-6zM1112 181h30v6h-30zM1076 187h6v6h-6zM1112 217h6v6h-6zM1094 223h6v6h-6zM1064 229h6v6h-6zM1034 241h6v6h-6zM734 259h6v6h-6zM1034 259h6v6h-6zM734 265h6v6h-6zM1040 265h6v6h-6zM1040 277h6v6h-6zM740 295h6v6h-6zM1028 307h6v6h-6zM746 313h6v6h-6zM752 325h6v6h-6zM998 337h6v6h-6zM824 343h12v6h-12zM842 343h12v6h-12zM776 349h6v6h-6zM800 349h6v6h-6zM896 355h6v6h-6zM956 355h6v6h-6z"/>
<path fill="#a1a1a1" d="M878 127h6v6h-6zM992 133h6v6h-6zM998 139h6v6h-6zM818 145h6v6h-6zM770 151h6v6h-6zM752 157h6v6h-6zM1010 163h6v6h-6zM740 169h6v6h-6zM734 187h6v6h-6zM734 193h6v6h-6zM734 199h6v6h-6zM734 205h6v6h-6zM734 211h6v6h-6zM734 217h6v6h-6zM734 223h6v6h-6zM734 229h6v6h-6zM1058 229h6v6h-6zM734 235h6v6h-6zM1040 235h6v6h-6zM734 241h6v6h-6zM734 247h6v6h-6zM734 253h6v6h-6zM1040 271h6v6h-6zM740 289h6v6h-6zM1034 289h6v6h-6zM818 343h6v6h-6zM782 349h18v6h-18zM872 349h6v6h-6zM974 349h6v6h-6zM902 355h6v6h-6zM944 355h12v6h-12z"/>
<path fill="#a2a2a2" d="M884 127h6v6h-6zM980 127h6v6h-6zM860 133h6v6h-6zM842 139h6v6h-6zM824 145h6v6h-6zM746 163h6v6h-6zM1016 181h6v6h-6zM1022 187h6v6h-6zM1082 187h6v6h-6zM1124 211h6v6h-6zM1088 223h6v6h-6zM1052 229h6v6h-6zM1028 247h6v6h-6zM1028 253h6v6h-6zM1034 283h6v6h-6zM746 307h6v6h-6zM1022 313h6v6h-6zM758 331h6v6h-6zM1004 331h6v6h-6zM770 343h6v6h-6zM854 343h6v6h-6zM986 343h6v6h-6zM908 355h36v6h-36z"/>
<path fill="#a3a3a3" d="M890 127h12v6h-12zM776 151h6v6h-6zM1004 151h6v6h-6zM758 157h6v6h-6zM1010 169h6v6h-6zM740 175h6v6h-6zM1040 193h18v6h-18zM1136 205h6v6h-6zM1106 217h6v6h-6zM1082 223h6v6h-6zM1046 229h6v6h-6zM1034 235h6v6h-6zM1028 241h6v6h-6zM1034 265h6v6h-6zM1034 277h6v6h-6zM740 283h6v6h-6zM1028 301h6v6h-6zM752 319h6v6h-6zM1016 319h6v6h-6zM1010 325h6v6h-6zM764 337h6v6h-6zM812 343h6v6h-6zM878 349h6v6h-6zM968 349h6v6h-6z"/>
<path fill="#a4a4a4" d="M902 127h12v6h-12zM974 127h6v6h-6zM866 133h6v6h-6zM848 139h6v6h-6zM830 145h6v6h-6zM782 151h12v6h-12zM1088 187h6v6h-6zM1034 193h6v6h-6zM1058 193h6v6h-6zM1118 211h6v6h-6zM1070 223h12v6h-12zM1028 259h6v6h-6zM1034 271h6v6h-6zM740 277h6v6h-6zM746 301h6v6h-6zM992 337h6v6h-6zM776 343h6v6h-6zM806 343h6v6h-6zM860 343h6v6h-6zM980 343h6v6h-6zM884 349h6v6h-6zM962 349h6v6h-6z"/>
<path fill="#a5a5a5" d="M914 127h18v6h-18zM968 127h6v6h-6zM986 133h6v6h-6zM998 145h6v6h-6zM794 151h6v6h-6zM764 157h6v6h-6zM752 163h6v6h-6zM746 169h6v6h-6zM740 181h6v6h-6zM1094 187h6v6h-6zM1064 193h6v6h-6zM1100 217h6v6h-6zM1064 223h6v6h-6zM1040 229h6v6h-6zM740 265h6v6h-6zM740 271h6v6h-6zM1028 295h6v6h-6zM1022 307h6v6h-6zM752 313h6v6h-6zM758 325h6v6h-6zM830 337h12v6h-12zM800 343h6v6h-6z"/>
<path fill="#a6a6a6" d="M932 127h36v6h-36zM872 133h6v6h-6zM992 139h6v6h-6zM836 145h6v6h-6zM800 151h12v6h-12zM1004 157h6v6h-6zM1010 175h6v6h-6zM740 187h6v6h-6zM1016 187h6v6h-6zM1100 187h6v6h-6zM740 193h6v6h-6zM1028 193h6v6h-6zM1130 205h6v6h-6zM740 217h6v6h-6zM1094 217h6v6h-6zM740 223h6v6h-6zM1058 223h6v6h-6zM740 229h6v6h-6zM740 235h6v6h-6zM1028 235h6v6h-6zM740 241h6v6h-6zM740 247h6v6h-6zM1022 247h6v6h-6zM740 253h6v6h-6zM740 259h6v6h-6zM1028 289h6v6h-6zM746 295h6v6h-6zM764 331h6v6h-6zM770 337h6v6h-6zM824 337h6v6h-6zM842 337h6v6h-6zM782 343h18v6h-18zM866 343h6v6h-6zM890 349h6v6h-6zM950 349h12v6h-12z"/>
<path fill="#a7a7a7" d="M854 139h6v6h-6zM812 151h6v6h-6zM770 157h6v6h-6zM746 175h6v6h-6zM1106 187h6v6h-6zM1070 193h6v6h-6zM740 199h6v6h-6zM740 205h6v6h-6zM740 211h6v6h-6zM1112 211h6v6h-6zM1052 223h6v6h-6zM1034 229h6v6h-6zM1022 241h6v6h-6zM1022 253h6v6h-6zM1028 265h6v6h-6zM1028 277h6v6h-6zM1028 283h6v6h-6zM746 289h6v6h-6zM1016 313h6v6h-6zM998 331h6v6h-6zM818 337h6v6h-6zM848 337h6v6h-6zM974 343h6v6h-6zM896 349h6v6h-6zM944 349h6v6h-6z"/>
<path fill="#a8a8a8" d="M878 133h6v6h-6zM980 133h6v6h-6zM842 145h6v6h-6zM818 151h6v6h-6zM758 163h6v6h-6zM752 169h6v6h-6zM1010 181h6v6h-6zM1112 187h24v6h-24zM1022 193h6v6h-6zM1088 217h6v6h-6zM1046 223h6v6h-6zM1028 271h6v6h-6zM746 283h6v6h-6zM752 307h6v6h-6zM758 319h6v6h-6zM1010 319h6v6h-6zM1004 325h6v6h-6zM812 337h6v6h-6zM854 337h6v6h-6zM986 337h6v6h-6zM872 343h6v6h-6zM902 349h12v6h-12zM932 349h12v6h-12z"/>
<path fill="#a9a9a9" d="M884 133h6v6h-6zM860 139h6v6h-6zM824 151h6v6h-6zM998 151h6v6h-6zM776 157h6v6h-6zM1004 163h6v6h-6zM746 181h6v6h-6zM1076 193h6v6h-6zM1124 205h6v6h-6zM1082 217h6v6h-6zM1022 259h6v6h-6zM746 277h6v6h-6zM1022 301h6v6h-6zM776 337h6v6h-6zM806 337h6v6h-6zM968 343h6v6h-6zM914 349h18v6h-18z"/>
<path fill="#aaaaaa" d="M890 133h18v6h-18zM974 133h6v6h-6zM986 139h6v6h-6zM848 145h6v6h-6zM830 151h6v6h-6zM782 157h6v6h-6zM764 163h6v6h-6zM746 187h6v6h-6zM1106 211h6v6h-6zM1070 217h12v6h-12zM1040 223h6v6h-6zM1028 229h6v6h-6zM1022 235h6v6h-6zM746 271h6v6h-6zM752 301h6v6h-6zM764 325h6v6h-6zM770 331h6v6h-6zM782 337h6v6h-6zM800 337h6v6h-6zM860 337h6v6h-6zM878 343h6v6h-6zM962 343h6v6h-6z"/>
<path fill="#ababab" d="M908 133h24v6h-24zM866 139h6v6h-6zM992 145h6v6h-6zM788 157h6v6h-6zM1004 169h6v6h-6zM752 175h6v6h-6zM1010 187h6v6h-6zM746 193h6v6h-6zM1016 193h6v6h-6zM1082 193h6v6h-6zM1034 199h18v6h-18zM1100 211h6v6h-6zM1064 217h6v6h-6zM746 229h6v6h-6zM746 235h6v6h-6zM746 241h6v6h-6zM746 247h6v6h-6zM1016 247h6v6h-6zM746 253h6v6h-6zM746 259h6v6h-6zM746 265h6v6h-6zM1022 265h6v6h-6zM752 295h6v6h-6zM1022 295h6v6h-6zM758 313h6v6h-6zM824 331h24v6h-24zM992 331h6v6h-6zM788 337h12v6h-12zM980 337h6v6h-6zM956 343h6v6h-6z"/>
<path fill="#acacac" d="M932 133h18v6h-18zM962 133h12v6h-12zM836 151h6v6h-6zM794 157h12v6h-12zM758 169h6v6h-6zM1088 193h6v6h-6zM746 199h6v6h-6zM746 205h6v6h-6zM746 211h6v6h-6zM746 217h6v6h-6zM1058 217h6v6h-6zM746 223h6v6h-6zM1034 223h6v6h-6zM1016 241h6v6h-6zM1016 253h6v6h-6zM1022 271h6v6h-6zM1022 277h6v6h-6zM1022 283h6v6h-6zM1022 289h6v6h-6zM1016 307h6v6h-6zM818 331h6v6h-6zM848 331h6v6h-6zM866 337h6v6h-6zM884 343h6v6h-6zM950 343h6v6h-6z"/>
<path fill="#adadad" d="M950 133h12v6h-12zM872 139h6v6h-6zM854 145h6v6h-6zM842 151h6v6h-6zM806 157h12v6h-12zM998 157h6v6h-6zM770 163h6v6h-6zM1004 175h6v6h-6zM752 181h6v6h-6zM1136 187h6v6h-6zM1028 199h6v6h-6zM1094 211h6v6h-6zM1052 217h6v6h-6zM752 289h6v6h-6zM758 307h6v6h-6zM1010 313h6v6h-6zM764 319h6v6h-6zM770 325h6v6h-6zM998 325h6v6h-6zM776 331h6v6h-6zM812 331h6v6h-6zM974 337h6v6h-6zM890 343h6v6h-6zM944 343h6v6h-6z"/>
<path fill="#aeaeae" d="M980 139h6v6h-6zM818 157h6v6h-6zM776 163h6v6h-6zM1052 199h6v6h-6zM1118 205h6v6h-6zM1088 211h6v6h-6zM1046 217h6v6h-6zM1022 229h6v6h-6zM1016 235h6v6h-6zM1016 259h6v6h-6zM752 283h6v6h-6zM1004 319h6v6h-6zM782 331h6v6h-6zM806 331h6v6h-6zM854 331h6v6h-6zM896 343h6v6h-6zM932 343h12v6h-12z"/>
<path fill="#afafaf" d="M878 139h6v6h-6zM860 145h6v6h-6zM824 157h6v6h-6zM764 169h6v6h-6zM758 175h6v6h-6zM1004 181h6v6h-6zM752 187h6v6h-6zM1010 193h6v6h-6zM1022 199h6v6h-6zM1082 211h6v6h-6zM752 277h6v6h-6zM758 301h6v6h-6zM1016 301h6v6h-6zM764 313h6v6h-6zM788 331h18v6h-18zM986 331h6v6h-6zM872 337h6v6h-6zM968 337h6v6h-6zM902 343h30v6h-30z"/>
<path fill="#b0b0b0" d="M884 139h12v6h-12zM974 139h6v6h-6zM986 145h6v6h-6zM848 151h6v6h-6zM992 151h6v6h-6zM830 157h6v6h-6zM782 163h6v6h-6zM752 193h6v6h-6zM1094 193h6v6h-6zM1028 223h6v6h-6zM1010 247h6v6h-6zM752 265h6v6h-6zM1016 265h6v6h-6zM752 271h6v6h-6zM776 325h6v6h-6zM824 325h24v6h-24zM860 331h6v6h-6z"/>
<path fill="#b1b1b1" d="M896 139h30v6h-30zM836 157h6v6h-6zM788 163h6v6h-6zM998 163h6v6h-6zM770 169h6v6h-6zM758 181h6v6h-6zM1004 187h6v6h-6zM752 199h6v6h-6zM1016 199h6v6h-6zM752 205h6v6h-6zM752 211h6v6h-6zM752 217h6v6h-6zM752 223h6v6h-6zM752 229h6v6h-6zM752 235h6v6h-6zM752 241h6v6h-6zM1010 241h6v6h-6zM752 247h6v6h-6zM752 253h6v6h-6zM752 259h6v6h-6zM1016 271h6v6h-6zM758 295h6v6h-6zM1016 295h6v6h-6zM770 319h6v6h-6zM818 325h6v6h-6zM878 337h6v6h-6zM962 337h6v6h-6z"/>
<path fill="#b2b2b2" d="M926 139h18v6h-18zM968 139h6v6h-6zM866 145h6v6h-6zM794 163h6v6h-6zM764 175h6v6h-6zM1016 229h6v6h-6zM1010 253h6v6h-6zM1016 277h6v6h-6zM1016 283h6v6h-6zM1016 289h6v6h-6zM764 307h6v6h-6zM1010 307h6v6h-6zM782 325h6v6h-6zM812 325h6v6h-6zM848 325h6v6h-6zM992 325h6v6h-6zM980 331h6v6h-6zM950 337h12v6h-12z"/>
<path fill="#b3b3b3" d="M944 139h24v6h-24zM854 151h6v6h-6zM842 157h6v6h-6zM800 163h18v6h-18zM776 169h6v6h-6zM758 187h6v6h-6zM1022 223h6v6h-6zM1010 235h6v6h-6zM758 289h6v6h-6zM770 313h6v6h-6zM1004 313h6v6h-6zM776 319h6v6h-6zM788 325h6v6h-6zM800 325h12v6h-12zM854 325h6v6h-6zM866 331h6v6h-6zM884 337h6v6h-6zM944 337h6v6h-6z"/>
<path fill="#b4b4b4" d="M872 145h6v6h-6zM980 145h6v6h-6zM992 157h6v6h-6zM818 163h12v6h-12zM998 169h6v6h-6zM1004 193h6v6h-6zM1058 199h6v6h-6zM1010 259h6v6h-6zM758 283h6v6h-6zM764 301h6v6h-6zM998 319h6v6h-6zM794 325h6v6h-6zM974 331h6v6h-6zM932 337h12v6h-12z"/>
<path fill="#b5b5b5" d="M878 145h6v6h-6zM860 151h6v6h-6zM986 151h6v6h-6zM848 157h6v6h-6zM830 163h6v6h-6zM782 169h6v6h-6zM770 175h6v6h-6zM764 181h6v6h-6zM758 193h6v6h-6zM1010 199h6v6h-6zM1064 199h6v6h-6zM1010 265h6v6h-6zM758 277h6v6h-6zM1010 301h6v6h-6zM824 319h24v6h-24zM872 331h6v6h-6zM890 337h6v6h-6zM926 337h6v6h-6z"/>
<path fill="#b6b6b6" d="M884 145h6v6h-6zM974 145h6v6h-6zM836 163h6v6h-6zM998 175h6v6h-6zM1100 193h6v6h-6zM758 199h6v6h-6zM758 205h6v6h-6zM1112 205h6v6h-6zM758 223h6v6h-6zM758 229h6v6h-6zM1010 229h6v6h-6zM758 235h6v6h-6zM758 241h6v6h-6zM758 247h6v6h-6zM758 253h6v6h-6zM758 259h6v6h-6zM758 265h6v6h-6zM758 271h6v6h-6zM764 295h6v6h-6zM770 307h6v6h-6zM782 319h6v6h-6zM818 319h6v6h-6zM848 319h6v6h-6zM860 325h6v6h-6zM986 325h6v6h-6zM968 331h6v6h-6zM896 337h30v6h-30z"/>
<path fill="#b7b7b7" d="M890 145h36v6h-36zM842 163h6v6h-6zM788 169h6v6h-6zM998 181h6v6h-6zM1106 193h6v6h-6zM758 211h6v6h-6zM758 217h6v6h-6zM1016 223h6v6h-6zM1004 241h6v6h-6zM1004 247h6v6h-6zM1010 271h6v6h-6zM1010 295h6v6h-6zM776 313h6v6h-6zM788 319h6v6h-6zM806 319h12v6h-12zM962 331h6v6h-6z"/>
<path fill="#b8b8b8" d="M926 145h12v6h-12zM968 145h6v6h-6zM866 151h6v6h-6zM854 157h6v6h-6zM794 169h12v6h-12zM776 175h6v6h-6zM764 187h6v6h-6zM1070 211h12v6h-12zM1040 217h6v6h-6zM1004 235h6v6h-6zM1004 253h6v6h-6zM1010 277h6v6h-6zM1010 283h6v6h-6zM764 289h6v6h-6zM1010 289h6v6h-6zM770 301h6v6h-6zM1004 307h6v6h-6zM794 319h12v6h-12zM854 319h6v6h-6zM866 325h6v6h-6zM878 331h6v6h-6zM956 331h6v6h-6z"/>
<path fill="#b9b9b9" d="M938 145h30v6h-30zM992 163h6v6h-6zM806 169h18v6h-18zM770 181h6v6h-6zM998 187h6v6h-6zM1004 199h6v6h-6zM1136 199h6v6h-6zM776 307h6v6h-6zM782 313h6v6h-6zM998 313h6v6h-6zM992 319h6v6h-6zM980 325h6v6h-6zM944 331h12v6h-12z"/>
<path fill="#bababa" d="M872 151h6v6h-6zM980 151h6v6h-6zM848 163h6v6h-6zM824 169h12v6h-12zM782 175h6v6h-6zM764 193h6v6h-6zM1034 217h6v6h-6zM1004 259h6v6h-6zM764 283h6v6h-6zM818 313h30v6h-30zM884 331h6v6h-6zM938 331h6v6h-6z"/>
<path fill="#bbbbbb" d="M860 157h6v6h-6zM986 157h6v6h-6zM836 169h6v6h-6zM998 193h6v6h-6zM764 199h6v6h-6zM1106 205h6v6h-6zM1004 229h6v6h-6zM764 277h6v6h-6zM770 295h6v6h-6zM1004 301h6v6h-6zM788 313h12v6h-12zM806 313h12v6h-12zM848 313h6v6h-6zM860 319h6v6h-6zM872 325h6v6h-6zM926 331h12v6h-12z"/>
<path fill="#bcbcbc" d="M878 151h6v6h-6zM854 163h6v6h-6zM842 169h6v6h-6zM992 169h6v6h-6zM788 175h6v6h-6zM776 181h6v6h-6zM770 187h6v6h-6zM764 205h6v6h-6zM764 211h6v6h-6zM764 217h6v6h-6zM764 223h6v6h-6zM1010 223h6v6h-6zM764 229h6v6h-6zM764 235h6v6h-6zM764 241h6v6h-6zM764 247h6v6h-6zM764 253h6v6h-6zM764 259h6v6h-6zM764 265h6v6h-6zM1004 265h6v6h-6zM764 271h6v6h-6zM776 301h6v6h-6zM782 307h6v6h-6zM800 313h6v6h-6zM974 325h6v6h-6zM890 331h6v6h-6zM920 331h6v6h-6z"/>
<path fill="#bdbdbd" d="M884 151h6v6h-6zM974 151h6v6h-6zM794 175h6v6h-6zM1010 205h6v6h-6zM1022 205h6v6h-6zM998 241h6v6h-6zM1004 271h6v6h-6zM770 289h6v6h-6zM854 313h6v6h-6zM986 319h6v6h-6zM896 331h24v6h-24z"/>
<path fill="#bebebe" d="M890 151h48v6h-48zM866 157h6v6h-6zM848 169h6v6h-6zM800 175h12v6h-12zM770 193h6v6h-6zM1118 193h6v6h-6zM998 199h6v6h-6zM1130 199h6v6h-6zM1004 205h6v6h-6zM998 235h6v6h-6zM998 247h6v6h-6zM1004 277h6v6h-6zM1004 295h6v6h-6zM788 307h6v6h-6zM830 307h12v6h-12zM998 307h6v6h-6zM866 319h6v6h-6zM968 325h6v6h-6z"/>
<path fill="#bfbfbf" d="M938 151h12v6h-12zM968 151h6v6h-6zM812 175h30v6h-30zM992 175h6v6h-6zM782 181h6v6h-6zM1112 193h6v6h-6zM1070 199h6v6h-6zM998 253h6v6h-6zM770 283h6v6h-6zM1004 283h6v6h-6zM1004 289h6v6h-6zM776 295h6v6h-6zM782 301h6v6h-6zM794 307h6v6h-6zM812 307h18v6h-18zM842 307h6v6h-6zM860 313h6v6h-6zM992 313h6v6h-6zM878 325h6v6h-6zM956 325h12v6h-12z"/>
<path fill="#c0c0c0" d="M950 151h18v6h-18zM980 157h6v6h-6zM860 163h6v6h-6zM986 163h6v6h-6zM854 169h6v6h-6zM842 175h6v6h-6zM776 187h6v6h-6zM770 199h6v6h-6zM1076 199h6v6h-6zM1016 205h6v6h-6zM1058 211h12v6h-12zM800 307h12v6h-12zM848 307h6v6h-6zM944 325h12v6h-12z"/>
<path fill="#c1c1c1" d="M872 157h6v6h-6zM848 175h6v6h-6zM788 181h6v6h-6zM992 181h6v6h-6zM1100 205h6v6h-6zM998 229h6v6h-6zM998 259h6v6h-6zM770 277h6v6h-6zM788 301h6v6h-6zM854 307h6v6h-6zM872 319h6v6h-6zM980 319h6v6h-6zM884 325h6v6h-6zM932 325h12v6h-12z"/>
<path fill="#c2c2c2" d="M794 181h6v6h-6zM992 187h6v6h-6zM770 205h6v6h-6zM998 205h6v6h-6zM1034 205h6v6h-6zM1094 205h6v6h-6zM770 211h6v6h-6zM770 217h6v6h-6zM1028 217h6v6h-6zM770 223h6v6h-6zM770 229h6v6h-6zM770 235h6v6h-6zM770 241h6v6h-6zM770 247h6v6h-6zM770 253h6v6h-6zM770 259h6v6h-6zM770 265h6v6h-6zM998 265h6v6h-6zM770 271h6v6h-6zM776 289h6v6h-6zM998 301h6v6h-6zM866 313h6v6h-6zM926 325h6v6h-6z"/>
<path fill="#c3c3c3" d="M878 157h6v6h-6zM800 181h6v6h-6zM782 187h6v6h-6zM776 193h6v6h-6zM992 193h6v6h-6zM1124 193h6v6h-6zM1136 193h6v6h-6zM1028 205h6v6h-6zM782 295h6v6h-6zM794 301h6v6h-6zM818 301h30v6h-30zM860 307h6v6h-6zM890 325h6v6h-6zM920 325h6v6h-6z"/>
<path fill="#c4c4c4" d="M884 157h6v6h-6zM902 157h24v6h-24zM974 157h6v6h-6zM866 163h6v6h-6zM860 169h6v6h-6zM854 175h6v6h-6zM806 181h42v6h-42zM1130 193h6v6h-6zM992 199h6v6h-6zM1004 223h6v6h-6zM992 241h6v6h-6zM998 271h6v6h-6zM998 295h6v6h-6zM800 301h18v6h-18zM848 301h6v6h-6zM974 319h6v6h-6zM896 325h6v6h-6zM908 325h12v6h-12z"/>
<path fill="#c5c5c5" d="M890 157h12v6h-12zM926 157h12v6h-12zM986 169h6v6h-6zM848 181h6v6h-6zM992 235h6v6h-6zM992 247h6v6h-6zM998 277h6v6h-6zM776 283h6v6h-6zM998 289h6v6h-6zM788 295h6v6h-6zM854 301h6v6h-6zM992 307h6v6h-6zM986 313h6v6h-6zM878 319h6v6h-6zM968 319h6v6h-6zM902 325h6v6h-6z"/>
<path fill="#c6c6c6" d="M938 157h12v6h-12zM968 157h6v6h-6zM980 163h6v6h-6zM788 187h6v6h-6zM776 199h6v6h-6zM1082 199h6v6h-6zM1124 199h6v6h-6zM1040 205h6v6h-6zM992 253h6v6h-6zM998 283h6v6h-6zM782 289h6v6h-6zM866 307h6v6h-6zM872 313h6v6h-6zM962 319h6v6h-6z"/>
<path fill="#c7c7c7" d="M950 157h18v6h-18zM872 163h6v6h-6zM860 175h6v6h-6zM854 181h6v6h-6zM782 193h6v6h-6zM992 205h6v6h-6zM992 229h6v6h-6zM776 277h6v6h-6zM794 295h6v6h-6zM860 301h6v6h-6zM938 319h24v6h-24z"/>
<path fill="#c8c8c8" d="M794 187h6v6h-6zM1118 199h6v6h-6zM776 205h6v6h-6zM1046 205h12v6h-12zM1022 217h6v6h-6zM776 229h6v6h-6zM776 235h6v6h-6zM776 241h6v6h-6zM776 247h6v6h-6zM992 259h6v6h-6zM800 295h48v6h-48zM884 319h6v6h-6zM932 319h6v6h-6z"/>
<path fill="#c9c9c9" d="M866 169h6v6h-6zM986 175h6v6h-6zM800 187h6v6h-6zM830 187h24v6h-24zM1112 199h6v6h-6zM1058 205h12v6h-12zM776 211h6v6h-6zM1046 211h12v6h-12zM776 217h6v6h-6zM776 223h6v6h-6zM998 223h6v6h-6zM776 253h6v6h-6zM776 259h6v6h-6zM776 265h6v6h-6zM776 271h6v6h-6zM788 289h6v6h-6zM848 295h6v6h-6zM866 301h6v6h-6zM992 301h6v6h-6zM926 319h6v6h-6z"/>
<path fill="#cacaca" d="M878 163h6v6h-6zM860 181h6v6h-6zM806 187h24v6h-24zM854 187h6v6h-6zM1088 199h24v6h-24zM1070 205h12v6h-12zM992 265h6v6h-6zM782 283h6v6h-6zM854 295h6v6h-6zM872 307h6v6h-6zM878 313h6v6h-6zM980 313h6v6h-6zM920 319h6v6h-6z"/>
<path fill="#cbcbcb" d="M884 163h6v6h-6zM902 163h30v6h-30zM974 163h6v6h-6zM986 181h6v6h-6zM986 187h6v6h-6zM788 193h6v6h-6zM986 193h6v6h-6zM782 199h6v6h-6zM1082 205h12v6h-12zM1040 211h6v6h-6zM992 271h6v6h-6zM794 289h6v6h-6zM860 295h6v6h-6zM992 295h6v6h-6zM986 307h6v6h-6zM890 319h6v6h-6zM914 319h6v6h-6z"/>
<path fill="#cccccc" d="M890 163h12v6h-12zM932 163h6v6h-6zM866 175h6v6h-6zM860 187h6v6h-6zM986 199h6v6h-6zM1034 211h6v6h-6zM986 235h6v6h-6zM986 241h6v6h-6zM992 277h6v6h-6zM992 283h6v6h-6zM992 289h6v6h-6zM896 319h18v6h-18z"/>
<path fill="#cdcdcd" d="M938 163h12v6h-12zM968 163h6v6h-6zM980 169h6v6h-6zM986 205h6v6h-6zM986 229h6v6h-6zM986 247h6v6h-6zM782 277h6v6h-6zM800 289h42v6h-42zM866 295h6v6h-6zM872 301h6v6h-6zM974 313h6v6h-6z"/>
<path fill="#cecece" d="M950 163h18v6h-18zM872 169h6v6h-6zM794 193h6v6h-6zM1028 211h6v6h-6zM1016 217h6v6h-6zM992 223h6v6h-6zM986 253h6v6h-6zM788 283h6v6h-6zM842 289h12v6h-12zM944 313h30v6h-30z"/>
<path fill="#cfcfcf" d="M866 181h6v6h-6zM800 193h12v6h-12zM824 193h36v6h-36zM782 205h6v6h-6zM992 211h6v6h-6zM782 223h6v6h-6zM782 229h6v6h-6zM782 235h6v6h-6zM782 241h6v6h-6zM782 247h6v6h-6zM782 253h6v6h-6zM854 289h12v6h-12zM878 307h6v6h-6zM884 313h6v6h-6zM932 313h12v6h-12z"/>
<path fill="#d0d0d0" d="M866 187h6v6h-6zM812 193h12v6h-12zM860 193h6v6h-6zM788 199h6v6h-6zM782 211h6v6h-6zM998 211h6v6h-6zM782 217h6v6h-6zM782 259h6v6h-6zM986 259h6v6h-6zM782 265h6v6h-6zM782 271h6v6h-6zM872 295h6v6h-6zM986 301h6v6h-6zM926 313h6v6h-6z"/>
<path fill="#d1d1d1" d="M986 211h6v6h-6zM1004 211h24v6h-24zM992 217h24v6h-24zM986 223h6v6h-6zM986 265h6v6h-6zM794 283h6v6h-6zM866 289h6v6h-6zM920 313h6v6h-6z"/>
<path fill="#d2d2d2" d="M878 169h6v6h-6zM908 169h18v6h-18zM872 175h6v6h-6zM866 193h6v6h-6zM986 217h6v6h-6zM986 271h6v6h-6zM800 283h6v6h-6zM872 289h6v6h-6zM986 295h6v6h-6zM878 301h6v6h-6zM980 307h6v6h-6zM890 313h6v6h-6zM914 313h6v6h-6z"/>
<path fill="#d3d3d3" d="M884 169h24v6h-24zM926 169h12v6h-12zM974 169h6v6h-6zM980 175h6v6h-6zM788 277h6v6h-6zM986 277h6v6h-6zM806 283h42v6h-42zM986 283h6v6h-6zM986 289h6v6h-6zM908 313h6v6h-6z"/>
<path fill="#d4d4d4" d="M938 169h6v6h-6zM980 181h6v6h-6zM794 199h6v6h-6zM854 199h6v6h-6zM980 235h6v6h-6zM848 283h12v6h-12zM878 295h6v6h-6zM884 307h6v6h-6zM896 313h12v6h-12z"/>
<path fill="#d5d5d5" d="M944 169h12v6h-12zM968 169h6v6h-6zM872 181h6v6h-6zM872 187h6v6h-6zM980 187h6v6h-6zM980 193h6v6h-6zM800 199h6v6h-6zM830 199h24v6h-24zM860 199h12v6h-12zM980 199h6v6h-6zM788 205h6v6h-6zM980 205h6v6h-6zM980 229h6v6h-6zM980 241h6v6h-6zM980 247h6v6h-6zM860 283h12v6h-12zM878 289h6v6h-6zM974 307h6v6h-6z"/>
<path fill="#d6d6d6" d="M956 169h12v6h-12zM872 193h6v6h-6zM806 199h24v6h-24zM980 211h6v6h-6zM980 217h6v6h-6zM788 223h6v6h-6zM980 223h6v6h-6zM788 229h6v6h-6zM788 235h6v6h-6zM788 241h6v6h-6zM788 247h6v6h-6zM788 253h6v6h-6zM980 253h6v6h-6zM788 271h6v6h-6zM872 283h6v6h-6zM932 307h42v6h-42z"/>
<path fill="#d7d7d7" d="M938 175h42v6h-42zM938 181h42v6h-42zM944 187h36v6h-36zM950 193h30v6h-30zM950 199h30v6h-30zM956 205h24v6h-24zM788 211h6v6h-6zM956 211h24v6h-24zM788 217h6v6h-6zM956 217h24v6h-24zM956 223h24v6h-24zM956 229h24v6h-24zM956 235h24v6h-24zM956 241h24v6h-24zM956 247h24v6h-24zM956 253h24v6h-24zM788 259h6v6h-6zM956 259h30v6h-30zM788 265h6v6h-6zM956 265h30v6h-30zM956 271h24v6h-24zM794 277h6v6h-6zM950 277h30v6h-30zM950 283h30v6h-30zM944 289h36v6h-36zM944 295h36v6h-36zM938 301h48v6h-48zM920 307h12v6h-12z"/>
<path fill="#d8d8d8" d="M878 175h60v6h-60zM878 181h60v6h-60zM878 187h66v6h-66zM890 193h60v6h-60zM872 199h6v6h-6zM896 199h54v6h-54zM794 205h12v6h-12zM902 205h54v6h-54zM794 211h18v6h-18zM908 211h48v6h-48zM794 217h18v6h-18zM908 217h48v6h-48zM794 223h18v6h-18zM914 223h42v6h-42zM794 229h12v6h-12zM914 229h42v6h-42zM794 235h12v6h-12zM914 235h42v6h-42zM794 241h12v6h-12zM914 241h42v6h-42zM794 247h12v6h-12zM914 247h42v6h-42zM794 253h18v6h-18zM914 253h42v6h-42zM794 259h18v6h-18zM908 259h48v6h-48zM794 265h18v6h-18zM908 265h48v6h-48zM794 271h24v6h-24zM902 271h54v6h-54zM980 271h6v6h-6zM800 277h6v6h-6zM896 277h54v6h-54zM980 277h6v6h-6zM878 283h6v6h-6zM896 283h54v6h-54zM896 289h48v6h-48zM896 295h48v6h-48zM980 295h6v6h-6zM884 301h6v6h-6zM896 301h42v6h-42zM890 307h6v6h-6zM914 307h6v6h-6z"/>
<path fill="#d9d9d9" d="M878 193h12v6h-12zM878 199h18v6h-18zM806 205h30v6h-30zM884 205h18v6h-18zM812 211h18v6h-18zM890 211h18v6h-18zM812 217h12v6h-12zM896 217h12v6h-12zM812 223h12v6h-12zM896 223h18v6h-18zM806 229h18v6h-18zM902 229h12v6h-12zM806 235h12v6h-12zM902 235h12v6h-12zM806 241h12v6h-12zM902 241h12v6h-12zM806 247h18v6h-18zM902 247h12v6h-12zM812 253h12v6h-12zM902 253h12v6h-12zM812 259h12v6h-12zM896 259h12v6h-12zM812 265h18v6h-18zM890 265h18v6h-18zM818 271h18v6h-18zM884 271h18v6h-18zM806 277h36v6h-36zM980 283h6v6h-6zM980 289h6v6h-6zM884 295h6v6h-6zM890 301h6v6h-6zM908 307h6v6h-6z"/>
<path fill="#dadada" d="M836 205h48v6h-48zM830 211h18v6h-18zM878 211h12v6h-12zM824 217h12v6h-12zM884 217h12v6h-12zM824 223h12v6h-12zM890 223h6v6h-6zM824 229h6v6h-6zM890 229h12v6h-12zM818 235h12v6h-12zM890 235h12v6h-12zM818 241h12v6h-12zM890 241h12v6h-12zM824 247h6v6h-6zM890 247h12v6h-12zM824 253h12v6h-12zM890 253h12v6h-12zM824 259h12v6h-12zM884 259h12v6h-12zM830 265h12v6h-12zM878 265h12v6h-12zM836 271h48v6h-48zM842 277h12v6h-12zM890 283h6v6h-6zM884 289h12v6h-12zM890 295h6v6h-6zM896 307h12v6h-12z"/>
<path fill="#dbdbdb" d="M848 211h30v6h-30zM836 217h12v6h-12zM872 217h12v6h-12zM836 223h6v6h-6zM884 223h6v6h-6zM830 229h6v6h-6zM884 229h6v6h-6zM830 235h6v6h-6zM884 235h6v6h-6zM830 241h6v6h-6zM884 241h6v6h-6zM830 247h6v6h-6zM884 247h6v6h-6zM836 253h6v6h-6zM884 253h6v6h-6zM836 259h12v6h-12zM878 259h6v6h-6zM842 265h36v6h-36zM854 277h24v6h-24zM890 277h6v6h-6zM884 283h6v6h-6z"/>
<path fill="#dcdcdc" d="M848 217h6v6h-6zM866 217h6v6h-6zM878 223h6v6h-6zM836 229h6v6h-6zM836 247h6v6h-6zM878 253h6v6h-6zM848 259h6v6h-6zM872 259h6v6h-6zM878 277h6v6h-6z"/>
<path fill="#dddddd" d="M854 217h12v6h-12zM842 223h6v6h-6zM872 223h6v6h-6zM878 229h6v6h-6zM836 235h6v6h-6zM836 241h6v6h-6zM878 247h6v6h-6zM842 253h6v6h-6zM854 259h6v6h-6zM866 259h6v6h-6zM884 277h6v6h-6z"/>
<path fill="#dedede" d="M878 235h6v6h-6zM878 241h6v6h-6zM872 253h6v6h-6zM860 259h6v6h-6z"/>
<path fill="#dfdfdf" d="M848 223h6v6h-6zM842 229h6v6h-6zM842 247h6v6h-6z"/>
<path fill="#e0e0e0" d="M866 223h6v6h-6zM872 229h6v6h-6zM848 253h6v6h-6z"/>
<path fill="#e1e1e1" d="M854 223h6v6h-6zM842 235h6v6h-6zM842 241h6v6h-6zM872 247h6v6h-6zM866 253h6v6h-6z"/>
<path fill="#e2e2e2" d="M860 223h6v6h-6zM854 253h6v6h-6z"/>
<path fill="#e3e3e3" d="M872 235h6v6h-6zM860 253h6v6h-6z"/>
<path fill="#e4e4e4" d="M848 229h6v6h-6zM872 241h6v6h-6z"/>
<path fill="#e5e5e5" d="M848 247h6v6h-6z"/>
<path fill="#e6e6e6" d="M866 229h6v6h-6z"/>
<path fill="#e7e7e7" d="M866 247h6v6h-6z"/>
<path fill="#e9e9e9" d="M854 229h6v6h-6zM848 235h6v6h-6zM848 241h6v6h-6z"/>
<path fill="#eaeaea" d="M860 229h6v6h-6z"/>
<path fill="#ebebeb" d="M854 247h6v6h-6z"/>
<path fill="#ececec" d="M866 235h6v6h-6zM860 247h6v6h-6z"/>
<path fill="#ededed" d="M866 241h6v6h-6z"/>
<path fill="#f1f1f1" d="M854 235h6v6h-6z"/>
<path fill="#f2f2f2" d="M854 241h6v6h-6z"/>
<path fill="#f3f3f3" d="M860 235h6v6h-6z"/>
<path fill="#f4f4f4" d="M860 241h6v6h-6z"/>
</g>
<rect x="601" y="5" width="522" height="26.3" fill="#00c3ff"/>
<defs><linearGradient id="bs" x1="0" x2="1" y1="0" y2="0"><stop offset="0" stop-color="#0040ff"/><stop offset="0.35" stop-color="#0010ff"/><stop offset="1" stop-color="#00a8ff"/></linearGradient></defs>
<rect x="601" y="451" width="522" height="26" fill="#00c3ff"/>
<rect x="601" y="451" width="50" height="26" fill="url(#bs)"/>
</g>
<g clip-path="url(#cM)"><use href="#gM" transform="translate(600.15,27.74) scale(0.8785,0.887)" fill="none" stroke="#1e1e1e" stroke-width="1.1"/><use href="#gF" transform="translate(600.15,27.74) scale(0.8785,0.887)" fill="none" stroke="#1e1e1e" stroke-width="1.1"/><use href="#gC" transform="translate(600.15,27.74) scale(0.8785,0.887)" fill="none" stroke="#333" stroke-width="0.7"/><use href="#gTb" transform="translate(600.15,27.74) scale(0.8785,0.887)" fill="none" stroke="#1e1e1e" stroke-width="1.1"/><use href="#gTw" transform="translate(600.15,27.74) scale(0.8785,0.887)" fill="none" stroke="#1e1e1e" stroke-width="1.1"/><use href="#gTw" transform="translate(600.15,27.74) scale(0.8785,0.887) translate(0,1.2)" fill="none" stroke="#1e1e1e" stroke-width="1.2" stroke-dasharray="3 2"/><use href="#gB" transform="translate(600.15,27.74) scale(0.8785,0.887)" fill="none" stroke="#1e1e1e" stroke-width="1.1"/><use href="#gKb" transform="translate(600.15,27.74) scale(0.8785,0.887)"/><circle cx="963.7" cy="288.8" r="3.6" fill="none" stroke="#1e1e1e" stroke-width="1.1"/></g>
<path d="M604,2V477.5M616.1,2V31" stroke="#1a2a40" stroke-width="1.5" opacity="0.85"/>
<path d="M604,2V5M616.1,2V5" stroke="#999" stroke-width="1.5"/>
<path d="M1122.2,31V451" stroke="#1a2a40" stroke-width="1.2" opacity="0.85"/>
<defs><linearGradient id="cb" x1="0" y1="0" x2="0" y2="1"><stop offset="0" stop-color="#ff1e00"/><stop offset="0.25" stop-color="#ffe600"/><stop offset="0.25" stop-color="#f0ff00"/><stop offset="0.5" stop-color="#30ff00"/><stop offset="0.5" stop-color="#00ff00"/><stop offset="0.75" stop-color="#00e8a0"/><stop offset="0.75" stop-color="#00ffff"/><stop offset="1" stop-color="#0000ff"/></linearGradient></defs>
<rect x="1183" y="198" width="36.5" height="261.5" fill="url(#cb)"/>
<path d="M1180,198H1220M1172.5,262.8H1220M1172.5,328.9H1220M1165.5,394.1H1220M1165.5,459.6H1220M1219.8,198V459.6" stroke="#222" stroke-width="1.3" fill="none"/>
<text class="t" text-anchor="middle" transform="translate(1128.7,197) scale(0.8,1)" x="4.42 13.26 22.09 30.93 39.77 48.61 57.44">8.78+14</text>
<text class="t" text-anchor="middle" transform="translate(1128.7,262) scale(0.8,1)" x="4.42 13.26 22.09 30.93 39.77 48.61">2.3+10</text>
<text class="t" text-anchor="middle" transform="translate(1128.7,327) scale(0.8,1)" x="4.42 13.26 22.09 30.93 39.77 48.61">605000</text>
<text class="t" text-anchor="middle" transform="translate(1128.7,392) scale(0.8,1)" x="4.42 13.26 22.09 30.93">15.9</text>
<text class="t" text-anchor="middle" transform="translate(1129.2,473) scale(0.8,1)" x="4.42 13.26 22.09 30.93 39.77 48.61">.00042</text>
<path d="M1228.6,12V477M1222,120.5H1229M1222,166H1229" stroke="#666" stroke-width="1.2"/>
<g clip-path="url(#cR)">
<rect x="1229" y="19.5" width="510" height="455" fill="#ffa500"/>
<path fill="#00ffff" d="M1274 19.5h2.5v2.5h-2.5zM1666.5 19.5h2.5v2.5h-2.5zM1681.5 19.5h2.5v2.5h-2.5zM1689 19.5h2.5v2.5h-2.5zM1701.5 19.5h2.5v2.5h-2.5zM1711.5 19.5h2.5v2.5h-2.5zM1239 22h2.5v2.5h-2.5zM1589 22h2.5v2.5h-2.5zM1659 22h2.5v2.5h-2.5zM1666.5 22h2.5v2.5h-2.5zM1681.5 22h2.5v2.5h-2.5zM1704 22h2.5v2.5h-2.5zM1726.5 22h2.5v2.5h-2.5zM1396.5 24.5h2.5v2.5h-2.5zM1654 24.5h2.5v2.5h-2.5zM1704 24.5h2.5v2.5h-2.5zM1229 27h2.5v2.5h-2.5zM1431.5 27h2.5v2.5h-2.5zM1731.5 27h2.5v2.5h-2.5zM1736.5 27h2.5v2.5h-2.5zM1236.5 29.5h2.5v2.5h-2.5zM1251.5 29.5h2.5v2.5h-2.5zM1261.5 29.5h2.5v2.5h-2.5zM1276.5 29.5h2.5v2.5h-2.5zM1281.5 29.5h2.5v2.5h-2.5zM1561.5 29.5h2.5v2.5h-2.5zM1701.5 29.5h2.5v2.5h-2.5zM1711.5 29.5h5v2.5h-5zM1721.5 29.5h2.5v2.5h-2.5zM1734 29.5h2.5v2.5h-2.5zM1241.5 32h2.5v2.5h-2.5zM1259 32h2.5v2.5h-2.5zM1324 32h2.5v2.5h-2.5zM1399 32h2.5v2.5h-2.5zM1649 32h2.5v2.5h-2.5zM1666.5 32h2.5v2.5h-2.5zM1674 32h2.5v2.5h-2.5zM1691.5 32h5v2.5h-5zM1241.5 34.5h2.5v2.5h-2.5zM1251.5 34.5h2.5v2.5h-2.5zM1261.5 34.5h2.5v2.5h-2.5zM1266.5 34.5h2.5v2.5h-2.5zM1534 34.5h2.5v2.5h-2.5zM1614 34.5h2.5v2.5h-2.5zM1636.5 34.5h2.5v2.5h-2.5zM1681.5 34.5h2.5v2.5h-2.5zM1701.5 34.5h2.5v2.5h-2.5zM1726.5 34.5h2.5v2.5h-2.5zM1249 37h2.5v2.5h-2.5zM1426.5 37h2.5v2.5h-2.5zM1676.5 37h2.5v2.5h-2.5zM1689 37h2.5v2.5h-2.5zM1716.5 37h2.5v2.5h-2.5zM1236.5 39.5h5v2.5h-5zM1256.5 39.5h2.5v2.5h-2.5zM1711.5 39.5h2.5v2.5h-2.5zM1734 39.5h2.5v2.5h-2.5zM1261.5 42h2.5v2.5h-2.5zM1279 42h2.5v2.5h-2.5zM1296.5 42h2.5v2.5h-2.5zM1356.5 42h2.5v2.5h-2.5zM1659 42h5v2.5h-5zM1671.5 42h2.5v2.5h-2.5zM1676.5 42h7.5v2.5h-7.5zM1694 42h2.5v2.5h-2.5zM1704 42h2.5v2.5h-2.5zM1716.5 42h2.5v2.5h-2.5zM1729 42h5v2.5h-5zM1649 44.5h12.5v2.5h-12.5zM1669 44.5h2.5v2.5h-2.5zM1674 44.5h2.5v2.5h-2.5zM1679 44.5h2.5v2.5h-2.5zM1684 44.5h2.5v2.5h-2.5zM1694 44.5h5v2.5h-5zM1714 44.5h5v2.5h-5zM1734 44.5h2.5v2.5h-2.5zM1236.5 47h2.5v2.5h-2.5zM1651.5 47h10v2.5h-10zM1666.5 47h2.5v2.5h-2.5zM1671.5 47h2.5v2.5h-2.5zM1676.5 47h5v2.5h-5zM1706.5 47h2.5v2.5h-2.5zM1716.5 47h2.5v2.5h-2.5zM1726.5 47h2.5v2.5h-2.5zM1239 49.5h2.5v2.5h-2.5zM1649 49.5h32.5v2.5h-32.5zM1684 49.5h2.5v2.5h-2.5zM1701.5 49.5h2.5v2.5h-2.5zM1736.5 49.5h2.5v2.5h-2.5zM1649 52h30v2.5h-30zM1684 52h2.5v2.5h-2.5zM1709 52h2.5v2.5h-2.5zM1719 52h2.5v2.5h-2.5zM1234 54.5h2.5v2.5h-2.5zM1649 54.5h32.5v2.5h-32.5zM1686.5 54.5h2.5v2.5h-2.5zM1649 57h2.5v2.5h-2.5zM1654 57h27.5v2.5h-27.5zM1706.5 57h2.5v2.5h-2.5zM1726.5 57h2.5v2.5h-2.5zM1239 59.5h2.5v2.5h-2.5zM1649 59.5h2.5v2.5h-2.5zM1656.5 59.5h17.5v2.5h-17.5zM1676.5 59.5h7.5v2.5h-7.5zM1721.5 59.5h2.5v2.5h-2.5zM1231.5 62h2.5v2.5h-2.5zM1659 62h22.5v2.5h-22.5zM1684 62h5v2.5h-5zM1714 62h2.5v2.5h-2.5zM1736.5 62h2.5v2.5h-2.5zM1659 64.5h27.5v2.5h-27.5zM1694 64.5h2.5v2.5h-2.5zM1699 64.5h2.5v2.5h-2.5zM1716.5 64.5h2.5v2.5h-2.5zM1726.5 64.5h2.5v2.5h-2.5zM1654 67h2.5v2.5h-2.5zM1661.5 67h25v2.5h-25zM1709 67h2.5v2.5h-2.5zM1729 67h2.5v2.5h-2.5zM1236.5 69.5h2.5v2.5h-2.5zM1656.5 69.5h27.5v2.5h-27.5zM1701.5 69.5h5v2.5h-5zM1661.5 72h2.5v2.5h-2.5zM1666.5 72h20v2.5h-20zM1691.5 72h2.5v2.5h-2.5zM1696.5 72h2.5v2.5h-2.5zM1721.5 72h2.5v2.5h-2.5zM1731.5 72h2.5v2.5h-2.5zM1664 74.5h22.5v2.5h-22.5zM1716.5 74.5h2.5v2.5h-2.5zM1239 77h2.5v2.5h-2.5zM1664 77h20v2.5h-20zM1714 77h2.5v2.5h-2.5zM1719 77h7.5v2.5h-7.5zM1661.5 79.5h2.5v2.5h-2.5zM1666.5 79.5h20v2.5h-20zM1691.5 79.5h5v2.5h-5zM1716.5 79.5h2.5v2.5h-2.5zM1721.5 79.5h2.5v2.5h-2.5zM1236.5 82h2.5v2.5h-2.5zM1661.5 82h2.5v2.5h-2.5zM1666.5 82h7.5v2.5h-7.5zM1676.5 82h12.5v2.5h-12.5zM1711.5 82h2.5v2.5h-2.5zM1664 84.5h2.5v2.5h-2.5zM1669 84.5h20v2.5h-20zM1699 84.5h2.5v2.5h-2.5zM1716.5 84.5h2.5v2.5h-2.5zM1724 84.5h2.5v2.5h-2.5zM1661.5 87h2.5v2.5h-2.5zM1671.5 87h17.5v2.5h-17.5zM1729 87h2.5v2.5h-2.5zM1736.5 87h2.5v2.5h-2.5zM1674 89.5h12.5v2.5h-12.5zM1706.5 89.5h2.5v2.5h-2.5zM1716.5 89.5h2.5v2.5h-2.5zM1721.5 89.5h2.5v2.5h-2.5zM1736.5 89.5h2.5v2.5h-2.5zM1236.5 92h2.5v2.5h-2.5zM1671.5 92h12.5v2.5h-12.5zM1686.5 92h2.5v2.5h-2.5zM1716.5 92h2.5v2.5h-2.5zM1731.5 92h7.5v2.5h-7.5zM1676.5 94.5h15v2.5h-15zM1714 94.5h2.5v2.5h-2.5zM1731.5 94.5h7.5v2.5h-7.5zM1679 97h7.5v2.5h-7.5zM1689 97h2.5v2.5h-2.5zM1711.5 97h2.5v2.5h-2.5zM1721.5 97h2.5v2.5h-2.5zM1726.5 97h2.5v2.5h-2.5zM1731.5 97h7.5v2.5h-7.5zM1679 99.5h10v2.5h-10zM1716.5 99.5h5v2.5h-5zM1734 99.5h5v2.5h-5zM1681.5 102h10v2.5h-10zM1709 102h2.5v2.5h-2.5zM1719 102h2.5v2.5h-2.5zM1729 102h2.5v2.5h-2.5zM1734 102h5v2.5h-5zM1681.5 104.5h10v2.5h-10zM1726.5 104.5h12.5v2.5h-12.5zM1684 107h10v2.5h-10zM1724 107h5v2.5h-5zM1731.5 107h7.5v2.5h-7.5zM1679 109.5h2.5v2.5h-2.5zM1684 109.5h7.5v2.5h-7.5zM1724 109.5h15v2.5h-15zM1681.5 112h2.5v2.5h-2.5zM1689 112h5v2.5h-5zM1696.5 112h2.5v2.5h-2.5zM1726.5 112h12.5v2.5h-12.5zM1686.5 114.5h7.5v2.5h-7.5zM1696.5 114.5h5v2.5h-5zM1704 114.5h2.5v2.5h-2.5zM1711.5 114.5h2.5v2.5h-2.5zM1721.5 114.5h17.5v2.5h-17.5zM1691.5 117h5v2.5h-5zM1706.5 117h2.5v2.5h-2.5zM1726.5 117h12.5v2.5h-12.5zM1689 119.5h2.5v2.5h-2.5zM1694 119.5h5v2.5h-5zM1709 119.5h2.5v2.5h-2.5zM1721.5 119.5h17.5v2.5h-17.5zM1686.5 122h2.5v2.5h-2.5zM1694 122h7.5v2.5h-7.5zM1714 122h2.5v2.5h-2.5zM1719 122h20v2.5h-20zM1691.5 124.5h2.5v2.5h-2.5zM1696.5 124.5h7.5v2.5h-7.5zM1719 124.5h20v2.5h-20zM1691.5 127h17.5v2.5h-17.5zM1719 127h20v2.5h-20zM1689 129.5h2.5v2.5h-2.5zM1694 129.5h15v2.5h-15zM1714 129.5h2.5v2.5h-2.5zM1719 129.5h20v2.5h-20zM1696.5 132h42.5v2.5h-42.5zM1694 134.5h45v2.5h-45zM1699 137h40v2.5h-40zM1699 139.5h2.5v2.5h-2.5zM1704 139.5h35v2.5h-35zM1699 142h5v2.5h-5zM1706.5 142h32.5v2.5h-32.5zM1701.5 144.5h37.5v2.5h-37.5zM1699 147h2.5v2.5h-2.5zM1704 147h22.5v2.5h-22.5zM1729 147h10v2.5h-10zM1704 149.5h2.5v2.5h-2.5zM1709 149.5h30v2.5h-30zM1706.5 152h32.5v2.5h-32.5zM1706.5 154.5h17.5v2.5h-17.5zM1726.5 154.5h12.5v2.5h-12.5zM1704 157h2.5v2.5h-2.5zM1709 157h30v2.5h-30zM1711.5 159.5h27.5v2.5h-27.5zM1711.5 162h27.5v2.5h-27.5zM1716.5 164.5h22.5v2.5h-22.5zM1716.5 167h22.5v2.5h-22.5zM1714 169.5h5v2.5h-5zM1721.5 169.5h15v2.5h-15zM1719 172h2.5v2.5h-2.5zM1726.5 172h2.5v2.5h-2.5zM1726.5 174.5h2.5v2.5h-2.5zM1734 174.5h2.5v2.5h-2.5zM1726.5 199.5h2.5v2.5h-2.5zM1731.5 199.5h2.5v2.5h-2.5zM1729 202h2.5v2.5h-2.5zM1734 202h2.5v2.5h-2.5zM1731.5 204.5h2.5v2.5h-2.5zM1706.5 209.5h2.5v2.5h-2.5zM1714 209.5h2.5v2.5h-2.5zM1706.5 212h2.5v2.5h-2.5zM1714 212h2.5v2.5h-2.5zM1719 212h2.5v2.5h-2.5zM1709 214.5h2.5v2.5h-2.5zM1714 217h2.5v2.5h-2.5zM1734 244.5h2.5v2.5h-2.5zM1731.5 249.5h7.5v2.5h-7.5zM1729 252h2.5v2.5h-2.5zM1734 252h5v2.5h-5zM1731.5 254.5h7.5v2.5h-7.5zM1729 257h10v2.5h-10zM1734 259.5h5v2.5h-5zM1726.5 262h2.5v2.5h-2.5zM1711.5 269.5h2.5v2.5h-2.5zM1684 272h2.5v2.5h-2.5zM1709 272h2.5v2.5h-2.5zM1714 272h7.5v2.5h-7.5zM1726.5 272h7.5v2.5h-7.5zM1736.5 272h2.5v2.5h-2.5zM1676.5 274.5h2.5v2.5h-2.5zM1681.5 274.5h2.5v2.5h-2.5zM1689 274.5h10v2.5h-10zM1706.5 274.5h32.5v2.5h-32.5zM1676.5 277h7.5v2.5h-7.5zM1686.5 277h12.5v2.5h-12.5zM1711.5 277h27.5v2.5h-27.5zM1676.5 279.5h10v2.5h-10zM1691.5 279.5h5v2.5h-5zM1699 279.5h2.5v2.5h-2.5zM1706.5 279.5h32.5v2.5h-32.5zM1676.5 282h2.5v2.5h-2.5zM1686.5 282h5v2.5h-5zM1696.5 282h2.5v2.5h-2.5zM1706.5 282h32.5v2.5h-32.5zM1709 284.5h30v2.5h-30zM1704 287h35v2.5h-35zM1706.5 289.5h32.5v2.5h-32.5zM1709 292h15v2.5h-15zM1726.5 292h12.5v2.5h-12.5zM1714 294.5h12.5v2.5h-12.5zM1729 294.5h2.5v2.5h-2.5zM1734 294.5h5v2.5h-5zM1714 297h10v2.5h-10zM1731.5 297h2.5v2.5h-2.5zM1736.5 297h2.5v2.5h-2.5zM1711.5 299.5h2.5v2.5h-2.5zM1716.5 299.5h7.5v2.5h-7.5zM1726.5 299.5h5v2.5h-5zM1734 299.5h2.5v2.5h-2.5zM1714 302h12.5v2.5h-12.5zM1729 302h5v2.5h-5zM1721.5 304.5h2.5v2.5h-2.5zM1731.5 304.5h5v2.5h-5zM1714 307h10v2.5h-10zM1726.5 307h2.5v2.5h-2.5zM1731.5 307h2.5v2.5h-2.5zM1716.5 309.5h5v2.5h-5zM1729 309.5h10v2.5h-10zM1716.5 312h22.5v2.5h-22.5zM1719 314.5h15v2.5h-15zM1736.5 314.5h2.5v2.5h-2.5zM1724 317h2.5v2.5h-2.5zM1736.5 317h2.5v2.5h-2.5zM1736.5 319.5h2.5v2.5h-2.5zM1736.5 322h2.5v2.5h-2.5zM1736.5 327h2.5v2.5h-2.5zM1734 329.5h2.5v2.5h-2.5zM1736.5 332h2.5v2.5h-2.5zM1736.5 334.5h2.5v2.5h-2.5zM1729 337h2.5v2.5h-2.5zM1734 337h2.5v2.5h-2.5zM1734 339.5h2.5v2.5h-2.5zM1736.5 342h2.5v2.5h-2.5zM1734 344.5h5v2.5h-5zM1731.5 347h5v2.5h-5zM1731.5 349.5h7.5v2.5h-7.5zM1729 352h10v2.5h-10zM1731.5 354.5h7.5v2.5h-7.5zM1724 357h2.5v2.5h-2.5zM1729 357h10v2.5h-10zM1726.5 359.5h12.5v2.5h-12.5zM1726.5 362h12.5v2.5h-12.5zM1719 364.5h2.5v2.5h-2.5zM1726.5 364.5h12.5v2.5h-12.5zM1721.5 367h17.5v2.5h-17.5zM1721.5 369.5h17.5v2.5h-17.5zM1719 372h20v2.5h-20zM1719 374.5h20v2.5h-20zM1229 377h2.5v2.5h-2.5zM1711.5 377h27.5v2.5h-27.5zM1229 379.5h2.5v2.5h-2.5zM1706.5 379.5h32.5v2.5h-32.5zM1229 382h2.5v2.5h-2.5zM1709 382h2.5v2.5h-2.5zM1714 382h25v2.5h-25zM1711.5 384.5h27.5v2.5h-27.5zM1704 387h35v2.5h-35zM1229 389.5h2.5v2.5h-2.5zM1699 389.5h2.5v2.5h-2.5zM1704 389.5h35v2.5h-35zM1701.5 392h2.5v2.5h-2.5zM1706.5 392h32.5v2.5h-32.5zM1704 394.5h35v2.5h-35zM1231.5 397h2.5v2.5h-2.5zM1701.5 397h27.5v2.5h-27.5zM1731.5 397h7.5v2.5h-7.5zM1229 399.5h2.5v2.5h-2.5zM1691.5 399.5h2.5v2.5h-2.5zM1696.5 399.5h2.5v2.5h-2.5zM1701.5 399.5h37.5v2.5h-37.5zM1231.5 402h2.5v2.5h-2.5zM1696.5 402h7.5v2.5h-7.5zM1706.5 402h32.5v2.5h-32.5zM1229 404.5h2.5v2.5h-2.5zM1694 404.5h40v2.5h-40zM1736.5 404.5h2.5v2.5h-2.5zM1691.5 407h35v2.5h-35zM1729 407h5v2.5h-5zM1736.5 407h2.5v2.5h-2.5zM1684 409.5h42.5v2.5h-42.5zM1734 409.5h2.5v2.5h-2.5zM1681.5 412h22.5v2.5h-22.5zM1706.5 412h20v2.5h-20zM1731.5 412h2.5v2.5h-2.5zM1736.5 412h2.5v2.5h-2.5zM1229 414.5h2.5v2.5h-2.5zM1681.5 414.5h2.5v2.5h-2.5zM1686.5 414.5h35v2.5h-35zM1724 414.5h2.5v2.5h-2.5zM1729 414.5h2.5v2.5h-2.5zM1684 417h42.5v2.5h-42.5zM1734 417h5v2.5h-5zM1229 419.5h2.5v2.5h-2.5zM1669 419.5h2.5v2.5h-2.5zM1674 419.5h7.5v2.5h-7.5zM1684 419.5h10v2.5h-10zM1696.5 419.5h27.5v2.5h-27.5zM1731.5 419.5h2.5v2.5h-2.5zM1666.5 422h2.5v2.5h-2.5zM1674 422h55v2.5h-55zM1731.5 422h7.5v2.5h-7.5zM1664 424.5h62.5v2.5h-62.5zM1729 424.5h10v2.5h-10zM1229 427h2.5v2.5h-2.5zM1661.5 427h2.5v2.5h-2.5zM1666.5 427h5v2.5h-5zM1674 427h15v2.5h-15zM1691.5 427h47.5v2.5h-47.5zM1229 429.5h5v2.5h-5zM1656.5 429.5h2.5v2.5h-2.5zM1661.5 429.5h60v2.5h-60zM1724 429.5h5v2.5h-5zM1654 432h52.5v2.5h-52.5zM1711.5 432h10v2.5h-10zM1649 434.5h42.5v2.5h-42.5zM1701.5 434.5h2.5v2.5h-2.5zM1706.5 434.5h2.5v2.5h-2.5zM1716.5 434.5h5v2.5h-5zM1649 437h20v2.5h-20zM1671.5 437h7.5v2.5h-7.5zM1681.5 437h5v2.5h-5zM1691.5 437h7.5v2.5h-7.5zM1651.5 439.5h25v2.5h-25zM1681.5 439.5h2.5v2.5h-2.5zM1686.5 439.5h2.5v2.5h-2.5zM1229 442h2.5v2.5h-2.5zM1234 442h2.5v2.5h-2.5zM1649 442h2.5v2.5h-2.5zM1654 442h5v2.5h-5zM1661.5 442h2.5v2.5h-2.5zM1669 442h2.5v2.5h-2.5zM1674 442h2.5v2.5h-2.5zM1684 442h2.5v2.5h-2.5zM1229 444.5h2.5v2.5h-2.5zM1651.5 444.5h2.5v2.5h-2.5zM1234 447h2.5v2.5h-2.5zM1234 454.5h2.5v2.5h-2.5zM1229 457h2.5v2.5h-2.5zM1234 459.5h2.5v2.5h-2.5zM1229 467h10v2.5h-10zM1241.5 467h5v2.5h-5zM1229 469.5h10v2.5h-10zM1239 472h5v2.5h-5z"/><path fill="#00f000" d="M1276.5 19.5h2.5v2.5h-2.5zM1659 19.5h5v2.5h-5zM1736.5 19.5h2.5v2.5h-2.5zM1249 22h2.5v2.5h-2.5zM1691.5 22h2.5v2.5h-2.5zM1236.5 24.5h5v2.5h-5zM1656.5 24.5h2.5v2.5h-2.5zM1661.5 24.5h2.5v2.5h-2.5zM1706.5 24.5h2.5v2.5h-2.5zM1719 24.5h2.5v2.5h-2.5zM1736.5 24.5h2.5v2.5h-2.5zM1244 27h2.5v2.5h-2.5zM1254 27h7.5v2.5h-7.5zM1316.5 27h2.5v2.5h-2.5zM1704 27h2.5v2.5h-2.5zM1714 27h2.5v2.5h-2.5zM1729 27h2.5v2.5h-2.5zM1241.5 29.5h2.5v2.5h-2.5zM1249 29.5h2.5v2.5h-2.5zM1654 29.5h2.5v2.5h-2.5zM1724 29.5h2.5v2.5h-2.5zM1239 32h2.5v2.5h-2.5zM1256.5 32h2.5v2.5h-2.5zM1661.5 32h2.5v2.5h-2.5zM1701.5 32h2.5v2.5h-2.5zM1711.5 32h2.5v2.5h-2.5zM1731.5 32h5v2.5h-5zM1236.5 34.5h2.5v2.5h-2.5zM1246.5 34.5h5v2.5h-5zM1254 34.5h2.5v2.5h-2.5zM1276.5 34.5h2.5v2.5h-2.5zM1389 34.5h2.5v2.5h-2.5zM1649 34.5h2.5v2.5h-2.5zM1699 34.5h2.5v2.5h-2.5zM1704 34.5h2.5v2.5h-2.5zM1236.5 37h5v2.5h-5zM1309 37h2.5v2.5h-2.5zM1646.5 37h2.5v2.5h-2.5zM1684 37h2.5v2.5h-2.5zM1691.5 37h2.5v2.5h-2.5zM1244 39.5h2.5v2.5h-2.5zM1251.5 39.5h5v2.5h-5zM1644 39.5h2.5v2.5h-2.5zM1666.5 39.5h2.5v2.5h-2.5zM1684 39.5h2.5v2.5h-2.5zM1731.5 39.5h2.5v2.5h-2.5zM1736.5 39.5h2.5v2.5h-2.5zM1236.5 42h2.5v2.5h-2.5zM1251.5 42h2.5v2.5h-2.5zM1256.5 42h2.5v2.5h-2.5zM1499 42h2.5v2.5h-2.5zM1691.5 42h2.5v2.5h-2.5zM1711.5 42h2.5v2.5h-2.5zM1721.5 42h5v2.5h-5zM1236.5 44.5h2.5v2.5h-2.5zM1681.5 44.5h2.5v2.5h-2.5zM1686.5 44.5h5v2.5h-5zM1699 44.5h5v2.5h-5zM1706.5 44.5h7.5v2.5h-7.5zM1721.5 44.5h12.5v2.5h-12.5zM1736.5 44.5h2.5v2.5h-2.5zM1681.5 47h25v2.5h-25zM1709 47h7.5v2.5h-7.5zM1719 47h7.5v2.5h-7.5zM1729 47h10v2.5h-10zM1681.5 49.5h2.5v2.5h-2.5zM1686.5 49.5h15v2.5h-15zM1704 49.5h12.5v2.5h-12.5zM1721.5 49.5h15v2.5h-15zM1679 52h5v2.5h-5zM1686.5 52h22.5v2.5h-22.5zM1711.5 52h5v2.5h-5zM1721.5 52h7.5v2.5h-7.5zM1736.5 52h2.5v2.5h-2.5zM1681.5 54.5h5v2.5h-5zM1689 54.5h22.5v2.5h-22.5zM1714 54.5h7.5v2.5h-7.5zM1724 54.5h5v2.5h-5zM1734 54.5h5v2.5h-5zM1681.5 57h25v2.5h-25zM1709 57h5v2.5h-5zM1724 57h2.5v2.5h-2.5zM1729 57h5v2.5h-5zM1736.5 57h2.5v2.5h-2.5zM1684 59.5h32.5v2.5h-32.5zM1719 59.5h2.5v2.5h-2.5zM1726.5 59.5h12.5v2.5h-12.5zM1681.5 62h2.5v2.5h-2.5zM1689 62h22.5v2.5h-22.5zM1721.5 62h15v2.5h-15zM1686.5 64.5h7.5v2.5h-7.5zM1696.5 64.5h2.5v2.5h-2.5zM1701.5 64.5h15v2.5h-15zM1719 64.5h7.5v2.5h-7.5zM1729 64.5h10v2.5h-10zM1686.5 67h22.5v2.5h-22.5zM1711.5 67h17.5v2.5h-17.5zM1731.5 67h7.5v2.5h-7.5zM1684 69.5h2.5v2.5h-2.5zM1689 69.5h12.5v2.5h-12.5zM1706.5 69.5h32.5v2.5h-32.5zM1686.5 72h5v2.5h-5zM1694 72h2.5v2.5h-2.5zM1701.5 72h20v2.5h-20zM1724 72h7.5v2.5h-7.5zM1734 72h5v2.5h-5zM1686.5 74.5h30v2.5h-30zM1721.5 74.5h5v2.5h-5zM1729 74.5h10v2.5h-10zM1684 77h30v2.5h-30zM1716.5 77h2.5v2.5h-2.5zM1726.5 77h12.5v2.5h-12.5zM1686.5 79.5h5v2.5h-5zM1696.5 79.5h20v2.5h-20zM1719 79.5h2.5v2.5h-2.5zM1724 79.5h15v2.5h-15zM1689 82h22.5v2.5h-22.5zM1714 82h25v2.5h-25zM1689 84.5h10v2.5h-10zM1701.5 84.5h15v2.5h-15zM1719 84.5h5v2.5h-5zM1726.5 84.5h12.5v2.5h-12.5zM1689 87h10v2.5h-10zM1701.5 87h27.5v2.5h-27.5zM1731.5 87h5v2.5h-5zM1686.5 89.5h10v2.5h-10zM1704 89.5h2.5v2.5h-2.5zM1709 89.5h7.5v2.5h-7.5zM1719 89.5h2.5v2.5h-2.5zM1724 89.5h12.5v2.5h-12.5zM1684 92h2.5v2.5h-2.5zM1689 92h2.5v2.5h-2.5zM1706.5 92h10v2.5h-10zM1719 92h12.5v2.5h-12.5zM1236.5 94.5h2.5v2.5h-2.5zM1709 94.5h5v2.5h-5zM1716.5 94.5h15v2.5h-15zM1686.5 97h2.5v2.5h-2.5zM1709 97h2.5v2.5h-2.5zM1714 97h7.5v2.5h-7.5zM1724 97h2.5v2.5h-2.5zM1729 97h2.5v2.5h-2.5zM1689 99.5h2.5v2.5h-2.5zM1709 99.5h7.5v2.5h-7.5zM1721.5 99.5h12.5v2.5h-12.5zM1711.5 102h7.5v2.5h-7.5zM1721.5 102h7.5v2.5h-7.5zM1731.5 102h2.5v2.5h-2.5zM1691.5 104.5h2.5v2.5h-2.5zM1709 104.5h5v2.5h-5zM1716.5 104.5h5v2.5h-5zM1724 104.5h2.5v2.5h-2.5zM1694 107h2.5v2.5h-2.5zM1706.5 107h7.5v2.5h-7.5zM1716.5 107h2.5v2.5h-2.5zM1721.5 107h2.5v2.5h-2.5zM1729 107h2.5v2.5h-2.5zM1694 109.5h30v2.5h-30zM1694 112h2.5v2.5h-2.5zM1699 112h27.5v2.5h-27.5zM1694 114.5h2.5v2.5h-2.5zM1701.5 114.5h2.5v2.5h-2.5zM1706.5 114.5h5v2.5h-5zM1714 114.5h5v2.5h-5zM1696.5 117h10v2.5h-10zM1709 117h17.5v2.5h-17.5zM1691.5 119.5h2.5v2.5h-2.5zM1699 119.5h10v2.5h-10zM1711.5 119.5h10v2.5h-10zM1701.5 122h12.5v2.5h-12.5zM1716.5 122h2.5v2.5h-2.5zM1704 124.5h15v2.5h-15zM1709 127h10v2.5h-10zM1709 129.5h5v2.5h-5zM1716.5 129.5h2.5v2.5h-2.5zM1726.5 147h2.5v2.5h-2.5zM1706.5 149.5h2.5v2.5h-2.5zM1724 292h2.5v2.5h-2.5zM1726.5 294.5h2.5v2.5h-2.5zM1731.5 294.5h2.5v2.5h-2.5zM1724 297h7.5v2.5h-7.5zM1734 297h2.5v2.5h-2.5zM1724 299.5h2.5v2.5h-2.5zM1731.5 299.5h2.5v2.5h-2.5zM1736.5 299.5h2.5v2.5h-2.5zM1726.5 302h2.5v2.5h-2.5zM1736.5 302h2.5v2.5h-2.5zM1719 304.5h2.5v2.5h-2.5zM1724 304.5h7.5v2.5h-7.5zM1736.5 304.5h2.5v2.5h-2.5zM1724 307h2.5v2.5h-2.5zM1736.5 307h2.5v2.5h-2.5zM1721.5 309.5h7.5v2.5h-7.5zM1726.5 317h2.5v2.5h-2.5zM1736.5 339.5h2.5v2.5h-2.5zM1229 372h2.5v2.5h-2.5zM1229 397h2.5v2.5h-2.5zM1734 404.5h2.5v2.5h-2.5zM1229 407h2.5v2.5h-2.5zM1726.5 407h2.5v2.5h-2.5zM1734 407h2.5v2.5h-2.5zM1729 409.5h5v2.5h-5zM1736.5 409.5h2.5v2.5h-2.5zM1704 412h2.5v2.5h-2.5zM1726.5 412h5v2.5h-5zM1734 412h2.5v2.5h-2.5zM1721.5 414.5h2.5v2.5h-2.5zM1726.5 414.5h2.5v2.5h-2.5zM1734 414.5h5v2.5h-5zM1229 417h2.5v2.5h-2.5zM1726.5 417h7.5v2.5h-7.5zM1694 419.5h2.5v2.5h-2.5zM1724 419.5h7.5v2.5h-7.5zM1734 419.5h5v2.5h-5zM1234 422h2.5v2.5h-2.5zM1729 422h2.5v2.5h-2.5zM1689 427h2.5v2.5h-2.5zM1659 429.5h2.5v2.5h-2.5zM1229 434.5h2.5v2.5h-2.5zM1231.5 442h2.5v2.5h-2.5zM1231.5 447h2.5v2.5h-2.5zM1234 457h2.5v2.5h-2.5zM1229 459.5h5v2.5h-5zM1231.5 462h2.5v2.5h-2.5z"/><path fill="#ffff00" d="M1699 19.5h2.5v2.5h-2.5zM1716.5 19.5h2.5v2.5h-2.5zM1734 19.5h2.5v2.5h-2.5zM1274 22h2.5v2.5h-2.5zM1504 22h2.5v2.5h-2.5zM1699 22h2.5v2.5h-2.5zM1714 22h2.5v2.5h-2.5zM1734 22h2.5v2.5h-2.5zM1246.5 24.5h2.5v2.5h-2.5zM1254 24.5h2.5v2.5h-2.5zM1259 24.5h2.5v2.5h-2.5zM1536.5 24.5h2.5v2.5h-2.5zM1676.5 24.5h2.5v2.5h-2.5zM1724 24.5h2.5v2.5h-2.5zM1729 24.5h2.5v2.5h-2.5zM1289 27h2.5v2.5h-2.5zM1659 27h2.5v2.5h-2.5zM1696.5 27h2.5v2.5h-2.5zM1711.5 27h2.5v2.5h-2.5zM1716.5 27h2.5v2.5h-2.5zM1254 29.5h2.5v2.5h-2.5zM1259 29.5h2.5v2.5h-2.5zM1604 29.5h2.5v2.5h-2.5zM1661.5 29.5h2.5v2.5h-2.5zM1726.5 29.5h2.5v2.5h-2.5zM1254 32h2.5v2.5h-2.5zM1664 32h2.5v2.5h-2.5zM1679 32h2.5v2.5h-2.5zM1726.5 32h2.5v2.5h-2.5zM1654 34.5h2.5v2.5h-2.5zM1659 34.5h5v2.5h-5zM1671.5 34.5h2.5v2.5h-2.5zM1694 34.5h2.5v2.5h-2.5zM1241.5 37h5v2.5h-5zM1269 37h2.5v2.5h-2.5zM1699 37h2.5v2.5h-2.5zM1719 37h2.5v2.5h-2.5zM1729 37h2.5v2.5h-2.5zM1734 37h2.5v2.5h-2.5zM1266.5 39.5h2.5v2.5h-2.5zM1654 39.5h2.5v2.5h-2.5zM1659 39.5h2.5v2.5h-2.5zM1714 39.5h2.5v2.5h-2.5zM1724 39.5h2.5v2.5h-2.5zM1239 42h2.5v2.5h-2.5zM1639 42h2.5v2.5h-2.5zM1709 42h2.5v2.5h-2.5zM1719 42h2.5v2.5h-2.5zM1719 44.5h2.5v2.5h-2.5zM1716.5 49.5h5v2.5h-5zM1716.5 52h2.5v2.5h-2.5zM1729 52h7.5v2.5h-7.5zM1711.5 54.5h2.5v2.5h-2.5zM1721.5 54.5h2.5v2.5h-2.5zM1729 54.5h5v2.5h-5zM1714 57h10v2.5h-10zM1734 57h2.5v2.5h-2.5zM1716.5 59.5h2.5v2.5h-2.5zM1724 59.5h2.5v2.5h-2.5zM1711.5 62h2.5v2.5h-2.5zM1716.5 62h5v2.5h-5zM1686.5 69.5h2.5v2.5h-2.5zM1699 72h2.5v2.5h-2.5zM1719 74.5h2.5v2.5h-2.5zM1726.5 74.5h2.5v2.5h-2.5zM1699 87h2.5v2.5h-2.5zM1696.5 89.5h7.5v2.5h-7.5zM1691.5 92h15v2.5h-15zM1691.5 94.5h17.5v2.5h-17.5zM1691.5 97h7.5v2.5h-7.5zM1701.5 97h5v2.5h-5zM1691.5 99.5h7.5v2.5h-7.5zM1701.5 99.5h5v2.5h-5zM1691.5 102h7.5v2.5h-7.5zM1701.5 102h2.5v2.5h-2.5zM1706.5 102h2.5v2.5h-2.5zM1694 104.5h7.5v2.5h-7.5zM1704 104.5h5v2.5h-5zM1714 104.5h2.5v2.5h-2.5zM1721.5 104.5h2.5v2.5h-2.5zM1696.5 107h10v2.5h-10zM1714 107h2.5v2.5h-2.5zM1719 107h2.5v2.5h-2.5zM1691.5 109.5h2.5v2.5h-2.5zM1719 114.5h2.5v2.5h-2.5zM1731.5 239.5h2.5v2.5h-2.5zM1734 242h2.5v2.5h-2.5zM1736.5 244.5h2.5v2.5h-2.5zM1731.5 247h5v2.5h-5zM1734 302h2.5v2.5h-2.5zM1729 307h2.5v2.5h-2.5zM1734 307h2.5v2.5h-2.5zM1731.5 414.5h2.5v2.5h-2.5zM1229 422h2.5v2.5h-2.5zM1234 429.5h2.5v2.5h-2.5zM1229 454.5h2.5v2.5h-2.5zM1229 462h2.5v2.5h-2.5zM1234 464.5h2.5v2.5h-2.5z"/><path fill="#0000ff" d="M1674 22h2.5v2.5h-2.5zM1684 22h2.5v2.5h-2.5zM1279 24.5h2.5v2.5h-2.5zM1681.5 24.5h2.5v2.5h-2.5zM1716.5 24.5h2.5v2.5h-2.5zM1249 27h5v2.5h-5zM1239 29.5h2.5v2.5h-2.5zM1321.5 29.5h2.5v2.5h-2.5zM1251.5 32h2.5v2.5h-2.5zM1279 32h2.5v2.5h-2.5zM1689 32h2.5v2.5h-2.5zM1699 32h2.5v2.5h-2.5zM1606.5 37h2.5v2.5h-2.5zM1714 37h2.5v2.5h-2.5zM1279 39.5h2.5v2.5h-2.5zM1236.5 49.5h2.5v2.5h-2.5zM1229 77h2.5v2.5h-2.5zM1699 97h2.5v2.5h-2.5zM1706.5 97h2.5v2.5h-2.5zM1699 99.5h2.5v2.5h-2.5zM1706.5 99.5h2.5v2.5h-2.5zM1699 102h2.5v2.5h-2.5zM1704 102h2.5v2.5h-2.5zM1701.5 104.5h2.5v2.5h-2.5z"/><path fill="#d2208c" d="M1281.5 34.5h2.5v2.5h-2.5zM1291.5 34.5h2.5v2.5h-2.5zM1264 37h2.5v2.5h-2.5zM1289 37h2.5v2.5h-2.5zM1491.5 37h2.5v2.5h-2.5zM1471.5 42h2.5v2.5h-2.5z"/>
<use href="#gM" transform="translate(1227.16,41.81) scale(0.856,0.854)" fill="none" stroke="#3a2600" stroke-width="1.2"/>
<g transform="translate(1227.16,41.81) scale(0.856,0.854)"><rect x="293" y="230" width="5" height="20" fill="#000" opacity="0.8"/><path d="M300.3,224H306.8V232H300.3Z M300.3,248H306.8V256H300.3Z M330.6,220H334.2V231.3H330.6Z M330.6,248.7H334.2V260H330.6Z M337,225.6H353V227.4H337Z M337,252.6H353V254.4H337Z M368.9,214.2H371.7V221.8H368.9Z M368.9,258.2H371.7V265.8H368.9Z" fill="#000"/><path d="M359.5,205V285M331.5,287.5H434" fill="none" stroke="#b07000" stroke-width="1" class="nv"/><path d="M370.5,235.3V244.7H373.4V235.3Z M302,212V282" fill="none" stroke="#000" stroke-width="1" class="nv"/></g>
<use href="#gTb" transform="translate(1227.16,41.81) scale(0.856,0.854)" fill="none" stroke="#000" stroke-width="1" stroke-dasharray="4 2.5"/>
<use href="#gTw" transform="translate(1227.16,41.81) scale(0.856,0.854)" fill="none" stroke="#000" stroke-width="1.8" stroke-dasharray="5 2.5"/>
<circle cx="1582.4" cy="293" r="3.4" fill="none" stroke="#000" stroke-width="1"/>
</g>
<path d="M1240.5,12V20" stroke="#333" stroke-width="1.2"/>
<rect x="1800" y="191.8" width="37" height="43.7" fill="#d2208c"/>
<rect x="1800" y="235.5" width="37" height="44.2" fill="#0000ff"/>
<rect x="1800" y="279.7" width="37" height="44.0" fill="#ffff00"/>
<rect x="1800" y="323.7" width="37" height="43.9" fill="#00f000"/>
<rect x="1800" y="367.6" width="37" height="44.3" fill="#00ffff"/>
<rect x="1800" y="411.9" width="37" height="43.9" fill="#ffa500"/>
<path d="M1782,191.8H1838M1782,235.5H1838M1782,279.7H1838M1782,323.7H1838M1782,367.6H1838M1782,411.9H1838M1782,455.8H1838M1837.3,191.8V455.8" stroke="#333" stroke-width="1.3" fill="none"/>
<text class="i" x="1747" y="191">1</text>
<text class="i" x="1747" y="235">.5</text>
<text class="i" x="1747" y="279.5">.25</text>
<text class="i" x="1747" y="323.5">.15</text>
<text class="i" x="1747" y="367.5">.1</text>
<text class="i" x="1747" y="411.8">.05</text>
<text class="i" x="1747" y="469.7">0</text>
</svg></body></html>
